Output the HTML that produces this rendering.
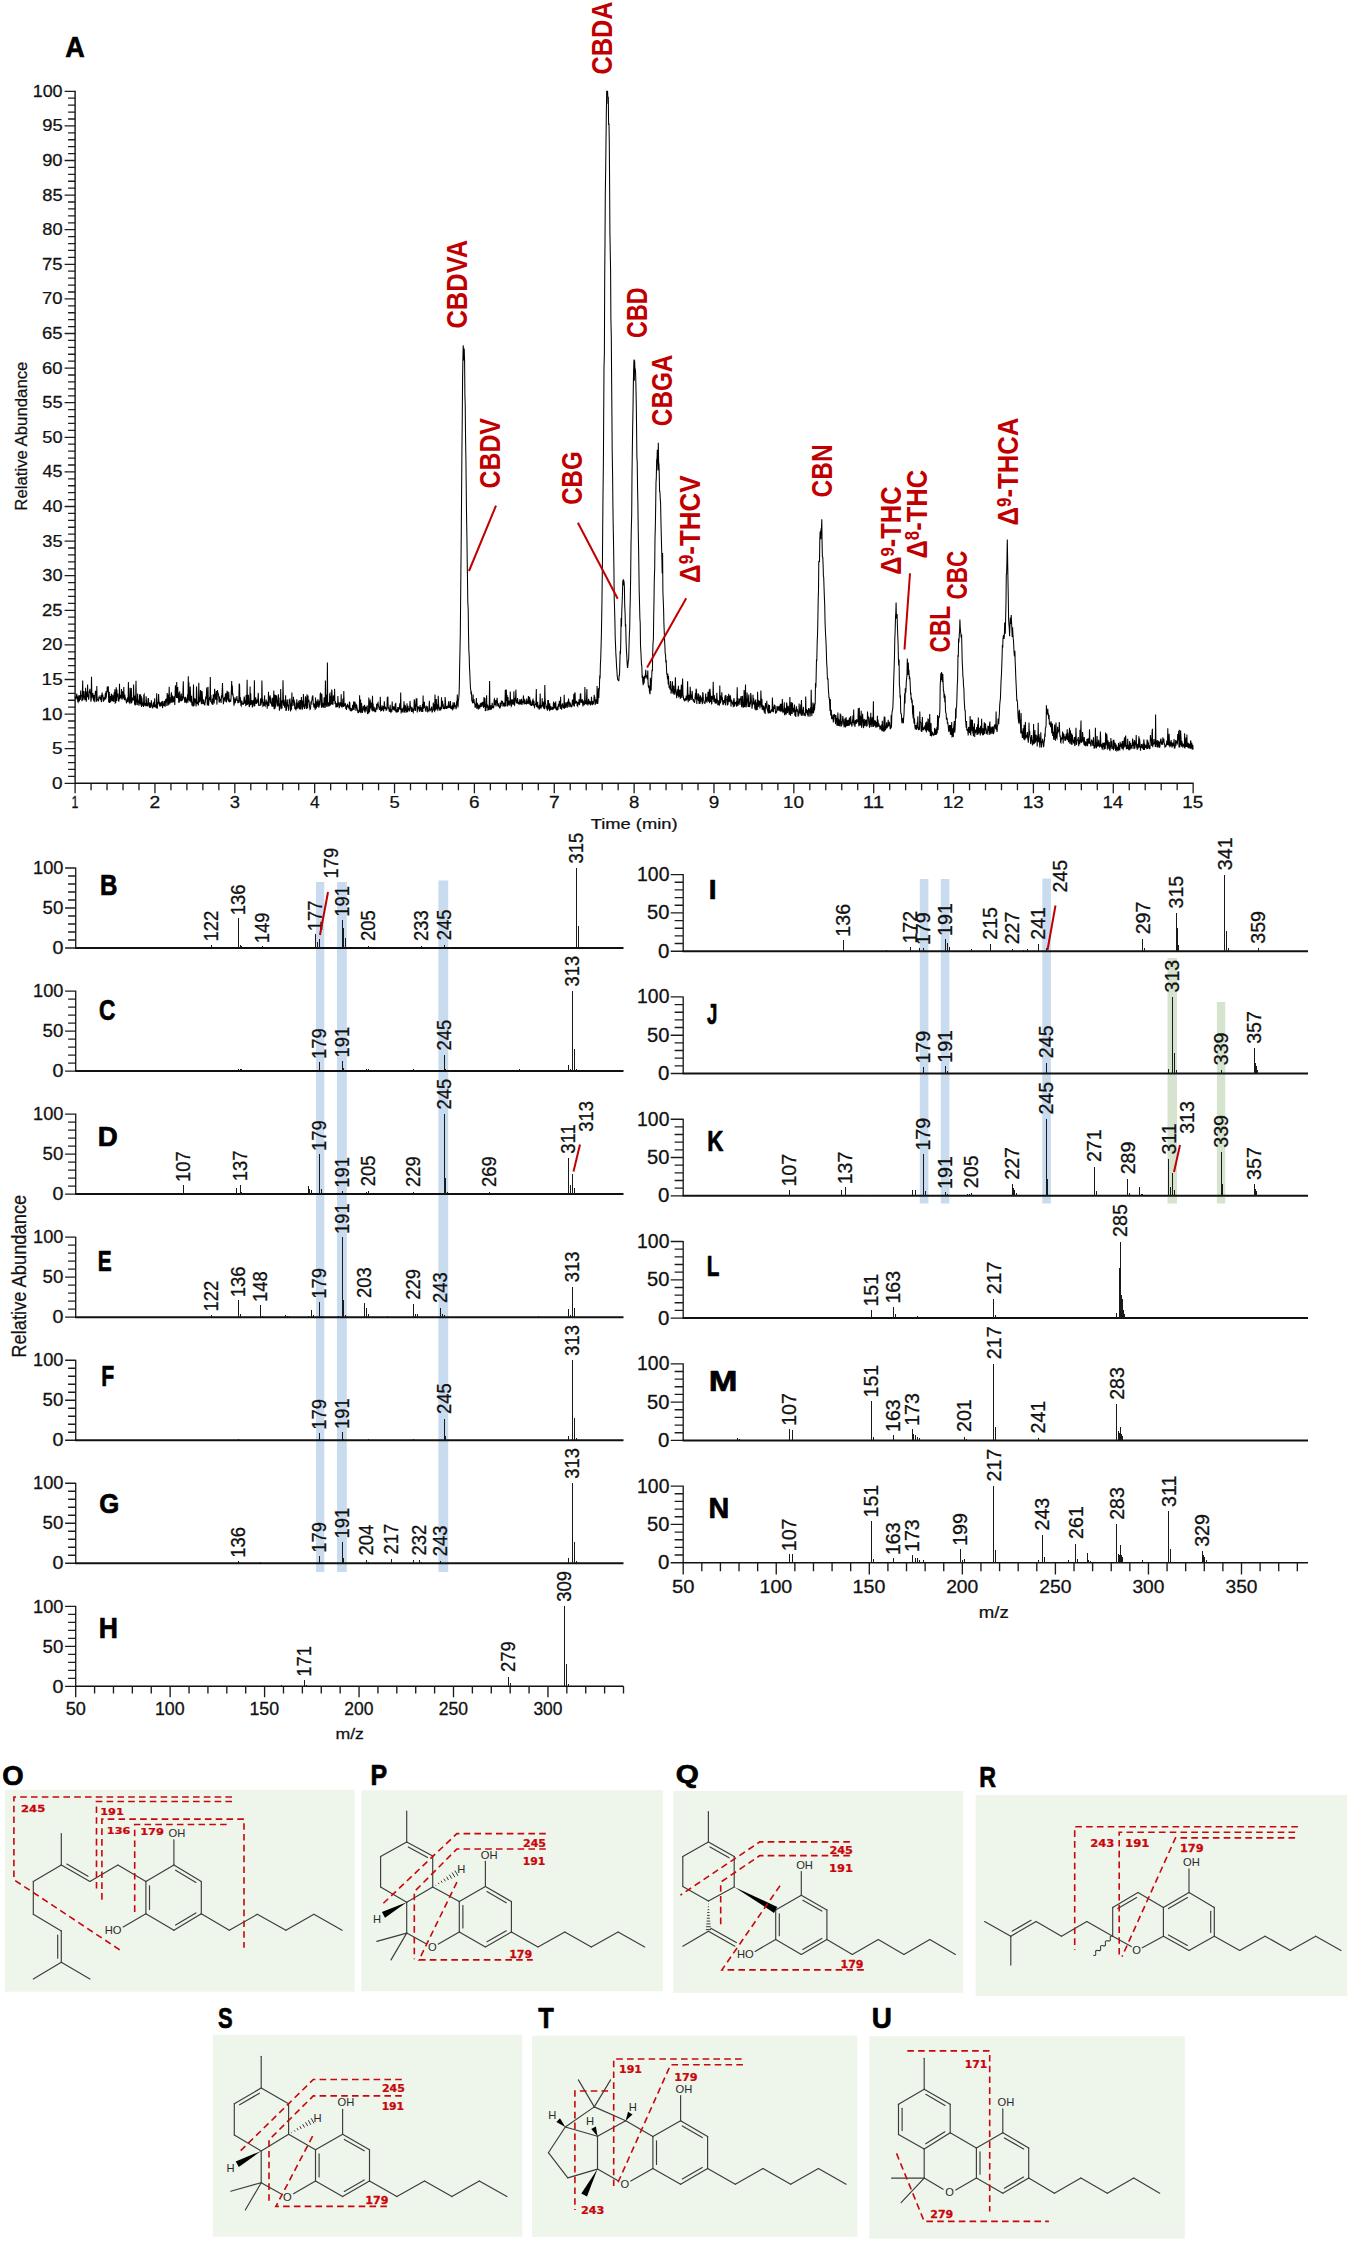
<!DOCTYPE html>
<html lang="en"><head><meta charset="utf-8"><title>Figure</title>
<style>html,body{margin:0;padding:0;background:#fff}body{width:1350px;height:2242px;overflow:hidden}text{white-space:pre}</style></head>
<body>
<svg width="1350" height="2242" viewBox="0 0 1350 2242" style="display:block">
<path d="M75.1 90.8V783.3H1193.6" fill="none" stroke="#111" stroke-width="1.4"/>
<path d="M64.6 783.30H75.1M68.1 776.38H75.1M68.1 769.46H75.1M68.1 762.54H75.1M68.1 755.62H75.1M64.6 748.70H75.1M68.1 741.78H75.1M68.1 734.86H75.1M68.1 727.94H75.1M68.1 721.02H75.1M64.6 714.10H75.1M68.1 707.18H75.1M68.1 700.26H75.1M68.1 693.34H75.1M68.1 686.42H75.1M64.6 679.50H75.1M68.1 672.58H75.1M68.1 665.66H75.1M68.1 658.74H75.1M68.1 651.82H75.1M64.6 644.90H75.1M68.1 637.98H75.1M68.1 631.06H75.1M68.1 624.14H75.1M68.1 617.22H75.1M64.6 610.30H75.1M68.1 603.38H75.1M68.1 596.46H75.1M68.1 589.54H75.1M68.1 582.62H75.1M64.6 575.70H75.1M68.1 568.78H75.1M68.1 561.86H75.1M68.1 554.94H75.1M68.1 548.02H75.1M64.6 541.10H75.1M68.1 534.18H75.1M68.1 527.26H75.1M68.1 520.34H75.1M68.1 513.42H75.1M64.6 506.50H75.1M68.1 499.58H75.1M68.1 492.66H75.1M68.1 485.74H75.1M68.1 478.82H75.1M64.6 471.90H75.1M68.1 464.98H75.1M68.1 458.06H75.1M68.1 451.14H75.1M68.1 444.22H75.1M64.6 437.30H75.1M68.1 430.38H75.1M68.1 423.46H75.1M68.1 416.54H75.1M68.1 409.62H75.1M64.6 402.70H75.1M68.1 395.78H75.1M68.1 388.86H75.1M68.1 381.94H75.1M68.1 375.02H75.1M64.6 368.10H75.1M68.1 361.18H75.1M68.1 354.26H75.1M68.1 347.34H75.1M68.1 340.42H75.1M64.6 333.50H75.1M68.1 326.58H75.1M68.1 319.66H75.1M68.1 312.74H75.1M68.1 305.82H75.1M64.6 298.90H75.1M68.1 291.98H75.1M68.1 285.06H75.1M68.1 278.14H75.1M68.1 271.22H75.1M64.6 264.30H75.1M68.1 257.38H75.1M68.1 250.46H75.1M68.1 243.54H75.1M68.1 236.62H75.1M64.6 229.70H75.1M68.1 222.78H75.1M68.1 215.86H75.1M68.1 208.94H75.1M68.1 202.02H75.1M64.6 195.10H75.1M68.1 188.18H75.1M68.1 181.26H75.1M68.1 174.34H75.1M68.1 167.42H75.1M64.6 160.50H75.1M68.1 153.58H75.1M68.1 146.66H75.1M68.1 139.74H75.1M68.1 132.82H75.1M64.6 125.90H75.1M68.1 118.98H75.1M68.1 112.06H75.1M68.1 105.14H75.1M68.1 98.22H75.1M64.6 91.30H75.1M75.10 783.3v10M91.07 783.3v7M107.04 783.3v7M123.02 783.3v7M138.99 783.3v7M154.96 783.3v10M170.93 783.3v7M186.90 783.3v7M202.88 783.3v7M218.85 783.3v7M234.82 783.3v10M250.79 783.3v7M266.76 783.3v7M282.74 783.3v7M298.71 783.3v7M314.68 783.3v10M330.65 783.3v7M346.62 783.3v7M362.60 783.3v7M378.57 783.3v7M394.54 783.3v10M410.51 783.3v7M426.48 783.3v7M442.46 783.3v7M458.43 783.3v7M474.40 783.3v10M490.37 783.3v7M506.34 783.3v7M522.32 783.3v7M538.29 783.3v7M554.26 783.3v10M570.23 783.3v7M586.20 783.3v7M602.18 783.3v7M618.15 783.3v7M634.12 783.3v10M650.09 783.3v7M666.06 783.3v7M682.04 783.3v7M698.01 783.3v7M713.98 783.3v10M729.95 783.3v7M745.92 783.3v7M761.90 783.3v7M777.87 783.3v7M793.84 783.3v10M809.81 783.3v7M825.78 783.3v7M841.76 783.3v7M857.73 783.3v7M873.70 783.3v10M889.67 783.3v7M905.64 783.3v7M921.62 783.3v7M937.59 783.3v7M953.56 783.3v10M969.53 783.3v7M985.50 783.3v7M1001.48 783.3v7M1017.45 783.3v7M1033.42 783.3v10M1049.39 783.3v7M1065.36 783.3v7M1081.34 783.3v7M1097.31 783.3v7M1113.28 783.3v10M1129.25 783.3v7M1145.22 783.3v7M1161.20 783.3v7M1177.17 783.3v7M1193.14 783.3v10" fill="none" stroke="#1c1c1c" stroke-width="1.3"/>
<text transform="translate(52.07,788.71) scale(1.1412,1)" font-family='"Liberation Sans", sans-serif' font-weight="normal" font-size="16.61" fill="#111"  stroke="#111" stroke-width="0.25" stroke-linejoin="round">0</text>
<text transform="translate(52.06,754.11) scale(1.1310,1)" font-family='"Liberation Sans", sans-serif' font-weight="normal" font-size="16.85" fill="#111"  stroke="#111" stroke-width="0.25" stroke-linejoin="round">5</text>
<text transform="translate(41.61,719.51) scale(1.1379,1)" font-family='"Liberation Sans", sans-serif' font-weight="normal" font-size="16.61" fill="#111"  stroke="#111" stroke-width="0.25" stroke-linejoin="round">10</text>
<text transform="translate(41.60,684.91) scale(1.1246,1)" font-family='"Liberation Sans", sans-serif' font-weight="normal" font-size="16.85" fill="#111"  stroke="#111" stroke-width="0.25" stroke-linejoin="round">15</text>
<text transform="translate(42.10,650.31) scale(1.1100,1)" font-family='"Liberation Sans", sans-serif' font-weight="normal" font-size="16.61" fill="#111"  stroke="#111" stroke-width="0.25" stroke-linejoin="round">20</text>
<text transform="translate(42.10,615.71) scale(1.1128,1)" font-family='"Liberation Sans", sans-serif' font-weight="normal" font-size="16.61" fill="#111"  stroke="#111" stroke-width="0.25" stroke-linejoin="round">25</text>
<text transform="translate(42.34,581.11) scale(1.0966,1)" font-family='"Liberation Sans", sans-serif' font-weight="normal" font-size="16.61" fill="#111"  stroke="#111" stroke-width="0.25" stroke-linejoin="round">30</text>
<text transform="translate(42.34,546.51) scale(1.0993,1)" font-family='"Liberation Sans", sans-serif' font-weight="normal" font-size="16.61" fill="#111"  stroke="#111" stroke-width="0.25" stroke-linejoin="round">35</text>
<text transform="translate(42.62,511.91) scale(1.0810,1)" font-family='"Liberation Sans", sans-serif' font-weight="normal" font-size="16.61" fill="#111"  stroke="#111" stroke-width="0.25" stroke-linejoin="round">40</text>
<text transform="translate(42.62,477.31) scale(1.0682,1)" font-family='"Liberation Sans", sans-serif' font-weight="normal" font-size="16.85" fill="#111"  stroke="#111" stroke-width="0.25" stroke-linejoin="round">45</text>
<text transform="translate(42.29,442.71) scale(1.0993,1)" font-family='"Liberation Sans", sans-serif' font-weight="normal" font-size="16.61" fill="#111"  stroke="#111" stroke-width="0.25" stroke-linejoin="round">50</text>
<text transform="translate(42.29,408.11) scale(1.0864,1)" font-family='"Liberation Sans", sans-serif' font-weight="normal" font-size="16.85" fill="#111"  stroke="#111" stroke-width="0.25" stroke-linejoin="round">55</text>
<text transform="translate(42.10,373.51) scale(1.1100,1)" font-family='"Liberation Sans", sans-serif' font-weight="normal" font-size="16.61" fill="#111"  stroke="#111" stroke-width="0.25" stroke-linejoin="round">60</text>
<text transform="translate(42.10,338.91) scale(1.1128,1)" font-family='"Liberation Sans", sans-serif' font-weight="normal" font-size="16.61" fill="#111"  stroke="#111" stroke-width="0.25" stroke-linejoin="round">65</text>
<text transform="translate(42.10,304.31) scale(1.1100,1)" font-family='"Liberation Sans", sans-serif' font-weight="normal" font-size="16.61" fill="#111"  stroke="#111" stroke-width="0.25" stroke-linejoin="round">70</text>
<text transform="translate(42.10,269.71) scale(1.0970,1)" font-family='"Liberation Sans", sans-serif' font-weight="normal" font-size="16.85" fill="#111"  stroke="#111" stroke-width="0.25" stroke-linejoin="round">75</text>
<text transform="translate(42.25,235.11) scale(1.1020,1)" font-family='"Liberation Sans", sans-serif' font-weight="normal" font-size="16.61" fill="#111"  stroke="#111" stroke-width="0.25" stroke-linejoin="round">80</text>
<text transform="translate(42.25,200.51) scale(1.1046,1)" font-family='"Liberation Sans", sans-serif' font-weight="normal" font-size="16.61" fill="#111"  stroke="#111" stroke-width="0.25" stroke-linejoin="round">85</text>
<text transform="translate(42.15,165.91) scale(1.1073,1)" font-family='"Liberation Sans", sans-serif' font-weight="normal" font-size="16.61" fill="#111"  stroke="#111" stroke-width="0.25" stroke-linejoin="round">90</text>
<text transform="translate(42.15,131.31) scale(1.1100,1)" font-family='"Liberation Sans", sans-serif' font-weight="normal" font-size="16.61" fill="#111"  stroke="#111" stroke-width="0.25" stroke-linejoin="round">95</text>
<text transform="translate(32.68,96.71) scale(1.0784,1)" font-family='"Liberation Sans", sans-serif' font-weight="normal" font-size="16.61" fill="#111"  stroke="#111" stroke-width="0.25" stroke-linejoin="round">100</text>
<text transform="translate(71.50,808.17) scale(0.7696,1)" font-family='"Liberation Sans", sans-serif' font-weight="normal" font-size="16.07" fill="#111"  stroke="#111" stroke-width="0.25" stroke-linejoin="round">1</text>
<text transform="translate(149.62,808.17) scale(1.2139,1)" font-family='"Liberation Sans", sans-serif' font-weight="normal" font-size="15.84" fill="#111"  stroke="#111" stroke-width="0.25" stroke-linejoin="round">2</text>
<text transform="translate(229.75,808.02) scale(1.1794,1)" font-family='"Liberation Sans", sans-serif' font-weight="normal" font-size="15.62" fill="#111"  stroke="#111" stroke-width="0.25" stroke-linejoin="round">3</text>
<text transform="translate(309.92,808.17) scale(1.0780,1)" font-family='"Liberation Sans", sans-serif' font-weight="normal" font-size="16.07" fill="#111"  stroke="#111" stroke-width="0.25" stroke-linejoin="round">4</text>
<text transform="translate(389.43,808.02) scale(1.1628,1)" font-family='"Liberation Sans", sans-serif' font-weight="normal" font-size="15.84" fill="#111"  stroke="#111" stroke-width="0.25" stroke-linejoin="round">5</text>
<text transform="translate(469.08,808.02) scale(1.2113,1)" font-family='"Liberation Sans", sans-serif' font-weight="normal" font-size="15.62" fill="#111"  stroke="#111" stroke-width="0.25" stroke-linejoin="round">6</text>
<text transform="translate(548.92,808.17) scale(1.1965,1)" font-family='"Liberation Sans", sans-serif' font-weight="normal" font-size="16.07" fill="#111"  stroke="#111" stroke-width="0.25" stroke-linejoin="round">7</text>
<text transform="translate(628.95,808.02) scale(1.1920,1)" font-family='"Liberation Sans", sans-serif' font-weight="normal" font-size="15.62" fill="#111"  stroke="#111" stroke-width="0.25" stroke-linejoin="round">8</text>
<text transform="translate(708.71,808.02) scale(1.2113,1)" font-family='"Liberation Sans", sans-serif' font-weight="normal" font-size="15.62" fill="#111"  stroke="#111" stroke-width="0.25" stroke-linejoin="round">9</text>
<text transform="translate(783.06,808.02) scale(1.2035,1)" font-family='"Liberation Sans", sans-serif' font-weight="normal" font-size="15.62" fill="#111"  stroke="#111" stroke-width="0.25" stroke-linejoin="round">10</text>
<text transform="translate(862.79,808.17) scale(1.2749,1)" font-family='"Liberation Sans", sans-serif' font-weight="normal" font-size="16.07" fill="#111"  stroke="#111" stroke-width="0.25" stroke-linejoin="round">11</text>
<text transform="translate(942.76,808.17) scale(1.2016,1)" font-family='"Liberation Sans", sans-serif' font-weight="normal" font-size="15.84" fill="#111"  stroke="#111" stroke-width="0.25" stroke-linejoin="round">12</text>
<text transform="translate(1022.63,808.02) scale(1.2096,1)" font-family='"Liberation Sans", sans-serif' font-weight="normal" font-size="15.62" fill="#111"  stroke="#111" stroke-width="0.25" stroke-linejoin="round">13</text>
<text transform="translate(1102.51,808.17) scale(1.1579,1)" font-family='"Liberation Sans", sans-serif' font-weight="normal" font-size="16.07" fill="#111"  stroke="#111" stroke-width="0.25" stroke-linejoin="round">14</text>
<text transform="translate(1182.35,808.02) scale(1.1895,1)" font-family='"Liberation Sans", sans-serif' font-weight="normal" font-size="15.84" fill="#111"  stroke="#111" stroke-width="0.25" stroke-linejoin="round">15</text>
<text transform="translate(590.71,829.17) scale(1.2264,1)" font-family='"Liberation Sans", sans-serif' font-weight="normal" font-size="14.96" fill="#111"  stroke="#111" stroke-width="0.25" stroke-linejoin="round">Time (min)</text>
<text transform="translate(26.60,510.66) rotate(-90) scale(0.9827,1)" font-family='"Liberation Sans", sans-serif' font-weight="normal" font-size="17.07" fill="#111"  stroke="#111" stroke-width="0.25" stroke-linejoin="round">Relative Abundance</text>
<polyline points="75.1,696.6 75.4,697.9 75.8,698.6 76.1,696.2 76.4,698.7 76.7,693.7 77.1,695.9 77.4,696.6 77.7,701.2 78.1,702.1 78.4,701.0 78.7,695.4 79.0,696.5 79.4,701.4 79.7,695.3 80.0,699.5 80.4,699.4 80.7,690.5 81.0,696.5 81.3,695.6 81.7,695.5 82.0,701.2 82.3,695.3 82.7,680.4 83.0,700.3 83.3,692.5 83.7,691.8 84.0,691.7 84.3,698.6 84.6,697.8 85.0,700.1 85.3,696.6 85.6,687.8 86.0,698.9 86.3,701.6 86.6,696.1 86.9,691.5 87.3,697.3 87.6,684.6 87.9,697.0 88.3,696.2 88.6,699.8 88.9,697.6 89.2,691.6 89.6,691.5 89.9,688.7 90.2,692.3 90.6,693.8 90.9,701.8 91.2,699.4 91.5,676.8 91.9,698.5 92.2,693.2 92.5,696.9 92.9,693.0 93.2,696.4 93.5,700.1 93.8,699.6 94.2,695.1 94.5,698.8 94.8,702.2 95.2,694.2 95.5,690.8 95.8,691.9 96.2,691.7 96.5,701.7 96.8,685.9 97.1,697.9 97.5,700.5 97.8,699.0 98.1,700.0 98.5,701.4 98.8,697.5 99.1,696.7 99.4,698.4 99.8,696.8 100.1,698.3 100.4,699.3 100.8,699.8 101.1,695.1 101.4,702.1 101.7,699.8 102.1,692.6 102.4,696.7 102.7,694.6 103.1,697.8 103.4,701.6 103.7,699.3 104.0,697.2 104.4,699.3 104.7,698.5 105.0,697.0 105.4,693.0 105.7,699.5 106.0,691.2 106.3,697.7 106.7,692.3 107.0,691.1 107.3,686.5 107.7,691.5 108.0,691.6 108.3,686.3 108.7,702.4 109.0,700.9 109.3,691.7 109.6,703.0 110.0,696.6 110.3,696.6 110.6,702.0 111.0,700.7 111.3,693.8 111.6,694.5 111.9,699.6 112.3,700.4 112.6,700.0 112.9,694.9 113.3,701.7 113.6,697.2 113.9,701.8 114.2,692.3 114.6,696.3 114.9,689.2 115.2,703.0 115.6,702.7 115.9,699.7 116.2,687.2 116.5,701.2 116.9,689.5 117.2,696.6 117.5,696.6 117.9,693.5 118.2,700.9 118.5,699.8 118.8,701.6 119.2,697.0 119.5,683.8 119.8,699.1 120.2,695.0 120.5,695.7 120.8,696.7 121.2,698.4 121.5,689.1 121.8,697.2 122.1,699.7 122.5,691.4 122.8,693.3 123.1,696.2 123.5,698.4 123.8,687.0 124.1,697.8 124.4,700.3 124.8,694.6 125.1,699.3 125.4,698.1 125.8,699.6 126.1,698.9 126.4,703.3 126.7,701.5 127.1,701.3 127.4,699.6 127.7,697.2 128.1,702.2 128.4,682.1 128.7,699.3 129.0,696.7 129.4,702.7 129.7,702.2 130.0,687.7 130.4,695.4 130.7,699.7 131.0,703.7 131.3,688.1 131.7,702.8 132.0,701.3 132.3,700.1 132.7,697.6 133.0,699.5 133.3,699.8 133.6,684.6 134.0,699.2 134.3,697.4 134.6,704.7 135.0,695.5 135.3,705.4 135.6,702.8 136.0,680.7 136.3,700.8 136.6,700.4 136.9,704.6 137.3,704.7 137.6,693.4 137.9,702.6 138.3,701.2 138.6,702.2 138.9,705.7 139.2,701.6 139.6,694.4 139.9,704.1 140.2,698.7 140.6,694.2 140.9,705.5 141.2,696.1 141.5,707.0 141.9,697.7 142.2,703.0 142.5,705.6 142.9,702.2 143.2,704.2 143.5,707.0 143.8,695.2 144.2,694.5 144.5,705.7 144.8,703.8 145.2,704.1 145.5,703.2 145.8,706.5 146.1,696.3 146.5,701.9 146.8,705.8 147.1,704.3 147.5,705.3 147.8,703.2 148.1,698.7 148.5,698.6 148.8,706.4 149.1,702.0 149.4,706.0 149.8,707.9 150.1,706.6 150.4,702.7 150.8,707.7 151.1,705.6 151.4,700.4 151.7,705.6 152.1,705.8 152.4,706.5 152.7,708.4 153.1,704.2 153.4,702.9 153.7,702.5 154.0,706.8 154.4,706.8 154.7,698.3 155.0,706.6 155.4,704.5 155.7,707.0 156.0,707.0 156.3,708.0 156.7,693.2 157.0,704.6 157.3,708.6 157.7,702.9 158.0,703.2 158.3,703.0 158.6,693.9 159.0,703.3 159.3,702.9 159.6,705.7 160.0,706.6 160.3,703.0 160.6,703.3 161.0,706.2 161.3,704.8 161.6,702.3 161.9,701.9 162.3,704.8 162.6,708.2 162.9,701.2 163.3,703.8 163.6,705.7 163.9,704.2 164.2,706.1 164.6,700.8 164.9,703.4 165.2,706.8 165.6,699.9 165.9,699.0 166.2,702.3 166.5,698.5 166.9,706.0 167.2,693.1 167.5,699.3 167.9,694.5 168.2,705.5 168.5,703.0 168.8,701.8 169.2,686.7 169.5,700.4 169.8,704.4 170.2,697.2 170.5,698.9 170.8,702.6 171.1,694.9 171.5,692.3 171.8,700.5 172.1,702.9 172.5,695.5 172.8,697.0 173.1,700.3 173.5,702.1 173.8,700.0 174.1,696.3 174.4,698.3 174.8,704.9 175.1,695.0 175.4,685.2 175.8,696.2 176.1,692.9 176.4,698.0 176.7,682.1 177.1,697.9 177.4,688.5 177.7,686.9 178.1,698.4 178.4,692.4 178.7,702.7 179.0,695.7 179.4,702.6 179.7,691.3 180.0,699.5 180.4,698.5 180.7,701.1 181.0,696.3 181.3,693.5 181.7,701.1 182.0,699.1 182.3,696.4 182.7,700.2 183.0,689.3 183.3,681.2 183.6,696.5 184.0,698.3 184.3,697.1 184.6,701.2 185.0,702.9 185.3,701.1 185.6,696.9 186.0,699.6 186.3,701.8 186.6,702.3 186.9,698.5 187.3,700.1 187.6,694.3 187.9,702.7 188.3,676.2 188.6,699.4 188.9,682.2 189.2,700.7 189.6,696.3 189.9,701.5 190.2,686.6 190.6,695.3 190.9,702.6 191.2,700.6 191.5,695.8 191.9,705.4 192.2,703.1 192.5,702.7 192.9,706.5 193.2,698.9 193.5,684.6 193.8,706.2 194.2,705.0 194.5,700.2 194.8,698.8 195.2,699.2 195.5,702.3 195.8,703.3 196.1,706.5 196.5,686.4 196.8,692.2 197.1,704.1 197.5,701.5 197.8,702.6 198.1,703.3 198.4,705.5 198.8,682.8 199.1,702.5 199.4,697.1 199.8,702.4 200.1,699.9 200.4,690.1 200.8,701.0 201.1,690.7 201.4,704.2 201.7,697.4 202.1,691.4 202.4,696.7 202.7,704.1 203.1,702.9 203.4,704.0 203.7,699.4 204.0,702.0 204.4,704.2 204.7,705.5 205.0,703.7 205.4,701.1 205.7,696.6 206.0,698.7 206.3,696.8 206.7,687.6 207.0,698.3 207.3,705.5 207.7,701.6 208.0,686.8 208.3,699.6 208.6,705.7 209.0,700.5 209.3,699.5 209.6,696.8 210.0,700.0 210.3,677.1 210.6,701.8 210.9,695.1 211.3,701.7 211.6,703.4 211.9,701.6 212.3,704.4 212.6,698.6 212.9,705.0 213.3,694.3 213.6,699.6 213.9,695.5 214.2,703.5 214.6,688.8 214.9,691.3 215.2,693.2 215.6,699.8 215.9,694.4 216.2,699.4 216.5,690.9 216.9,704.6 217.2,698.9 217.5,690.1 217.9,694.0 218.2,693.6 218.5,694.2 218.8,698.2 219.2,702.7 219.5,696.4 219.8,701.0 220.2,700.4 220.5,699.7 220.8,699.2 221.1,703.0 221.5,695.2 221.8,698.2 222.1,691.9 222.5,683.0 222.8,694.6 223.1,698.7 223.4,704.1 223.8,699.6 224.1,698.4 224.4,697.9 224.8,699.2 225.1,701.8 225.4,693.7 225.8,698.7 226.1,692.9 226.4,702.5 226.7,697.9 227.1,691.4 227.4,691.7 227.7,698.6 228.1,700.1 228.4,701.3 228.7,691.8 229.0,697.4 229.4,702.4 229.7,699.8 230.0,701.9 230.4,699.5 230.7,701.6 231.0,698.5 231.3,691.4 231.7,680.9 232.0,694.4 232.3,685.6 232.7,695.6 233.0,695.0 233.3,697.0 233.6,699.9 234.0,705.8 234.3,703.5 234.6,700.6 235.0,697.4 235.3,703.1 235.6,699.6 235.9,700.2 236.3,700.2 236.6,699.4 236.9,696.1 237.3,701.0 237.6,700.2 237.9,703.1 238.3,701.3 238.6,702.9 238.9,697.3 239.2,683.5 239.6,685.2 239.9,702.4 240.2,697.1 240.6,699.3 240.9,705.3 241.2,705.8 241.5,702.7 241.9,700.7 242.2,704.7 242.5,703.8 242.9,703.5 243.2,703.8 243.5,704.7 243.8,701.3 244.2,696.5 244.5,698.8 244.8,703.8 245.2,701.1 245.5,700.2 245.8,706.1 246.1,694.9 246.5,703.5 246.8,705.1 247.1,679.8 247.5,704.6 247.8,702.2 248.1,703.8 248.4,694.8 248.8,702.3 249.1,705.9 249.4,707.0 249.8,703.5 250.1,686.5 250.4,705.2 250.7,693.3 251.1,704.8 251.4,702.3 251.7,700.2 252.1,702.2 252.4,707.4 252.7,704.3 253.1,700.2 253.4,704.2 253.7,699.5 254.0,706.6 254.4,680.2 254.7,706.1 255.0,702.7 255.4,702.7 255.7,697.2 256.0,703.8 256.3,702.1 256.7,702.8 257.0,699.9 257.3,700.0 257.7,702.6 258.0,697.4 258.3,692.9 258.6,705.2 259.0,705.0 259.3,705.2 259.6,705.4 260.0,705.2 260.3,702.4 260.6,698.4 260.9,705.4 261.3,700.5 261.6,703.3 261.9,680.6 262.3,701.5 262.6,698.7 262.9,706.4 263.2,706.1 263.6,701.8 263.9,705.8 264.2,703.2 264.6,695.4 264.9,705.8 265.2,706.1 265.6,702.2 265.9,704.2 266.2,699.6 266.5,703.7 266.9,703.4 267.2,708.8 267.5,701.4 267.9,705.9 268.2,702.6 268.5,691.8 268.8,706.2 269.2,701.5 269.5,697.1 269.8,696.9 270.2,695.3 270.5,703.5 270.8,697.8 271.1,701.8 271.5,704.7 271.8,705.6 272.1,706.7 272.5,697.7 272.8,703.6 273.1,706.7 273.4,704.5 273.8,690.5 274.1,708.6 274.4,708.6 274.8,694.5 275.1,708.8 275.4,694.9 275.7,706.6 276.1,702.2 276.4,696.3 276.7,696.0 277.1,700.1 277.4,704.7 277.7,705.9 278.1,705.9 278.4,694.3 278.7,703.2 279.0,697.5 279.4,710.8 279.7,706.6 280.0,703.6 280.4,706.8 280.7,689.0 281.0,709.2 281.3,702.5 281.7,700.2 282.0,708.6 282.3,700.5 282.7,703.3 283.0,680.3 283.3,696.1 283.6,705.8 284.0,699.8 284.3,703.6 284.6,707.6 285.0,702.1 285.3,703.1 285.6,695.3 285.9,710.3 286.3,710.2 286.6,708.7 286.9,702.2 287.3,699.4 287.6,706.4 287.9,704.6 288.2,705.6 288.6,710.7 288.9,708.9 289.2,700.5 289.6,701.0 289.9,698.5 290.2,701.9 290.6,711.4 290.9,704.2 291.2,703.8 291.5,709.8 291.9,692.6 292.2,706.1 292.5,699.9 292.9,701.1 293.2,702.1 293.5,696.8 293.8,705.8 294.2,699.8 294.5,702.8 294.8,709.0 295.2,707.4 295.5,708.9 295.8,709.5 296.1,702.5 296.5,709.2 296.8,699.2 297.1,705.8 297.5,705.8 297.8,708.6 298.1,702.8 298.4,707.7 298.8,701.2 299.1,700.9 299.4,709.2 299.8,702.1 300.1,709.6 300.4,700.0 300.7,709.6 301.1,707.8 301.4,697.1 301.7,703.3 302.1,700.8 302.4,709.8 302.7,700.4 303.0,707.3 303.4,694.0 303.7,704.2 304.0,704.9 304.4,709.0 304.7,707.5 305.0,704.6 305.4,696.5 305.7,697.3 306.0,705.6 306.3,708.3 306.7,708.5 307.0,694.3 307.3,703.4 307.7,708.2 308.0,695.6 308.3,702.2 308.6,701.0 309.0,700.5 309.3,703.4 309.6,706.9 310.0,709.5 310.3,709.1 310.6,708.1 310.9,702.7 311.3,703.4 311.6,701.3 311.9,700.5 312.3,696.6 312.6,696.2 312.9,695.4 313.2,704.4 313.6,704.7 313.9,707.5 314.2,704.1 314.6,704.8 314.9,707.6 315.2,709.9 315.5,697.5 315.9,702.5 316.2,708.4 316.5,706.9 316.9,701.2 317.2,707.0 317.5,703.6 317.9,699.3 318.2,700.5 318.5,705.4 318.8,707.6 319.2,706.1 319.5,700.8 319.8,705.2 320.2,694.2 320.5,692.7 320.8,694.5 321.1,700.6 321.5,707.8 321.8,693.7 322.1,700.1 322.5,706.2 322.8,706.8 323.1,706.0 323.4,703.0 323.8,707.7 324.1,697.3 324.4,704.9 324.8,700.7 325.1,707.9 325.4,680.6 325.7,697.9 326.1,703.6 326.4,706.8 326.7,694.7 327.1,704.6 327.4,662.6 327.7,705.9 328.0,706.7 328.4,703.2 328.7,702.9 329.0,704.4 329.4,706.2 329.7,694.0 330.0,693.5 330.4,705.6 330.7,695.8 331.0,702.6 331.3,703.1 331.7,689.5 332.0,691.5 332.3,704.4 332.7,699.6 333.0,704.9 333.3,695.4 333.6,698.9 334.0,701.0 334.3,699.7 334.6,688.8 335.0,704.1 335.3,701.0 335.6,702.6 335.9,707.5 336.3,703.9 336.6,707.2 336.9,703.1 337.3,706.4 337.6,706.6 337.9,696.0 338.2,705.0 338.6,704.6 338.9,702.3 339.2,708.2 339.6,706.5 339.9,706.2 340.2,702.2 340.5,703.1 340.9,706.1 341.2,694.2 341.5,706.0 341.9,706.8 342.2,702.9 342.5,706.8 342.9,698.4 343.2,703.5 343.5,707.0 343.8,691.0 344.2,706.4 344.5,705.3 344.8,704.0 345.2,704.0 345.5,703.8 345.8,708.9 346.1,705.5 346.5,710.0 346.8,706.8 347.1,706.4 347.5,703.9 347.8,707.2 348.1,705.2 348.4,707.8 348.8,706.3 349.1,709.2 349.4,702.3 349.8,702.7 350.1,710.7 350.4,708.0 350.7,708.4 351.1,711.4 351.4,710.6 351.7,708.4 352.1,710.7 352.4,707.2 352.7,704.8 353.0,709.8 353.4,705.5 353.7,701.4 354.0,710.1 354.4,702.8 354.7,702.6 355.0,701.7 355.4,708.3 355.7,707.4 356.0,710.9 356.3,704.7 356.7,705.4 357.0,707.3 357.3,708.8 357.7,710.9 358.0,713.3 358.3,710.8 358.6,713.0 359.0,709.6 359.3,711.6 359.6,695.3 360.0,711.2 360.3,712.0 360.6,699.6 360.9,713.2 361.3,703.8 361.6,703.6 361.9,709.9 362.3,713.0 362.6,711.5 362.9,709.1 363.2,705.9 363.6,707.5 363.9,708.0 364.2,711.1 364.6,704.8 364.9,712.6 365.2,711.9 365.5,709.2 365.9,706.5 366.2,708.0 366.5,707.8 366.9,711.4 367.2,705.4 367.5,714.1 367.8,711.8 368.2,713.2 368.5,712.7 368.8,697.4 369.2,706.3 369.5,712.5 369.8,709.8 370.2,699.5 370.5,708.5 370.8,702.3 371.1,704.8 371.5,704.1 371.8,710.5 372.1,708.0 372.5,695.7 372.8,711.6 373.1,703.4 373.4,711.0 373.8,709.0 374.1,706.7 374.4,710.4 374.8,709.8 375.1,712.1 375.4,709.4 375.7,712.2 376.1,707.3 376.4,708.4 376.7,703.9 377.1,709.6 377.4,703.9 377.7,703.4 378.0,702.7 378.4,705.4 378.7,706.8 379.0,707.5 379.4,709.9 379.7,708.6 380.0,708.6 380.3,696.8 380.7,711.5 381.0,709.2 381.3,707.4 381.7,710.9 382.0,705.4 382.3,710.2 382.7,707.0 383.0,708.2 383.3,706.0 383.6,711.5 384.0,707.2 384.3,701.4 384.6,704.8 385.0,708.4 385.3,708.2 385.6,707.8 385.9,709.2 386.3,710.8 386.6,708.5 386.9,708.8 387.3,697.3 387.6,706.7 387.9,696.5 388.2,708.8 388.6,707.4 388.9,708.7 389.2,711.1 389.6,711.3 389.9,709.8 390.2,704.8 390.5,711.7 390.9,712.2 391.2,709.2 391.5,710.9 391.9,711.1 392.2,701.6 392.5,709.4 392.8,707.2 393.2,709.6 393.5,706.4 393.8,709.7 394.2,710.0 394.5,706.9 394.8,709.8 395.2,703.9 395.5,711.5 395.8,702.8 396.1,712.4 396.5,710.9 396.8,709.3 397.1,712.5 397.5,711.4 397.8,707.0 398.1,710.5 398.4,711.8 398.8,707.0 399.1,709.5 399.4,707.7 399.8,703.2 400.1,709.8 400.4,708.6 400.7,692.4 401.1,713.5 401.4,709.1 401.7,711.8 402.1,708.2 402.4,711.8 402.7,711.0 403.0,712.6 403.4,706.9 403.7,709.6 404.0,701.3 404.4,712.0 404.7,704.6 405.0,712.9 405.3,705.2 405.7,708.1 406.0,710.8 406.3,709.1 406.7,712.4 407.0,703.2 407.3,712.1 407.7,710.8 408.0,705.8 408.3,710.3 408.6,708.4 409.0,708.5 409.3,710.9 409.6,710.4 410.0,700.9 410.3,705.6 410.6,707.0 410.9,708.8 411.3,711.1 411.6,711.8 411.9,706.8 412.3,710.4 412.6,709.7 412.9,711.4 413.2,712.1 413.6,708.5 413.9,711.1 414.2,699.4 414.6,701.4 414.9,709.6 415.2,704.3 415.5,710.9 415.9,704.2 416.2,698.4 416.5,706.6 416.9,698.2 417.2,712.4 417.5,709.0 417.8,709.6 418.2,706.4 418.5,708.8 418.8,706.8 419.2,708.4 419.5,710.9 419.8,711.7 420.1,705.0 420.5,710.7 420.8,707.1 421.1,707.8 421.5,710.3 421.8,712.0 422.1,708.3 422.5,704.1 422.8,711.9 423.1,695.6 423.4,708.6 423.8,707.7 424.1,703.5 424.4,701.9 424.8,708.0 425.1,706.3 425.4,710.8 425.7,709.1 426.1,711.8 426.4,706.8 426.7,707.4 427.1,707.3 427.4,707.0 427.7,712.5 428.0,709.7 428.4,711.3 428.7,710.0 429.0,707.3 429.4,700.7 429.7,709.6 430.0,710.8 430.3,710.3 430.7,709.3 431.0,709.5 431.3,708.3 431.7,706.5 432.0,711.9 432.3,711.9 432.6,710.5 433.0,710.1 433.3,702.4 433.6,709.4 434.0,703.9 434.3,710.8 434.6,711.2 435.0,694.5 435.3,704.7 435.6,710.5 435.9,708.6 436.3,699.0 436.6,706.6 436.9,709.3 437.3,704.4 437.6,706.2 437.9,711.1 438.2,695.8 438.6,703.6 438.9,707.7 439.2,708.8 439.6,709.2 439.9,710.6 440.2,706.8 440.5,708.8 440.9,709.6 441.2,708.9 441.5,697.3 441.9,708.6 442.2,702.6 442.5,700.7 442.8,706.4 443.2,703.7 443.5,709.0 443.8,707.5 444.2,706.2 444.5,708.8 444.8,708.7 445.1,697.0 445.5,701.7 445.8,706.6 446.1,708.9 446.5,706.1 446.8,708.8 447.1,707.1 447.5,706.4 447.8,706.0 448.1,708.1 448.4,703.6 448.8,701.2 449.1,707.6 449.4,705.9 449.8,707.9 450.1,706.0 450.4,701.1 450.7,708.2 451.1,708.5 451.4,707.3 451.7,707.8 452.1,706.2 452.4,706.7 452.7,710.4 453.0,702.4 453.4,708.0 453.7,707.4 454.0,708.6 454.4,702.3 454.7,703.5 455.0,707.0 455.3,705.7 455.7,706.5 456.0,709.2 456.3,708.1 456.7,701.0 457.0,705.2 457.3,694.6 457.6,703.9 458.0,707.4 458.3,700.8 458.6,699.3 459.0,695.4 459.3,687.2 459.6,667.4 460.0,650.0 460.3,634.0 460.6,604.0 460.9,571.7 461.3,529.0 461.6,491.4 461.9,453.1 462.3,414.0 462.6,378.3 462.9,359.3 463.2,345.4 463.6,352.8 463.9,360.5 464.2,348.6 464.6,360.9 464.9,396.0 465.2,404.3 465.5,432.8 465.9,458.9 466.2,485.4 466.5,512.8 466.9,536.0 467.2,560.1 467.5,579.3 467.8,602.6 468.2,608.8 468.5,632.5 468.8,649.0 469.2,656.2 469.5,667.7 469.8,672.5 470.1,680.3 470.5,688.7 470.8,689.9 471.1,694.5 471.5,691.5 471.8,701.3 472.1,700.1 472.4,702.2 472.8,703.3 473.1,694.5 473.4,702.8 473.8,700.5 474.1,700.1 474.4,703.5 474.8,704.0 475.1,707.2 475.4,707.1 475.7,705.4 476.1,702.5 476.4,698.1 476.7,708.7 477.1,704.6 477.4,702.7 477.7,707.9 478.0,708.3 478.4,709.5 478.7,704.5 479.0,706.8 479.4,705.4 479.7,708.7 480.0,706.7 480.3,703.3 480.7,706.9 481.0,704.3 481.3,702.5 481.7,706.6 482.0,705.3 482.3,703.4 482.6,703.8 483.0,701.9 483.3,706.8 483.6,707.8 484.0,696.9 484.3,706.8 484.6,705.3 484.9,697.9 485.3,711.1 485.6,708.2 485.9,711.0 486.3,702.4 486.6,695.3 486.9,707.7 487.3,705.3 487.6,704.6 487.9,710.6 488.2,708.1 488.6,705.9 488.9,710.0 489.2,708.4 489.6,680.9 489.9,705.2 490.2,709.4 490.5,709.1 490.9,705.2 491.2,709.6 491.5,708.6 491.9,706.9 492.2,702.9 492.5,708.0 492.8,707.2 493.2,705.8 493.5,707.4 493.8,706.8 494.2,699.4 494.5,698.9 494.8,704.6 495.1,704.8 495.5,704.9 495.8,700.0 496.1,706.4 496.5,701.4 496.8,702.4 497.1,697.8 497.4,701.6 497.8,706.2 498.1,703.8 498.4,703.8 498.8,707.0 499.1,706.0 499.4,707.4 499.8,707.9 500.1,702.5 500.4,707.4 500.7,704.1 501.1,706.2 501.4,700.6 501.7,703.1 502.1,702.9 502.4,700.9 502.7,703.8 503.0,706.7 503.4,704.0 503.7,702.6 504.0,704.1 504.4,703.0 504.7,706.6 505.0,703.0 505.3,689.7 505.7,705.9 506.0,705.8 506.3,689.4 506.7,700.9 507.0,694.9 507.3,698.4 507.6,706.4 508.0,697.1 508.3,702.6 508.6,705.1 509.0,700.8 509.3,701.8 509.6,701.3 509.9,705.8 510.3,691.4 510.6,703.3 510.9,699.0 511.3,706.1 511.6,705.5 511.9,700.8 512.3,699.4 512.6,704.3 512.9,699.9 513.2,704.1 513.6,703.8 513.9,691.3 514.2,704.7 514.6,705.2 514.9,701.9 515.2,697.8 515.5,699.6 515.9,689.4 516.2,702.5 516.5,700.4 516.9,703.7 517.2,701.4 517.5,698.0 517.8,700.6 518.2,703.6 518.5,703.9 518.8,703.0 519.2,703.9 519.5,704.0 519.8,699.3 520.1,704.1 520.5,703.2 520.8,699.8 521.1,704.6 521.5,698.9 521.8,703.5 522.1,704.0 522.4,701.9 522.8,702.4 523.1,702.0 523.4,695.4 523.8,701.0 524.1,704.5 524.4,702.6 524.8,700.1 525.1,700.6 525.4,703.9 525.7,702.9 526.1,703.3 526.4,704.5 526.7,698.5 527.1,703.6 527.4,702.5 527.7,701.8 528.0,703.8 528.4,696.0 528.7,701.8 529.0,703.0 529.4,702.3 529.7,696.8 530.0,705.1 530.3,699.9 530.7,705.4 531.0,701.2 531.3,705.9 531.7,704.0 532.0,705.1 532.3,704.7 532.6,700.2 533.0,699.5 533.3,703.9 533.6,705.6 534.0,700.8 534.3,706.8 534.6,707.3 534.9,704.7 535.3,704.8 535.6,704.0 535.9,704.7 536.3,689.1 536.6,707.0 536.9,706.2 537.2,707.0 537.6,701.8 537.9,707.3 538.2,708.1 538.6,706.1 538.9,707.3 539.2,704.8 539.6,709.5 539.9,703.1 540.2,693.5 540.5,707.2 540.9,707.9 541.2,705.0 541.5,707.3 541.9,705.3 542.2,698.3 542.5,706.5 542.8,702.4 543.2,704.7 543.5,708.5 543.8,701.6 544.2,704.3 544.5,709.3 544.8,685.1 545.1,698.5 545.5,703.6 545.8,704.4 546.1,708.4 546.5,707.3 546.8,705.7 547.1,709.2 547.4,710.7 547.8,700.1 548.1,709.1 548.4,700.1 548.8,707.9 549.1,709.5 549.4,710.0 549.7,703.2 550.1,708.3 550.4,710.3 550.7,706.0 551.1,707.3 551.4,709.0 551.7,709.1 552.1,709.0 552.4,707.2 552.7,708.6 553.0,709.8 553.4,703.3 553.7,701.6 554.0,707.6 554.4,707.0 554.7,703.0 555.0,708.6 555.3,705.6 555.7,701.6 556.0,707.4 556.3,710.3 556.7,709.3 557.0,708.4 557.3,706.5 557.6,709.8 558.0,709.5 558.3,704.8 558.6,703.8 559.0,706.6 559.3,701.3 559.6,701.5 559.9,702.0 560.3,708.7 560.6,696.8 560.9,708.8 561.3,706.7 561.6,709.6 561.9,704.6 562.2,706.2 562.6,703.2 562.9,706.3 563.2,708.2 563.6,705.6 563.9,708.5 564.2,694.7 564.6,708.7 564.9,702.6 565.2,707.8 565.5,707.1 565.9,706.7 566.2,702.2 566.5,704.9 566.9,704.6 567.2,708.0 567.5,701.6 567.8,705.6 568.2,706.1 568.5,698.5 568.8,701.1 569.2,704.5 569.5,701.7 569.8,707.3 570.1,705.0 570.5,703.9 570.8,705.6 571.1,706.2 571.5,704.8 571.8,707.1 572.1,704.7 572.4,699.6 572.8,702.2 573.1,703.2 573.4,705.7 573.8,694.1 574.1,703.8 574.4,706.6 574.7,692.9 575.1,692.9 575.4,703.7 575.7,701.6 576.1,702.3 576.4,703.2 576.7,700.7 577.1,705.5 577.4,705.5 577.7,706.1 578.0,702.1 578.4,703.7 578.7,703.9 579.0,699.4 579.4,705.0 579.7,704.0 580.0,701.8 580.3,694.0 580.7,693.8 581.0,700.6 581.3,702.9 581.7,700.8 582.0,700.7 582.3,699.2 582.6,703.4 583.0,706.5 583.3,700.6 583.6,704.5 584.0,703.2 584.3,705.1 584.6,702.4 584.9,687.0 585.3,704.0 585.6,700.4 585.9,703.8 586.3,704.1 586.6,697.5 586.9,688.9 587.2,703.4 587.6,703.7 587.9,705.5 588.2,701.7 588.6,698.8 588.9,701.9 589.2,704.2 589.5,700.9 589.9,702.6 590.2,703.9 590.5,705.5 590.9,701.3 591.2,702.7 591.5,696.7 591.9,704.6 592.2,702.2 592.5,701.0 592.8,704.3 593.2,703.7 593.5,703.5 593.8,701.2 594.2,694.7 594.5,700.8 594.8,696.7 595.1,705.0 595.5,702.7 595.8,699.5 596.1,701.6 596.5,699.4 596.8,704.0 597.1,686.0 597.4,702.0 597.8,703.8 598.1,699.4 598.4,688.3 598.8,698.0 599.1,690.5 599.4,688.2 599.7,676.8 600.1,677.3 600.4,663.9 600.7,659.5 601.1,645.5 601.4,634.2 601.7,618.0 602.0,597.9 602.4,563.8 602.7,530.0 603.0,495.2 603.4,461.7 603.7,416.0 604.0,367.6 604.4,353.1 604.7,277.8 605.0,241.9 605.3,194.4 605.7,168.1 606.0,141.8 606.3,115.5 606.7,91.3 607.0,91.3 607.3,91.3 607.6,91.3 608.0,103.9 608.3,96.7 608.6,125.0 609.0,123.6 609.3,143.0 609.6,182.9 609.9,231.6 610.3,255.0 610.6,270.6 610.9,320.0 611.3,336.2 611.6,377.0 611.9,413.1 612.2,451.8 612.6,475.3 612.9,505.2 613.2,526.2 613.6,546.1 613.9,566.5 614.2,597.8 614.5,606.6 614.9,621.1 615.2,637.6 615.5,644.0 615.9,654.4 616.2,658.8 616.5,665.4 616.9,670.5 617.2,676.0 617.5,678.0 617.8,679.9 618.2,680.0 618.5,680.2 618.8,681.2 619.2,674.8 619.5,675.7 619.8,665.2 620.1,652.3 620.5,652.9 620.8,640.6 621.1,617.9 621.5,626.5 621.8,610.5 622.1,603.8 622.4,595.7 622.8,580.2 623.1,585.4 623.4,580.0 623.8,580.6 624.1,582.3 624.4,586.9 624.7,605.4 625.1,613.0 625.4,626.5 625.7,624.2 626.1,641.6 626.4,650.0 626.7,654.4 627.0,660.5 627.4,667.4 627.7,667.5 628.0,664.2 628.4,660.1 628.7,659.0 629.0,646.9 629.4,633.8 629.7,629.0 630.0,609.7 630.3,598.4 630.7,573.5 631.0,545.2 631.3,528.9 631.7,514.9 632.0,474.8 632.3,452.1 632.6,431.1 633.0,408.7 633.3,387.1 633.6,370.7 634.0,359.5 634.3,380.7 634.6,360.2 634.9,368.8 635.3,369.0 635.6,372.8 635.9,384.5 636.3,405.1 636.6,429.8 636.9,457.8 637.2,462.0 637.6,489.5 637.9,504.3 638.2,528.5 638.6,548.8 638.9,569.1 639.2,591.6 639.5,602.4 639.9,618.8 640.2,622.7 640.5,644.8 640.9,652.2 641.2,658.2 641.5,665.4 641.8,664.8 642.2,678.1 642.5,675.2 642.8,681.4 643.2,685.2 643.5,676.7 643.8,683.7 644.2,682.1 644.5,676.1 644.8,679.0 645.1,675.7 645.5,673.8 645.8,669.8 646.1,677.5 646.5,676.5 646.8,675.4 647.1,677.6 647.4,679.5 647.8,670.4 648.1,683.4 648.4,686.8 648.8,687.5 649.1,685.5 649.4,691.1 649.7,692.6 650.1,694.2 650.4,677.7 650.7,687.3 651.1,690.6 651.4,682.8 651.7,678.4 652.0,669.8 652.4,671.2 652.7,653.7 653.0,643.3 653.4,639.2 653.7,616.2 654.0,601.3 654.3,578.7 654.7,568.6 655.0,538.3 655.3,528.2 655.7,505.2 656.0,482.8 656.3,477.6 656.7,459.0 657.0,460.9 657.3,449.7 657.6,459.8 658.0,470.6 658.3,442.8 658.6,461.9 659.0,464.7 659.3,475.6 659.6,492.1 659.9,491.4 660.3,499.6 660.6,502.9 660.9,518.9 661.3,536.0 661.6,548.1 661.9,559.4 662.2,573.5 662.6,552.9 662.9,591.9 663.2,599.3 663.6,609.3 663.9,623.3 664.2,630.7 664.5,638.6 664.9,646.3 665.2,653.9 665.5,654.5 665.9,662.8 666.2,660.1 666.5,669.3 666.8,674.2 667.2,675.1 667.5,679.1 667.8,673.6 668.2,684.5 668.5,675.9 668.8,684.1 669.2,688.0 669.5,685.5 669.8,688.3 670.1,689.5 670.5,681.1 670.8,685.5 671.1,693.7 671.5,689.7 671.8,689.9 672.1,691.1 672.4,681.3 672.8,693.0 673.1,692.9 673.4,690.3 673.8,685.5 674.1,694.9 674.4,692.2 674.7,692.6 675.1,689.1 675.4,677.3 675.7,688.7 676.1,694.1 676.4,695.3 676.7,698.1 677.0,693.0 677.4,689.3 677.7,690.5 678.0,695.7 678.4,685.8 678.7,697.5 679.0,689.7 679.3,692.5 679.7,696.7 680.0,689.6 680.3,698.3 680.7,698.0 681.0,694.0 681.3,684.8 681.7,691.3 682.0,697.9 682.3,686.3 682.6,678.5 683.0,695.0 683.3,695.8 683.6,699.4 684.0,699.5 684.3,700.4 684.6,699.7 684.9,700.8 685.3,698.0 685.6,699.4 685.9,698.5 686.3,695.5 686.6,700.4 686.9,699.7 687.2,697.0 687.6,681.2 687.9,693.3 688.2,702.2 688.6,694.6 688.9,695.7 689.2,698.9 689.5,700.6 689.9,696.6 690.2,686.8 690.5,693.4 690.9,699.4 691.2,699.4 691.5,695.9 691.8,696.3 692.2,690.9 692.5,698.4 692.8,699.4 693.2,700.6 693.5,700.0 693.8,701.0 694.2,701.3 694.5,703.0 694.8,701.0 695.1,696.8 695.5,693.0 695.8,699.4 696.1,688.7 696.5,691.0 696.8,703.9 697.1,698.5 697.4,698.7 697.8,696.5 698.1,693.2 698.4,700.9 698.8,694.2 699.1,704.0 699.4,696.7 699.7,703.1 700.1,703.1 700.4,695.2 700.7,702.0 701.1,696.8 701.4,700.1 701.7,698.6 702.0,701.2 702.4,704.2 702.7,692.8 703.0,692.9 703.4,699.4 703.7,700.3 704.0,702.4 704.3,703.0 704.7,703.1 705.0,703.8 705.3,700.6 705.7,693.6 706.0,701.7 706.3,698.1 706.6,697.9 707.0,702.6 707.3,696.9 707.6,700.5 708.0,691.8 708.3,692.7 708.6,701.2 709.0,701.2 709.3,689.6 709.6,703.2 709.9,688.7 710.3,693.1 710.6,701.9 710.9,700.6 711.3,695.8 711.6,703.7 711.9,703.4 712.2,695.9 712.6,698.9 712.9,698.4 713.2,681.7 713.6,699.4 713.9,702.0 714.2,695.1 714.5,697.5 714.9,702.1 715.2,703.4 715.5,698.5 715.9,701.9 716.2,703.1 716.5,702.7 716.8,692.8 717.2,701.1 717.5,699.5 717.8,704.5 718.2,704.4 718.5,705.1 718.8,700.3 719.1,702.9 719.5,705.6 719.8,685.4 720.1,700.5 720.5,703.4 720.8,695.4 721.1,698.9 721.5,699.4 721.8,692.3 722.1,701.8 722.4,697.2 722.8,704.0 723.1,704.5 723.4,704.4 723.8,700.0 724.1,701.2 724.4,703.2 724.7,699.6 725.1,695.5 725.4,705.4 725.7,694.9 726.1,696.7 726.4,700.2 726.7,699.3 727.0,702.9 727.4,705.4 727.7,696.0 728.0,704.6 728.4,699.5 728.7,693.9 729.0,696.4 729.3,701.3 729.7,701.5 730.0,696.6 730.3,695.4 730.7,699.1 731.0,706.6 731.3,701.3 731.6,699.9 732.0,702.6 732.3,702.5 732.6,704.4 733.0,702.0 733.3,707.2 733.6,700.6 734.0,698.2 734.3,700.7 734.6,706.4 734.9,704.8 735.3,702.2 735.6,703.8 735.9,702.2 736.3,701.8 736.6,706.6 736.9,701.4 737.2,687.2 737.6,704.9 737.9,705.9 738.2,702.1 738.6,702.9 738.9,698.4 739.2,700.6 739.5,698.7 739.9,705.0 740.2,698.7 740.5,700.0 740.9,696.9 741.2,696.1 741.5,706.2 741.8,706.6 742.2,702.8 742.5,695.9 742.8,702.0 743.2,707.5 743.5,704.2 743.8,707.6 744.1,689.9 744.5,700.8 744.8,707.0 745.1,701.6 745.5,684.4 745.8,701.3 746.1,707.4 746.5,704.8 746.8,700.1 747.1,692.6 747.4,699.7 747.8,700.9 748.1,707.0 748.4,700.2 748.8,694.6 749.1,706.5 749.4,706.6 749.7,706.7 750.1,702.1 750.4,704.5 750.7,693.0 751.1,696.1 751.4,701.0 751.7,702.7 752.0,708.6 752.4,705.4 752.7,704.5 753.0,694.7 753.4,704.5 753.7,698.3 754.0,702.9 754.3,701.6 754.7,706.7 755.0,709.4 755.3,701.3 755.7,699.6 756.0,710.5 756.3,707.6 756.6,706.2 757.0,702.4 757.3,710.0 757.6,691.8 758.0,707.1 758.3,704.2 758.6,706.6 758.9,700.2 759.3,703.1 759.6,701.1 759.9,708.4 760.3,705.3 760.6,703.8 760.9,690.4 761.3,702.8 761.6,707.3 761.9,698.7 762.2,709.7 762.6,705.5 762.9,705.9 763.2,709.3 763.6,708.7 763.9,705.5 764.2,712.5 764.5,707.4 764.9,713.2 765.2,713.4 765.5,703.0 765.9,708.5 766.2,704.5 766.5,706.7 766.8,700.8 767.2,709.1 767.5,710.3 767.8,709.6 768.2,713.5 768.5,704.6 768.8,713.5 769.1,706.5 769.5,705.0 769.8,712.4 770.1,712.2 770.5,712.7 770.8,711.8 771.1,710.0 771.4,711.2 771.8,709.2 772.1,711.8 772.4,697.4 772.8,708.6 773.1,711.1 773.4,712.3 773.8,706.5 774.1,708.7 774.4,704.6 774.7,709.0 775.1,705.3 775.4,711.2 775.7,713.6 776.1,711.2 776.4,712.3 776.7,712.2 777.0,705.9 777.4,707.1 777.7,708.8 778.0,711.0 778.4,706.6 778.7,710.0 779.0,708.5 779.3,705.7 779.7,710.6 780.0,711.0 780.3,703.7 780.7,711.0 781.0,709.9 781.3,703.7 781.6,710.6 782.0,711.5 782.3,699.1 782.6,706.9 783.0,713.1 783.3,709.8 783.6,711.9 783.9,710.9 784.3,702.2 784.6,714.6 784.9,714.6 785.3,707.8 785.6,712.5 785.9,713.1 786.3,714.6 786.6,702.6 786.9,703.8 787.2,711.5 787.6,713.0 787.9,707.8 788.2,705.9 788.6,709.5 788.9,711.4 789.2,714.6 789.5,710.4 789.9,697.0 790.2,714.2 790.5,715.6 790.9,712.0 791.2,702.1 791.5,705.4 791.8,713.4 792.2,713.5 792.5,702.8 792.8,711.0 793.2,707.7 793.5,712.4 793.8,708.2 794.1,711.6 794.5,704.5 794.8,714.9 795.1,715.9 795.5,709.8 795.8,717.1 796.1,710.0 796.4,706.2 796.8,710.1 797.1,711.7 797.4,709.3 797.8,711.8 798.1,716.6 798.4,712.9 798.8,715.5 799.1,703.6 799.4,708.7 799.7,713.2 800.1,711.1 800.4,713.7 800.7,704.4 801.1,715.4 801.4,699.9 801.7,706.5 802.0,715.9 802.4,714.2 802.7,711.5 803.0,710.2 803.4,706.8 803.7,714.3 804.0,715.6 804.3,712.8 804.7,715.6 805.0,714.3 805.3,716.2 805.7,696.4 806.0,709.3 806.3,713.0 806.6,709.1 807.0,712.8 807.3,715.0 807.6,710.1 808.0,716.5 808.3,715.3 808.6,708.0 808.9,712.1 809.3,708.5 809.6,711.3 809.9,716.6 810.3,714.3 810.6,707.2 810.9,713.1 811.2,689.7 811.6,712.3 811.9,716.1 812.2,707.4 812.6,713.3 812.9,702.6 813.2,711.7 813.6,712.4 813.9,710.7 814.2,703.6 814.5,710.1 814.9,704.1 815.2,703.8 815.5,682.9 815.9,687.5 816.2,674.0 816.5,659.5 816.8,661.0 817.2,641.7 817.5,635.5 817.8,623.4 818.2,599.6 818.5,590.7 818.8,561.6 819.1,561.1 819.5,561.3 819.8,540.1 820.1,532.1 820.5,531.5 820.8,539.3 821.1,528.3 821.4,530.5 821.8,519.2 822.1,543.2 822.4,556.9 822.8,557.3 823.1,564.6 823.4,576.2 823.7,577.0 824.1,589.3 824.4,598.3 824.7,604.3 825.1,623.6 825.4,631.3 825.7,636.5 826.1,644.2 826.4,653.9 826.7,663.6 827.0,667.3 827.4,678.7 827.7,679.3 828.0,679.1 828.4,689.8 828.7,693.2 829.0,698.5 829.3,697.6 829.7,704.4 830.0,711.1 830.3,699.1 830.7,715.4 831.0,710.1 831.3,710.3 831.6,719.1 832.0,717.9 832.3,718.3 832.6,717.3 833.0,714.5 833.3,722.5 833.6,720.0 833.9,715.1 834.3,714.8 834.6,714.7 834.9,716.4 835.3,721.6 835.6,724.1 835.9,715.1 836.2,721.8 836.6,717.7 836.9,724.6 837.2,725.9 837.6,720.0 837.9,712.6 838.2,723.8 838.6,725.8 838.9,719.9 839.2,720.5 839.5,724.2 839.9,726.4 840.2,713.6 840.5,724.0 840.9,714.4 841.2,726.6 841.5,721.4 841.8,725.3 842.2,723.7 842.5,720.5 842.8,716.1 843.2,719.2 843.5,721.6 843.8,725.2 844.1,726.5 844.5,725.7 844.8,718.5 845.1,726.0 845.5,727.4 845.8,718.9 846.1,717.3 846.4,726.3 846.8,719.7 847.1,724.9 847.4,726.0 847.8,720.2 848.1,725.8 848.4,719.7 848.7,723.0 849.1,726.0 849.4,717.6 849.7,724.9 850.1,723.7 850.4,719.7 850.7,716.1 851.1,724.2 851.4,722.4 851.7,725.3 852.0,726.5 852.4,720.8 852.7,719.5 853.0,715.4 853.4,723.0 853.7,709.6 854.0,725.2 854.3,724.6 854.7,721.2 855.0,726.9 855.3,720.1 855.7,722.8 856.0,722.0 856.3,719.3 856.6,723.7 857.0,720.4 857.3,719.6 857.6,722.2 858.0,719.1 858.3,708.2 858.6,723.2 858.9,726.2 859.3,707.8 859.6,725.4 859.9,715.7 860.3,720.7 860.6,725.4 860.9,718.7 861.2,710.8 861.6,727.8 861.9,721.2 862.2,722.2 862.6,713.7 862.9,719.0 863.2,726.3 863.6,728.1 863.9,720.7 864.2,718.9 864.5,724.5 864.9,723.7 865.2,726.3 865.5,719.7 865.9,722.9 866.2,719.6 866.5,724.4 866.8,726.0 867.2,725.5 867.5,711.5 867.8,716.6 868.2,718.0 868.5,716.5 868.8,724.3 869.1,723.7 869.5,727.7 869.8,720.4 870.1,717.2 870.5,725.3 870.8,712.8 871.1,727.1 871.4,724.6 871.8,723.5 872.1,718.1 872.4,717.2 872.8,727.0 873.1,719.6 873.4,701.3 873.7,726.6 874.1,720.6 874.4,725.5 874.7,720.3 875.1,725.9 875.4,720.4 875.7,727.6 876.0,724.1 876.4,721.9 876.7,725.0 877.0,727.4 877.4,715.8 877.7,726.8 878.0,719.6 878.4,726.5 878.7,723.4 879.0,724.2 879.3,727.0 879.7,725.6 880.0,729.7 880.3,726.8 880.7,726.4 881.0,725.8 881.3,728.8 881.6,728.6 882.0,731.1 882.3,720.8 882.6,728.7 883.0,729.7 883.3,731.6 883.6,728.7 883.9,721.8 884.3,716.4 884.6,731.6 884.9,717.0 885.3,728.9 885.6,730.1 885.9,726.9 886.2,727.4 886.6,722.2 886.9,727.6 887.2,727.7 887.6,726.7 887.9,724.2 888.2,719.7 888.5,726.4 888.9,723.8 889.2,721.8 889.5,723.4 889.9,726.0 890.2,729.1 890.5,728.0 890.9,728.0 891.2,714.9 891.5,727.6 891.8,715.0 892.2,711.0 892.5,710.5 892.8,708.2 893.2,699.0 893.5,687.5 893.8,676.8 894.1,669.3 894.5,655.4 894.8,638.6 895.1,632.8 895.5,617.3 895.8,612.9 896.1,602.6 896.4,618.0 896.8,618.4 897.1,613.9 897.4,625.7 897.8,636.3 898.1,644.1 898.4,658.4 898.7,665.6 899.1,659.6 899.4,686.0 899.7,686.8 900.1,697.9 900.4,695.2 900.7,712.0 901.0,713.9 901.4,714.0 901.7,720.8 902.0,723.3 902.4,720.6 902.7,718.0 903.0,718.9 903.4,723.3 903.7,717.1 904.0,715.2 904.3,705.0 904.7,693.2 905.0,703.5 905.3,688.2 905.7,693.0 906.0,689.2 906.3,681.9 906.6,678.8 907.0,674.8 907.3,658.4 907.6,671.3 908.0,675.1 908.3,662.4 908.6,671.3 908.9,669.8 909.3,677.8 909.6,677.2 909.9,678.4 910.3,686.3 910.6,694.7 910.9,692.6 911.2,700.0 911.6,699.2 911.9,703.2 912.2,699.7 912.6,713.1 912.9,715.2 913.2,718.4 913.5,705.3 913.9,722.4 914.2,723.7 914.5,718.3 914.9,726.7 915.2,728.4 915.5,728.0 915.9,725.0 916.2,730.0 916.5,726.2 916.8,729.2 917.2,722.4 917.5,727.9 917.8,716.2 918.2,727.9 918.5,730.3 918.8,727.4 919.1,728.6 919.5,729.8 919.8,711.6 920.1,721.1 920.5,722.5 920.8,722.6 921.1,731.3 921.4,730.3 921.8,732.0 922.1,722.4 922.4,717.1 922.8,730.1 923.1,729.0 923.4,730.3 923.7,727.4 924.1,728.4 924.4,727.7 924.7,726.8 925.1,728.6 925.4,730.3 925.7,722.4 926.0,727.6 926.4,732.4 926.7,721.5 927.0,730.2 927.4,725.3 927.7,730.4 928.0,719.2 928.3,719.4 928.7,730.3 929.0,731.2 929.3,731.8 929.7,714.0 930.0,728.1 930.3,736.0 930.7,734.2 931.0,723.1 931.3,730.5 931.6,736.5 932.0,731.5 932.3,734.3 932.6,733.4 933.0,735.1 933.3,733.5 933.6,735.6 933.9,734.1 934.3,735.2 934.6,727.9 934.9,733.8 935.3,731.6 935.6,735.0 935.9,728.9 936.2,731.9 936.6,734.6 936.9,726.9 937.2,733.3 937.6,715.0 937.9,730.1 938.2,728.8 938.5,719.9 938.9,716.0 939.2,717.6 939.5,715.4 939.9,709.2 940.2,685.5 940.5,680.6 940.8,673.2 941.2,680.0 941.5,672.3 941.8,673.0 942.2,681.5 942.5,681.7 942.8,674.0 943.2,685.6 943.5,691.8 943.8,691.1 944.1,698.1 944.5,693.8 944.8,702.2 945.1,695.4 945.5,710.3 945.8,712.8 946.1,713.2 946.4,719.2 946.8,719.1 947.1,717.8 947.4,723.7 947.8,722.3 948.1,725.3 948.4,727.6 948.7,731.7 949.1,730.7 949.4,725.1 949.7,726.1 950.1,728.4 950.4,734.6 950.7,725.0 951.0,734.8 951.4,732.2 951.7,722.0 952.0,737.4 952.4,732.4 952.7,728.4 953.0,733.6 953.3,736.9 953.7,727.1 954.0,724.4 954.3,721.0 954.7,732.7 955.0,730.2 955.3,724.3 955.7,708.3 956.0,718.4 956.3,706.9 956.6,707.5 957.0,695.2 957.3,684.2 957.6,680.9 958.0,655.0 958.3,657.1 958.6,638.6 958.9,642.6 959.3,634.1 959.6,631.5 959.9,619.5 960.3,628.4 960.6,631.8 960.9,634.2 961.2,637.8 961.6,634.5 961.9,647.6 962.2,661.6 962.6,668.1 962.9,676.8 963.2,678.1 963.5,685.7 963.9,688.9 964.2,699.7 964.5,704.9 964.9,710.8 965.2,710.1 965.5,721.0 965.8,722.2 966.2,727.8 966.5,720.9 966.8,730.6 967.2,729.8 967.5,728.9 967.8,731.1 968.2,735.5 968.5,727.9 968.8,727.0 969.1,730.5 969.5,732.8 969.8,731.6 970.1,716.0 970.5,734.2 970.8,734.6 971.1,726.9 971.4,719.5 971.8,724.7 972.1,731.3 972.4,719.7 972.8,733.4 973.1,728.3 973.4,736.2 973.7,726.7 974.1,728.5 974.4,723.2 974.7,737.0 975.1,729.4 975.4,731.5 975.7,732.1 976.0,730.1 976.4,732.4 976.7,727.0 977.0,735.0 977.4,728.7 977.7,724.2 978.0,734.5 978.3,717.5 978.7,731.2 979.0,733.5 979.3,728.3 979.7,728.2 980.0,729.2 980.3,735.6 980.6,726.4 981.0,726.2 981.3,733.6 981.6,718.8 982.0,731.1 982.3,728.9 982.6,735.1 983.0,728.2 983.3,734.3 983.6,735.0 983.9,729.9 984.3,722.2 984.6,732.8 984.9,733.8 985.3,723.5 985.6,724.7 985.9,730.2 986.2,728.5 986.6,733.5 986.9,734.0 987.2,734.2 987.6,731.3 987.9,725.8 988.2,731.1 988.5,729.8 988.9,726.1 989.2,735.1 989.5,725.0 989.9,721.6 990.2,733.2 990.5,730.6 990.8,734.1 991.2,726.7 991.5,729.5 991.8,730.5 992.2,733.6 992.5,727.4 992.8,727.0 993.1,726.2 993.5,734.1 993.8,730.9 994.1,731.3 994.5,725.1 994.8,725.4 995.1,727.5 995.5,724.3 995.8,729.1 996.1,711.5 996.4,730.1 996.8,729.1 997.1,732.0 997.4,725.9 997.8,725.1 998.1,718.4 998.4,720.7 998.7,724.3 999.1,717.1 999.4,713.3 999.7,705.1 1000.1,701.0 1000.4,698.6 1000.7,691.3 1001.0,681.6 1001.4,675.5 1001.7,667.7 1002.0,659.4 1002.4,645.1 1002.7,647.7 1003.0,638.7 1003.3,636.1 1003.7,634.9 1004.0,638.9 1004.3,637.0 1004.7,622.5 1005.0,629.0 1005.3,633.8 1005.6,620.0 1006.0,602.0 1006.3,573.8 1006.6,574.5 1007.0,557.2 1007.3,539.5 1007.6,557.6 1008.0,581.5 1008.3,597.9 1008.6,619.3 1008.9,624.0 1009.3,628.6 1009.6,636.2 1009.9,627.4 1010.3,617.8 1010.6,619.8 1010.9,624.0 1011.2,615.0 1011.6,622.9 1011.9,630.0 1012.2,637.1 1012.6,627.3 1012.9,633.9 1013.2,638.4 1013.5,640.8 1013.9,649.3 1014.2,654.3 1014.5,656.3 1014.9,650.7 1015.2,662.3 1015.5,668.9 1015.8,677.4 1016.2,685.7 1016.5,692.6 1016.8,700.4 1017.2,700.3 1017.5,703.2 1017.8,710.4 1018.1,717.2 1018.5,720.8 1018.8,723.4 1019.1,711.3 1019.5,710.8 1019.8,719.2 1020.1,723.0 1020.5,725.5 1020.8,733.5 1021.1,713.1 1021.4,731.6 1021.8,731.6 1022.1,734.7 1022.4,738.0 1022.8,732.7 1023.1,728.2 1023.4,732.3 1023.7,739.4 1024.1,724.8 1024.4,729.0 1024.7,740.2 1025.1,737.6 1025.4,722.0 1025.7,737.8 1026.0,737.9 1026.4,736.2 1026.7,734.9 1027.0,737.4 1027.4,732.1 1027.7,738.4 1028.0,739.7 1028.3,742.6 1028.7,736.5 1029.0,722.5 1029.3,735.2 1029.7,730.9 1030.0,736.8 1030.3,737.1 1030.6,744.1 1031.0,741.0 1031.3,740.2 1031.6,735.0 1032.0,740.2 1032.3,744.3 1032.6,744.7 1033.0,741.0 1033.3,739.5 1033.6,724.0 1033.9,744.2 1034.3,742.8 1034.6,742.7 1034.9,729.9 1035.3,742.1 1035.6,741.7 1035.9,738.5 1036.2,734.9 1036.6,741.0 1036.9,738.2 1037.2,746.6 1037.6,735.5 1037.9,737.8 1038.2,722.8 1038.5,742.2 1038.9,734.0 1039.2,737.1 1039.5,742.5 1039.9,747.6 1040.2,737.4 1040.5,742.6 1040.8,732.2 1041.2,742.5 1041.5,747.4 1041.8,742.3 1042.2,742.2 1042.5,740.2 1042.8,738.9 1043.1,742.4 1043.5,747.2 1043.8,746.2 1044.1,741.6 1044.5,740.8 1044.8,733.6 1045.1,736.9 1045.4,727.9 1045.8,727.7 1046.1,725.3 1046.4,705.2 1046.8,714.3 1047.1,713.2 1047.4,713.5 1047.8,708.7 1048.1,715.6 1048.4,713.5 1048.7,719.1 1049.1,715.1 1049.4,724.7 1049.7,722.6 1050.1,724.3 1050.4,725.2 1050.7,727.3 1051.0,721.4 1051.4,724.2 1051.7,733.2 1052.0,730.0 1052.4,723.5 1052.7,735.4 1053.0,735.3 1053.3,731.8 1053.7,739.6 1054.0,736.2 1054.3,728.8 1054.7,724.6 1055.0,740.0 1055.3,729.8 1055.6,740.8 1056.0,722.5 1056.3,734.0 1056.6,737.4 1057.0,738.2 1057.3,733.7 1057.6,726.8 1057.9,733.4 1058.3,729.8 1058.6,730.8 1058.9,731.7 1059.3,722.0 1059.6,730.4 1059.9,736.7 1060.3,735.4 1060.6,742.1 1060.9,742.6 1061.2,739.1 1061.6,737.6 1061.9,739.3 1062.2,737.6 1062.6,731.5 1062.9,736.5 1063.2,743.4 1063.5,733.9 1063.9,734.2 1064.2,738.2 1064.5,737.3 1064.9,740.8 1065.2,736.2 1065.5,740.8 1065.8,739.3 1066.2,733.7 1066.5,738.5 1066.8,738.8 1067.2,729.2 1067.5,740.2 1067.8,732.7 1068.1,737.9 1068.5,741.5 1068.8,741.2 1069.1,736.4 1069.5,727.8 1069.8,742.9 1070.1,743.7 1070.4,730.4 1070.8,734.8 1071.1,738.6 1071.4,744.6 1071.8,733.5 1072.1,744.7 1072.4,735.1 1072.8,741.1 1073.1,739.8 1073.4,741.8 1073.7,743.4 1074.1,741.9 1074.4,737.1 1074.7,746.0 1075.1,745.0 1075.4,736.5 1075.7,739.0 1076.0,727.8 1076.4,744.8 1076.7,744.1 1077.0,741.0 1077.4,740.2 1077.7,739.5 1078.0,739.7 1078.3,737.0 1078.7,746.2 1079.0,739.9 1079.3,743.2 1079.7,743.6 1080.0,729.8 1080.3,742.6 1080.6,734.3 1081.0,720.4 1081.3,742.8 1081.6,741.4 1082.0,741.8 1082.3,740.8 1082.6,732.1 1082.9,736.2 1083.3,740.8 1083.6,741.2 1083.9,744.7 1084.3,737.1 1084.6,745.7 1084.9,744.5 1085.3,741.2 1085.6,744.4 1085.9,746.3 1086.2,742.3 1086.6,745.4 1086.9,738.9 1087.2,741.0 1087.6,746.2 1087.9,740.2 1088.2,738.2 1088.5,741.1 1088.9,743.0 1089.2,743.9 1089.5,729.2 1089.9,741.5 1090.2,742.1 1090.5,743.6 1090.8,746.4 1091.2,744.5 1091.5,739.6 1091.8,741.1 1092.2,741.1 1092.5,742.1 1092.8,745.9 1093.1,742.5 1093.5,737.2 1093.8,743.0 1094.1,748.7 1094.5,745.9 1094.8,748.3 1095.1,744.6 1095.4,727.7 1095.8,745.0 1096.1,746.5 1096.4,748.3 1096.8,744.6 1097.1,736.0 1097.4,746.7 1097.7,741.5 1098.1,742.7 1098.4,746.1 1098.7,739.9 1099.1,745.6 1099.4,746.8 1099.7,746.6 1100.1,742.9 1100.4,731.5 1100.7,738.9 1101.0,746.9 1101.4,744.1 1101.7,747.4 1102.0,747.7 1102.4,749.6 1102.7,742.8 1103.0,746.8 1103.3,745.5 1103.7,742.9 1104.0,749.1 1104.3,748.7 1104.7,742.6 1105.0,748.5 1105.3,748.4 1105.6,732.6 1106.0,745.4 1106.3,737.7 1106.6,733.9 1107.0,736.4 1107.3,749.6 1107.6,744.3 1107.9,740.3 1108.3,743.6 1108.6,747.0 1108.9,749.0 1109.3,742.0 1109.6,749.9 1109.9,750.3 1110.2,748.8 1110.6,745.7 1110.9,738.0 1111.2,747.0 1111.6,741.0 1111.9,749.1 1112.2,747.7 1112.6,747.5 1112.9,748.5 1113.2,739.7 1113.5,750.3 1113.9,739.7 1114.2,744.8 1114.5,742.6 1114.9,748.8 1115.2,742.7 1115.5,750.8 1115.8,746.6 1116.2,744.6 1116.5,748.6 1116.8,750.2 1117.2,749.0 1117.5,747.4 1117.8,747.8 1118.1,751.1 1118.5,742.9 1118.8,750.0 1119.1,744.8 1119.5,748.6 1119.8,750.5 1120.1,741.8 1120.4,746.9 1120.8,744.2 1121.1,744.0 1121.4,744.6 1121.8,748.6 1122.1,743.9 1122.4,741.1 1122.7,748.3 1123.1,749.3 1123.4,748.1 1123.7,740.4 1124.1,746.3 1124.4,737.4 1124.7,747.4 1125.1,745.7 1125.4,737.1 1125.7,735.5 1126.0,742.2 1126.4,749.3 1126.7,745.7 1127.0,746.0 1127.4,749.1 1127.7,738.8 1128.0,743.9 1128.3,748.6 1128.7,749.3 1129.0,744.7 1129.3,750.2 1129.7,741.0 1130.0,747.4 1130.3,749.5 1130.6,743.1 1131.0,748.5 1131.3,746.2 1131.6,745.0 1132.0,748.8 1132.3,743.9 1132.6,738.5 1132.9,740.3 1133.3,746.0 1133.6,741.8 1133.9,749.1 1134.3,746.4 1134.6,740.0 1134.9,748.4 1135.2,744.9 1135.6,741.7 1135.9,745.2 1136.2,734.9 1136.6,747.1 1136.9,747.6 1137.2,749.7 1137.6,744.7 1137.9,745.1 1138.2,748.4 1138.5,744.0 1138.9,736.2 1139.2,747.5 1139.5,738.5 1139.9,742.1 1140.2,746.3 1140.5,750.6 1140.8,746.1 1141.2,748.2 1141.5,744.1 1141.8,747.4 1142.2,746.3 1142.5,747.9 1142.8,747.4 1143.1,743.6 1143.5,749.9 1143.8,739.4 1144.1,742.4 1144.5,749.9 1144.8,743.8 1145.1,746.6 1145.4,747.2 1145.8,745.9 1146.1,745.6 1146.4,747.7 1146.8,746.7 1147.1,739.6 1147.4,748.9 1147.7,740.3 1148.1,747.3 1148.4,742.3 1148.7,748.4 1149.1,747.2 1149.4,745.4 1149.7,749.2 1150.0,748.1 1150.4,735.1 1150.7,740.1 1151.0,739.5 1151.4,741.0 1151.7,746.0 1152.0,733.4 1152.4,728.8 1152.7,747.2 1153.0,743.8 1153.3,744.2 1153.7,743.9 1154.0,739.0 1154.3,743.4 1154.7,742.9 1155.0,743.3 1155.3,747.0 1155.6,714.4 1156.0,747.1 1156.3,744.4 1156.6,743.9 1157.0,741.4 1157.3,740.1 1157.6,747.6 1157.9,742.1 1158.3,746.0 1158.6,740.8 1158.9,747.5 1159.3,741.7 1159.6,747.8 1159.9,746.5 1160.2,743.1 1160.6,739.9 1160.9,738.5 1161.2,741.0 1161.6,744.8 1161.9,741.5 1162.2,743.0 1162.5,744.6 1162.9,737.4 1163.2,742.2 1163.5,742.3 1163.9,738.8 1164.2,744.6 1164.5,743.2 1164.9,746.4 1165.2,745.7 1165.5,746.7 1165.8,746.3 1166.2,746.0 1166.5,743.5 1166.8,740.6 1167.2,745.0 1167.5,742.7 1167.8,728.3 1168.1,745.3 1168.5,744.2 1168.8,744.6 1169.1,733.7 1169.5,742.4 1169.8,747.2 1170.1,741.9 1170.4,746.1 1170.8,743.7 1171.1,740.0 1171.4,742.7 1171.8,746.5 1172.1,747.5 1172.4,745.6 1172.7,742.5 1173.1,745.7 1173.4,745.7 1173.7,743.5 1174.1,739.1 1174.4,748.6 1174.7,746.9 1175.0,747.4 1175.4,745.4 1175.7,740.1 1176.0,741.6 1176.4,743.3 1176.7,740.9 1177.0,744.4 1177.4,743.6 1177.7,733.9 1178.0,740.5 1178.3,737.5 1178.7,731.0 1179.0,747.5 1179.3,729.8 1179.7,747.6 1180.0,737.6 1180.3,744.9 1180.6,730.4 1181.0,737.2 1181.3,746.8 1181.6,741.3 1182.0,741.6 1182.3,746.4 1182.6,743.4 1182.9,746.4 1183.3,745.5 1183.6,744.8 1183.9,744.3 1184.3,747.7 1184.6,733.2 1184.9,748.4 1185.2,743.9 1185.6,746.8 1185.9,737.5 1186.2,746.4 1186.6,746.4 1186.9,734.5 1187.2,746.7 1187.5,745.2 1187.9,747.6 1188.2,742.9 1188.5,744.3 1188.9,748.4 1189.2,744.1 1189.5,747.1 1189.9,743.6 1190.2,748.8 1190.5,741.4 1190.8,740.5 1191.2,748.4 1191.5,745.9 1191.8,742.9 1192.2,749.6 1192.5,745.5 1192.8,744.7 1193.1,749.5" fill="none" stroke="#000" stroke-width="1.05" stroke-linejoin="miter"/>
<text transform="translate(612.00,74.51) rotate(-90) scale(0.8413,1)" font-family='"Liberation Sans", sans-serif' font-weight="bold" font-size="30.11" fill="#c00000">CBDA</text>
<text transform="translate(467.10,328.52) rotate(-90) scale(0.8461,1)" font-family='"Liberation Sans", sans-serif' font-weight="bold" font-size="30.11" fill="#c00000">CBDVA</text>
<text transform="translate(646.70,337.93) rotate(-90) scale(0.7742,1)" font-family='"Liberation Sans", sans-serif' font-weight="bold" font-size="30.11" fill="#c00000">CBD</text>
<text transform="translate(499.60,488.39) rotate(-90) scale(0.8325,1)" font-family='"Liberation Sans", sans-serif' font-weight="bold" font-size="29.82" fill="#c00000">CBDV</text>
<text transform="translate(582.40,504.76) rotate(-90) scale(0.7898,1)" font-family='"Liberation Sans", sans-serif' font-weight="bold" font-size="30.40" fill="#c00000">CBG</text>
<text transform="translate(671.80,426.17) rotate(-90) scale(0.8002,1)" font-family='"Liberation Sans", sans-serif' font-weight="bold" font-size="30.40" fill="#c00000">CBGA</text>
<text transform="translate(700.00,582.94) rotate(-90) scale(0.8709,1)" font-family='"Liberation Sans", sans-serif' font-weight="bold" font-size="29.82" fill="#c00000">Δ<tspan dy="-7.45" font-size="19.68">9</tspan><tspan dy="7.45">-THCV</tspan></text>
<text transform="translate(831.90,497.48) rotate(-90) scale(0.8103,1)" font-family='"Liberation Sans", sans-serif' font-weight="bold" font-size="30.25" fill="#c00000">CBN</text>
<text transform="translate(900.90,574.82) rotate(-90) scale(0.8795,1)" font-family='"Liberation Sans", sans-serif' font-weight="bold" font-size="28.95" fill="#c00000">Δ<tspan dy="-7.24" font-size="19.10">9</tspan><tspan dy="7.24">-THC</tspan></text>
<text transform="translate(926.60,558.62) rotate(-90) scale(0.8747,1)" font-family='"Liberation Sans", sans-serif' font-weight="bold" font-size="29.24" fill="#c00000">Δ<tspan dy="-7.31" font-size="19.30">8</tspan><tspan dy="7.31">-THC</tspan></text>
<text transform="translate(950.10,652.51) rotate(-90) scale(0.7712,1)" font-family='"Liberation Sans", sans-serif' font-weight="bold" font-size="29.53" fill="#c00000">CBL</text>
<text transform="translate(967.20,599.60) rotate(-90) scale(0.7481,1)" font-family='"Liberation Sans", sans-serif' font-weight="bold" font-size="30.11" fill="#c00000">CBC</text>
<text transform="translate(1018.10,525.53) rotate(-90) scale(0.8585,1)" font-family='"Liberation Sans", sans-serif' font-weight="bold" font-size="29.96" fill="#c00000">Δ<tspan dy="-7.49" font-size="19.78">9</tspan><tspan dy="7.49">-THCA</tspan></text>
<line x1="496" y1="505.6" x2="469" y2="571" stroke="#c00000" stroke-width="2"/>
<line x1="577.9" y1="522.7" x2="617.7" y2="598.8" stroke="#c00000" stroke-width="2"/>
<line x1="686.2" y1="598.3" x2="647.1" y2="667.5" stroke="#c00000" stroke-width="2"/>
<line x1="910" y1="573.2" x2="904.5" y2="649.5" stroke="#c00000" stroke-width="2"/>
<rect x="316.0" y="882" width="8.3" height="690" fill="#c9dbee"/>
<rect x="337.0" y="882" width="9.8" height="690" fill="#c9dbee"/>
<rect x="438.4" y="880.5" width="9.8" height="691.5" fill="#c9dbee"/>
<rect x="919.8" y="879" width="8.6" height="324.5" fill="#c9dbee"/>
<rect x="940.8" y="879" width="8.6" height="324.5" fill="#c9dbee"/>
<rect x="1042.3" y="878.5" width="8.6" height="325.0" fill="#c9dbee"/>
<rect x="1167.5" y="958" width="9.5" height="245.5" fill="#d5e3cf"/>
<rect x="1216.9" y="1002" width="8.4" height="201.5" fill="#d5e3cf"/>
<path d="M75.7 867.5V948.0M65.1 948.00H75.7M68.1 940.00H75.7M68.1 932.00H75.7M68.1 924.00H75.7M68.1 916.00H75.7M65.1 908.00H75.7M68.1 900.00H75.7M68.1 892.00H75.7M68.1 884.00H75.7M68.1 876.00H75.7M65.1 868.00H75.7" fill="none" stroke="#1c1c1c" stroke-width="1.35"/>
<line x1="75.10000000000001" y1="948.0" x2="623.5" y2="948.0" stroke="#111" stroke-width="2.0"/>
<text transform="translate(52.46,954.21) scale(1.0394,1)" font-family='"Liberation Sans", sans-serif' font-weight="normal" font-size="18.94" fill="#111"  stroke="#111" stroke-width="0.3" stroke-linejoin="round">0</text>
<text transform="translate(42.60,914.21) scale(0.9869,1)" font-family='"Liberation Sans", sans-serif' font-weight="normal" font-size="18.94" fill="#111"  stroke="#111" stroke-width="0.3" stroke-linejoin="round">50</text>
<text transform="translate(33.09,874.21) scale(0.9575,1)" font-family='"Liberation Sans", sans-serif' font-weight="normal" font-size="18.94" fill="#111"  stroke="#111" stroke-width="0.3" stroke-linejoin="round">100</text>
<path d="M160.5 948.0v-0.8M211.5 948.0v-3.2M238.5 948.0v-29.6M240.5 948.0v-3.2M241.5 948.0v-1.6M262.5 948.0v-1.6M289.5 948.0v-1.2M315.5 948.0v-13.6M317.5 948.0v-6.4M319.5 948.0v-8.8M342.5 948.0v-28.0M343.5 948.0v-20.0M345.5 948.0v-9.6M368.5 948.0v-2.4M421.5 948.0v-2.4M444.5 948.0v-3.2M576.5 948.0v-80.0M578.5 948.0v-22.4" fill="none" stroke="#1a1a1a" stroke-width="1" shape-rendering="crispEdges"/>
<text transform="translate(218.21,941.61) rotate(-90) scale(0.93,1)" font-family='"Liberation Sans", sans-serif' font-size="19.83" fill="#111" stroke="#111" stroke-width="0.3">122</text>
<text transform="translate(244.65,915.21) rotate(-90) scale(0.93,1)" font-family='"Liberation Sans", sans-serif' font-size="19.83" fill="#111" stroke="#111" stroke-width="0.3">136</text>
<text transform="translate(269.21,943.21) rotate(-90) scale(0.93,1)" font-family='"Liberation Sans", sans-serif' font-size="19.83" fill="#111" stroke="#111" stroke-width="0.3">149</text>
<text transform="translate(322.10,931.21) rotate(-90) scale(0.93,1)" font-family='"Liberation Sans", sans-serif' font-size="19.83" fill="#111" stroke="#111" stroke-width="0.3">177</text>
<text transform="translate(337.70,878.51) rotate(-90) scale(0.93,1)" font-family='"Liberation Sans", sans-serif' font-size="19.83" fill="#111" stroke="#111" stroke-width="0.3">179</text>
<text transform="translate(348.55,916.81) rotate(-90) scale(0.93,1)" font-family='"Liberation Sans", sans-serif' font-size="19.83" fill="#111" stroke="#111" stroke-width="0.3">191</text>
<text transform="translate(375.00,940.95) rotate(-90) scale(0.93,1)" font-family='"Liberation Sans", sans-serif' font-size="19.83" fill="#111" stroke="#111" stroke-width="0.3">205</text>
<text transform="translate(427.89,940.95) rotate(-90) scale(0.93,1)" font-family='"Liberation Sans", sans-serif' font-size="19.83" fill="#111" stroke="#111" stroke-width="0.3">233</text>
<text transform="translate(450.56,940.15) rotate(-90) scale(0.93,1)" font-family='"Liberation Sans", sans-serif' font-size="19.83" fill="#111" stroke="#111" stroke-width="0.3">245</text>
<text transform="translate(582.78,863.54) rotate(-90) scale(0.93,1)" font-family='"Liberation Sans", sans-serif' font-size="19.83" fill="#111" stroke="#111" stroke-width="0.3">315</text>
<text transform="translate(100.12,895.15) scale(0.8367,1)" font-family='"Liberation Sans", sans-serif' font-weight="bold" font-size="28.80" fill="#000"  stroke="#000" stroke-width="0.7" stroke-linejoin="round">B</text>
<path d="M75.7 990.55V1071.05M65.1 1071.05H75.7M68.1 1063.05H75.7M68.1 1055.05H75.7M68.1 1047.05H75.7M68.1 1039.05H75.7M65.1 1031.05H75.7M68.1 1023.05H75.7M68.1 1015.05H75.7M68.1 1007.05H75.7M68.1 999.05H75.7M65.1 991.05H75.7" fill="none" stroke="#1c1c1c" stroke-width="1.35"/>
<line x1="75.10000000000001" y1="1071.05" x2="623.5" y2="1071.05" stroke="#111" stroke-width="2.0"/>
<text transform="translate(52.46,1077.26) scale(1.0394,1)" font-family='"Liberation Sans", sans-serif' font-weight="normal" font-size="18.94" fill="#111"  stroke="#111" stroke-width="0.3" stroke-linejoin="round">0</text>
<text transform="translate(42.60,1037.26) scale(0.9869,1)" font-family='"Liberation Sans", sans-serif' font-weight="normal" font-size="18.94" fill="#111"  stroke="#111" stroke-width="0.3" stroke-linejoin="round">50</text>
<text transform="translate(33.09,997.26) scale(0.9575,1)" font-family='"Liberation Sans", sans-serif' font-weight="normal" font-size="18.94" fill="#111"  stroke="#111" stroke-width="0.3" stroke-linejoin="round">100</text>
<path d="M238.5 1071.05v-1.6M240.5 1071.05v-2.4M241.5 1071.05v-1.6M262.5 1071.05v-0.8M315.5 1071.05v-0.8M319.5 1071.05v-8.8M342.5 1071.05v-10.4M343.5 1071.05v-3.2M366.5 1071.05v-1.6M368.5 1071.05v-2.4M413.5 1071.05v-1.6M415.5 1071.05v-0.8M444.5 1071.05v-16.0M445.5 1071.05v-2.4M519.5 1071.05v-1.6M521.5 1071.05v-0.8M568.5 1071.05v-6.4M570.5 1071.05v-2.4M572.5 1071.05v-80.0M574.5 1071.05v-21.6M576.5 1071.05v-2.4" fill="none" stroke="#1a1a1a" stroke-width="1" shape-rendering="crispEdges"/>
<text transform="translate(325.88,1059.06) rotate(-90) scale(0.93,1)" font-family='"Liberation Sans", sans-serif' font-size="19.83" fill="#111" stroke="#111" stroke-width="0.3">179</text>
<text transform="translate(348.55,1057.46) rotate(-90) scale(0.93,1)" font-family='"Liberation Sans", sans-serif' font-size="19.83" fill="#111" stroke="#111" stroke-width="0.3">191</text>
<text transform="translate(450.56,1050.40) rotate(-90) scale(0.93,1)" font-family='"Liberation Sans", sans-serif' font-size="19.83" fill="#111" stroke="#111" stroke-width="0.3">245</text>
<text transform="translate(579.01,986.59) rotate(-90) scale(0.93,1)" font-family='"Liberation Sans", sans-serif' font-size="19.83" fill="#111" stroke="#111" stroke-width="0.3">313</text>
<text transform="translate(99.04,1019.56) scale(0.7928,1)" font-family='"Liberation Sans", sans-serif' font-weight="bold" font-size="28.69" fill="#000"  stroke="#000" stroke-width="0.7" stroke-linejoin="round">C</text>
<path d="M75.7 1113.6V1194.1M65.1 1194.10H75.7M68.1 1186.10H75.7M68.1 1178.10H75.7M68.1 1170.10H75.7M68.1 1162.10H75.7M65.1 1154.10H75.7M68.1 1146.10H75.7M68.1 1138.10H75.7M68.1 1130.10H75.7M68.1 1122.10H75.7M65.1 1114.10H75.7" fill="none" stroke="#1c1c1c" stroke-width="1.35"/>
<line x1="75.10000000000001" y1="1194.1" x2="623.5" y2="1194.1" stroke="#111" stroke-width="2.0"/>
<text transform="translate(52.46,1200.31) scale(1.0394,1)" font-family='"Liberation Sans", sans-serif' font-weight="normal" font-size="18.94" fill="#111"  stroke="#111" stroke-width="0.3" stroke-linejoin="round">0</text>
<text transform="translate(42.60,1160.31) scale(0.9869,1)" font-family='"Liberation Sans", sans-serif' font-weight="normal" font-size="18.94" fill="#111"  stroke="#111" stroke-width="0.3" stroke-linejoin="round">50</text>
<text transform="translate(33.09,1120.31) scale(0.9575,1)" font-family='"Liberation Sans", sans-serif' font-weight="normal" font-size="18.94" fill="#111"  stroke="#111" stroke-width="0.3" stroke-linejoin="round">100</text>
<path d="M130.5 1194.1v-0.8M134.5 1194.1v-0.8M183.5 1194.1v-8.8M185.5 1194.1v-1.6M236.5 1194.1v-6.4M240.5 1194.1v-9.6M241.5 1194.1v-2.4M262.5 1194.1v-0.8M308.5 1194.1v-8.0M309.5 1194.1v-4.8M311.5 1194.1v-4.0M319.5 1194.1v-40.0M321.5 1194.1v-4.8M342.5 1194.1v-3.2M360.5 1194.1v-1.6M364.5 1194.1v-1.6M366.5 1194.1v-2.4M368.5 1194.1v-3.2M413.5 1194.1v-2.4M415.5 1194.1v-0.8M444.5 1194.1v-80.0M445.5 1194.1v-16.0M447.5 1194.1v-2.4M489.5 1194.1v-2.4M491.5 1194.1v-1.6M493.5 1194.1v-0.8M568.5 1194.1v-36.0M570.5 1194.1v-9.6M572.5 1194.1v-20.0M574.5 1194.1v-6.4" fill="none" stroke="#1a1a1a" stroke-width="1" shape-rendering="crispEdges"/>
<text transform="translate(189.87,1182.11) rotate(-90) scale(0.93,1)" font-family='"Liberation Sans", sans-serif' font-size="19.83" fill="#111" stroke="#111" stroke-width="0.3">107</text>
<text transform="translate(246.54,1181.31) rotate(-90) scale(0.93,1)" font-family='"Liberation Sans", sans-serif' font-size="19.83" fill="#111" stroke="#111" stroke-width="0.3">137</text>
<text transform="translate(325.88,1150.91) rotate(-90) scale(0.93,1)" font-family='"Liberation Sans", sans-serif' font-size="19.83" fill="#111" stroke="#111" stroke-width="0.3">179</text>
<text transform="translate(348.55,1187.71) rotate(-90) scale(0.93,1)" font-family='"Liberation Sans", sans-serif' font-size="19.83" fill="#111" stroke="#111" stroke-width="0.3">191</text>
<text transform="translate(375.00,1186.25) rotate(-90) scale(0.93,1)" font-family='"Liberation Sans", sans-serif' font-size="19.83" fill="#111" stroke="#111" stroke-width="0.3">205</text>
<text transform="translate(420.33,1187.05) rotate(-90) scale(0.93,1)" font-family='"Liberation Sans", sans-serif' font-size="19.83" fill="#111" stroke="#111" stroke-width="0.3">229</text>
<text transform="translate(450.56,1109.45) rotate(-90) scale(0.93,1)" font-family='"Liberation Sans", sans-serif' font-size="19.83" fill="#111" stroke="#111" stroke-width="0.3">245</text>
<text transform="translate(495.89,1187.05) rotate(-90) scale(0.93,1)" font-family='"Liberation Sans", sans-serif' font-size="19.83" fill="#111" stroke="#111" stroke-width="0.3">269</text>
<text transform="translate(575.23,1153.64) rotate(-90) scale(0.93,1)" font-family='"Liberation Sans", sans-serif' font-size="19.83" fill="#111" stroke="#111" stroke-width="0.3">311</text>
<text transform="translate(593.10,1131.74) rotate(-90) scale(0.93,1)" font-family='"Liberation Sans", sans-serif' font-size="19.83" fill="#111" stroke="#111" stroke-width="0.3">313</text>
<text transform="translate(97.78,1146.35) scale(0.9736,1)" font-family='"Liberation Sans", sans-serif' font-weight="bold" font-size="28.51" fill="#000"  stroke="#000" stroke-width="0.7" stroke-linejoin="round">D</text>
<path d="M75.7 1236.65V1317.15M65.1 1317.15H75.7M68.1 1309.15H75.7M68.1 1301.15H75.7M68.1 1293.15H75.7M68.1 1285.15H75.7M65.1 1277.15H75.7M68.1 1269.15H75.7M68.1 1261.15H75.7M68.1 1253.15H75.7M68.1 1245.15H75.7M65.1 1237.15H75.7" fill="none" stroke="#1c1c1c" stroke-width="1.35"/>
<line x1="75.10000000000001" y1="1317.15" x2="623.5" y2="1317.15" stroke="#111" stroke-width="2.0"/>
<text transform="translate(52.46,1323.36) scale(1.0394,1)" font-family='"Liberation Sans", sans-serif' font-weight="normal" font-size="18.94" fill="#111"  stroke="#111" stroke-width="0.3" stroke-linejoin="round">0</text>
<text transform="translate(42.60,1283.36) scale(0.9869,1)" font-family='"Liberation Sans", sans-serif' font-weight="normal" font-size="18.94" fill="#111"  stroke="#111" stroke-width="0.3" stroke-linejoin="round">50</text>
<text transform="translate(33.09,1243.36) scale(0.9575,1)" font-family='"Liberation Sans", sans-serif' font-weight="normal" font-size="18.94" fill="#111"  stroke="#111" stroke-width="0.3" stroke-linejoin="round">100</text>
<path d="M211.5 1317.15v-2.4M238.5 1317.15v-16.8M240.5 1317.15v-3.2M260.5 1317.15v-12.0M262.5 1317.15v-1.6M285.5 1317.15v-2.4M287.5 1317.15v-1.6M289.5 1317.15v-0.8M308.5 1317.15v-1.6M311.5 1317.15v-7.2M313.5 1317.15v-2.4M319.5 1317.15v-15.2M321.5 1317.15v-1.6M338.5 1317.15v-1.6M342.5 1317.15v-80.0M343.5 1317.15v-17.6M345.5 1317.15v-2.4M364.5 1317.15v-14.4M366.5 1317.15v-9.6M368.5 1317.15v-3.2M387.5 1317.15v-1.6M413.5 1317.15v-12.8M415.5 1317.15v-3.2M417.5 1317.15v-3.2M440.5 1317.15v-9.6M442.5 1317.15v-3.2M444.5 1317.15v-2.4M538.5 1317.15v-1.6M568.5 1317.15v-8.0M570.5 1317.15v-2.4M572.5 1317.15v-30.4M574.5 1317.15v-8.8" fill="none" stroke="#1a1a1a" stroke-width="1" shape-rendering="crispEdges"/>
<text transform="translate(218.21,1311.56) rotate(-90) scale(0.93,1)" font-family='"Liberation Sans", sans-serif' font-size="19.83" fill="#111" stroke="#111" stroke-width="0.3">122</text>
<text transform="translate(244.65,1297.16) rotate(-90) scale(0.93,1)" font-family='"Liberation Sans", sans-serif' font-size="19.83" fill="#111" stroke="#111" stroke-width="0.3">136</text>
<text transform="translate(267.32,1301.96) rotate(-90) scale(0.93,1)" font-family='"Liberation Sans", sans-serif' font-size="19.83" fill="#111" stroke="#111" stroke-width="0.3">148</text>
<text transform="translate(325.88,1298.76) rotate(-90) scale(0.93,1)" font-family='"Liberation Sans", sans-serif' font-size="19.83" fill="#111" stroke="#111" stroke-width="0.3">179</text>
<text transform="translate(348.55,1233.96) rotate(-90) scale(0.93,1)" font-family='"Liberation Sans", sans-serif' font-size="19.83" fill="#111" stroke="#111" stroke-width="0.3">191</text>
<text transform="translate(371.22,1298.10) rotate(-90) scale(0.93,1)" font-family='"Liberation Sans", sans-serif' font-size="19.83" fill="#111" stroke="#111" stroke-width="0.3">203</text>
<text transform="translate(420.33,1299.70) rotate(-90) scale(0.93,1)" font-family='"Liberation Sans", sans-serif' font-size="19.83" fill="#111" stroke="#111" stroke-width="0.3">229</text>
<text transform="translate(446.78,1302.90) rotate(-90) scale(0.93,1)" font-family='"Liberation Sans", sans-serif' font-size="19.83" fill="#111" stroke="#111" stroke-width="0.3">243</text>
<text transform="translate(579.01,1282.29) rotate(-90) scale(0.93,1)" font-family='"Liberation Sans", sans-serif' font-size="19.83" fill="#111" stroke="#111" stroke-width="0.3">313</text>
<text transform="translate(97.64,1270.85) scale(0.7254,1)" font-family='"Liberation Sans", sans-serif' font-weight="bold" font-size="28.80" fill="#000"  stroke="#000" stroke-width="0.7" stroke-linejoin="round">E</text>
<path d="M75.7 1359.7V1440.2M65.1 1440.20H75.7M68.1 1432.20H75.7M68.1 1424.20H75.7M68.1 1416.20H75.7M68.1 1408.20H75.7M65.1 1400.20H75.7M68.1 1392.20H75.7M68.1 1384.20H75.7M68.1 1376.20H75.7M68.1 1368.20H75.7M65.1 1360.20H75.7" fill="none" stroke="#1c1c1c" stroke-width="1.35"/>
<line x1="75.10000000000001" y1="1440.2" x2="623.5" y2="1440.2" stroke="#111" stroke-width="2.0"/>
<text transform="translate(52.46,1446.41) scale(1.0394,1)" font-family='"Liberation Sans", sans-serif' font-weight="normal" font-size="18.94" fill="#111"  stroke="#111" stroke-width="0.3" stroke-linejoin="round">0</text>
<text transform="translate(42.60,1406.41) scale(0.9869,1)" font-family='"Liberation Sans", sans-serif' font-weight="normal" font-size="18.94" fill="#111"  stroke="#111" stroke-width="0.3" stroke-linejoin="round">50</text>
<text transform="translate(33.09,1366.41) scale(0.9575,1)" font-family='"Liberation Sans", sans-serif' font-weight="normal" font-size="18.94" fill="#111"  stroke="#111" stroke-width="0.3" stroke-linejoin="round">100</text>
<path d="M238.5 1440.2v-1.6M319.5 1440.2v-7.2M342.5 1440.2v-8.0M343.5 1440.2v-1.6M368.5 1440.2v-1.6M413.5 1440.2v-1.6M444.5 1440.2v-21.6M445.5 1440.2v-4.0M568.5 1440.2v-4.0M572.5 1440.2v-80.0M574.5 1440.2v-22.4M576.5 1440.2v-2.4" fill="none" stroke="#1a1a1a" stroke-width="1" shape-rendering="crispEdges"/>
<text transform="translate(325.88,1429.81) rotate(-90) scale(0.93,1)" font-family='"Liberation Sans", sans-serif' font-size="19.83" fill="#111" stroke="#111" stroke-width="0.3">179</text>
<text transform="translate(348.55,1429.01) rotate(-90) scale(0.93,1)" font-family='"Liberation Sans", sans-serif' font-size="19.83" fill="#111" stroke="#111" stroke-width="0.3">191</text>
<text transform="translate(450.56,1413.95) rotate(-90) scale(0.93,1)" font-family='"Liberation Sans", sans-serif' font-size="19.83" fill="#111" stroke="#111" stroke-width="0.3">245</text>
<text transform="translate(579.01,1355.74) rotate(-90) scale(0.93,1)" font-family='"Liberation Sans", sans-serif' font-size="19.83" fill="#111" stroke="#111" stroke-width="0.3">313</text>
<text transform="translate(101.21,1386.25) scale(0.7427,1)" font-family='"Liberation Sans", sans-serif' font-weight="bold" font-size="28.65" fill="#000"  stroke="#000" stroke-width="0.7" stroke-linejoin="round">F</text>
<path d="M75.7 1482.75V1563.25M65.1 1563.25H75.7M68.1 1555.25H75.7M68.1 1547.25H75.7M68.1 1539.25H75.7M68.1 1531.25H75.7M65.1 1523.25H75.7M68.1 1515.25H75.7M68.1 1507.25H75.7M68.1 1499.25H75.7M68.1 1491.25H75.7M65.1 1483.25H75.7" fill="none" stroke="#1c1c1c" stroke-width="1.35"/>
<line x1="75.10000000000001" y1="1563.25" x2="623.5" y2="1563.25" stroke="#111" stroke-width="2.0"/>
<text transform="translate(52.46,1569.46) scale(1.0394,1)" font-family='"Liberation Sans", sans-serif' font-weight="normal" font-size="18.94" fill="#111"  stroke="#111" stroke-width="0.3" stroke-linejoin="round">0</text>
<text transform="translate(42.60,1529.46) scale(0.9869,1)" font-family='"Liberation Sans", sans-serif' font-weight="normal" font-size="18.94" fill="#111"  stroke="#111" stroke-width="0.3" stroke-linejoin="round">50</text>
<text transform="translate(33.09,1489.46) scale(0.9575,1)" font-family='"Liberation Sans", sans-serif' font-weight="normal" font-size="18.94" fill="#111"  stroke="#111" stroke-width="0.3" stroke-linejoin="round">100</text>
<path d="M238.5 1563.25v-2.4M260.5 1563.25v-0.8M319.5 1563.25v-7.2M321.5 1563.25v-0.8M342.5 1563.25v-21.6M343.5 1563.25v-4.8M366.5 1563.25v-3.2M368.5 1563.25v-1.6M391.5 1563.25v-4.0M413.5 1563.25v-3.2M419.5 1563.25v-3.2M421.5 1563.25v-1.6M440.5 1563.25v-2.4M568.5 1563.25v-5.6M572.5 1563.25v-80.0M574.5 1563.25v-20.8M576.5 1563.25v-2.4" fill="none" stroke="#1a1a1a" stroke-width="1" shape-rendering="crispEdges"/>
<text transform="translate(244.65,1557.66) rotate(-90) scale(0.93,1)" font-family='"Liberation Sans", sans-serif' font-size="19.83" fill="#111" stroke="#111" stroke-width="0.3">136</text>
<text transform="translate(325.88,1552.86) rotate(-90) scale(0.93,1)" font-family='"Liberation Sans", sans-serif' font-size="19.83" fill="#111" stroke="#111" stroke-width="0.3">179</text>
<text transform="translate(348.55,1538.46) rotate(-90) scale(0.93,1)" font-family='"Liberation Sans", sans-serif' font-size="19.83" fill="#111" stroke="#111" stroke-width="0.3">191</text>
<text transform="translate(373.11,1555.40) rotate(-90) scale(0.93,1)" font-family='"Liberation Sans", sans-serif' font-size="19.83" fill="#111" stroke="#111" stroke-width="0.3">204</text>
<text transform="translate(397.66,1554.60) rotate(-90) scale(0.93,1)" font-family='"Liberation Sans", sans-serif' font-size="19.83" fill="#111" stroke="#111" stroke-width="0.3">217</text>
<text transform="translate(426.00,1555.40) rotate(-90) scale(0.93,1)" font-family='"Liberation Sans", sans-serif' font-size="19.83" fill="#111" stroke="#111" stroke-width="0.3">232</text>
<text transform="translate(446.78,1556.20) rotate(-90) scale(0.93,1)" font-family='"Liberation Sans", sans-serif' font-size="19.83" fill="#111" stroke="#111" stroke-width="0.3">243</text>
<text transform="translate(579.01,1478.79) rotate(-90) scale(0.93,1)" font-family='"Liberation Sans", sans-serif' font-size="19.83" fill="#111" stroke="#111" stroke-width="0.3">313</text>
<text transform="translate(99.32,1513.07) scale(0.9165,1)" font-family='"Liberation Sans", sans-serif' font-weight="bold" font-size="28.13" fill="#000"  stroke="#000" stroke-width="0.7" stroke-linejoin="round">G</text>
<path d="M75.7 1605.8V1686.3M65.1 1686.30H75.7M68.1 1678.30H75.7M68.1 1670.30H75.7M68.1 1662.30H75.7M68.1 1654.30H75.7M65.1 1646.30H75.7M68.1 1638.30H75.7M68.1 1630.30H75.7M68.1 1622.30H75.7M68.1 1614.30H75.7M65.1 1606.30H75.7" fill="none" stroke="#1c1c1c" stroke-width="1.35"/>
<line x1="75.10000000000001" y1="1686.3" x2="623.5" y2="1686.3" stroke="#111" stroke-width="1.5"/>
<text transform="translate(52.46,1692.51) scale(1.0394,1)" font-family='"Liberation Sans", sans-serif' font-weight="normal" font-size="18.94" fill="#111"  stroke="#111" stroke-width="0.3" stroke-linejoin="round">0</text>
<text transform="translate(42.60,1652.51) scale(0.9869,1)" font-family='"Liberation Sans", sans-serif' font-weight="normal" font-size="18.94" fill="#111"  stroke="#111" stroke-width="0.3" stroke-linejoin="round">50</text>
<text transform="translate(33.09,1612.51) scale(0.9575,1)" font-family='"Liberation Sans", sans-serif' font-weight="normal" font-size="18.94" fill="#111"  stroke="#111" stroke-width="0.3" stroke-linejoin="round">100</text>
<path d="M240.5 1686.3v-0.8M251.5 1686.3v-0.8M281.5 1686.3v-1.6M304.5 1686.3v-6.4M306.5 1686.3v-1.6M326.5 1686.3v-0.8M379.5 1686.3v-0.8M457.5 1686.3v-0.8M481.5 1686.3v-0.8M485.5 1686.3v-0.8M508.5 1686.3v-9.6M510.5 1686.3v-3.2M534.5 1686.3v-0.8M536.5 1686.3v-0.8M564.5 1686.3v-80.0M566.5 1686.3v-22.4M568.5 1686.3v-2.4M597.5 1686.3v-0.8" fill="none" stroke="#1a1a1a" stroke-width="1" shape-rendering="crispEdges"/>
<text transform="translate(310.77,1676.71) rotate(-90) scale(0.93,1)" font-family='"Liberation Sans", sans-serif' font-size="19.83" fill="#111" stroke="#111" stroke-width="0.3">171</text>
<text transform="translate(514.78,1672.05) rotate(-90) scale(0.93,1)" font-family='"Liberation Sans", sans-serif' font-size="19.83" fill="#111" stroke="#111" stroke-width="0.3">279</text>
<text transform="translate(571.45,1601.84) rotate(-90) scale(0.93,1)" font-family='"Liberation Sans", sans-serif' font-size="19.83" fill="#111" stroke="#111" stroke-width="0.3">309</text>
<path d="M75.70 1686.3v11M94.59 1686.3v7.2M113.48 1686.3v7.2M132.37 1686.3v7.2M151.26 1686.3v7.2M170.15 1686.3v11M189.04 1686.3v7.2M207.93 1686.3v7.2M226.82 1686.3v7.2M245.71 1686.3v7.2M264.60 1686.3v11M283.49 1686.3v7.2M302.38 1686.3v7.2M321.27 1686.3v7.2M340.16 1686.3v7.2M359.05 1686.3v11M377.94 1686.3v7.2M396.83 1686.3v7.2M415.72 1686.3v7.2M434.61 1686.3v7.2M453.50 1686.3v11M472.39 1686.3v7.2M491.28 1686.3v7.2M510.17 1686.3v7.2M529.06 1686.3v7.2M547.95 1686.3v11M566.84 1686.3v7.2M585.73 1686.3v7.2M604.62 1686.3v7.2M623.51 1686.3v7.2" fill="none" stroke="#1c1c1c" stroke-width="1.35"/>
<text transform="translate(65.63,1715.06) scale(0.9782,1)" font-family='"Liberation Sans", sans-serif' font-weight="normal" font-size="18.52" fill="#111"  stroke="#111" stroke-width="0.3" stroke-linejoin="round">50</text>
<text transform="translate(154.96,1715.06) scale(0.9621,1)" font-family='"Liberation Sans", sans-serif' font-weight="normal" font-size="18.52" fill="#111"  stroke="#111" stroke-width="0.3" stroke-linejoin="round">100</text>
<text transform="translate(249.41,1715.06) scale(0.9621,1)" font-family='"Liberation Sans", sans-serif' font-weight="normal" font-size="18.52" fill="#111"  stroke="#111" stroke-width="0.3" stroke-linejoin="round">150</text>
<text transform="translate(344.32,1715.06) scale(0.9468,1)" font-family='"Liberation Sans", sans-serif' font-weight="normal" font-size="18.52" fill="#111"  stroke="#111" stroke-width="0.3" stroke-linejoin="round">200</text>
<text transform="translate(438.77,1715.06) scale(0.9468,1)" font-family='"Liberation Sans", sans-serif' font-weight="normal" font-size="18.52" fill="#111"  stroke="#111" stroke-width="0.3" stroke-linejoin="round">250</text>
<text transform="translate(533.45,1715.06) scale(0.9394,1)" font-family='"Liberation Sans", sans-serif' font-weight="normal" font-size="18.52" fill="#111"  stroke="#111" stroke-width="0.3" stroke-linejoin="round">300</text>
<text transform="translate(98.66,1637.75) scale(0.9220,1)" font-family='"Liberation Sans", sans-serif' font-weight="bold" font-size="28.80" fill="#000"  stroke="#000" stroke-width="0.7" stroke-linejoin="round">H</text>
<path d="M683.2 874.1V951.2M670.7 951.20H683.2M674.6 943.54H683.2M674.6 935.88H683.2M674.6 928.22H683.2M674.6 920.56H683.2M670.7 912.90H683.2M674.6 905.24H683.2M674.6 897.58H683.2M674.6 889.92H683.2M674.6 882.26H683.2M670.7 874.60H683.2" fill="none" stroke="#1c1c1c" stroke-width="1.35"/>
<line x1="682.6" y1="951.2" x2="1308" y2="951.2" stroke="#111" stroke-width="2.0"/>
<text transform="translate(658.03,957.65) scale(1.0446,1)" font-family='"Liberation Sans", sans-serif' font-weight="normal" font-size="19.65" fill="#111"  stroke="#111" stroke-width="0.3" stroke-linejoin="round">0</text>
<text transform="translate(647.04,919.35) scale(1.0254,1)" font-family='"Liberation Sans", sans-serif' font-weight="normal" font-size="19.65" fill="#111"  stroke="#111" stroke-width="0.3" stroke-linejoin="round">50</text>
<text transform="translate(637.10,881.05) scale(0.9853,1)" font-family='"Liberation Sans", sans-serif' font-weight="normal" font-size="19.65" fill="#111"  stroke="#111" stroke-width="0.3" stroke-linejoin="round">100</text>
<path d="M843.5 951.2v-11.5M886.5 951.2v-1.5M910.5 951.2v-4.6M919.5 951.2v-3.1M923.5 951.2v-3.1M945.5 951.2v-12.3M947.5 951.2v-8.4M949.5 951.2v-4.6M971.5 951.2v-2.3M990.5 951.2v-6.9M1012.5 951.2v-2.3M1023.5 951.2v-1.5M1027.5 951.2v-2.3M1038.5 951.2v-6.9M1046.5 951.2v-3.1M1142.5 951.2v-12.3M1144.5 951.2v-3.1M1176.5 951.2v-38.3M1177.5 951.2v-23.0M1177.5 951.2v-9.2M1178.5 951.2v-6.1M1224.5 951.2v-76.6M1226.5 951.2v-20.7M1228.5 951.2v-3.1M1258.5 951.2v-3.1" fill="none" stroke="#1a1a1a" stroke-width="1" shape-rendering="crispEdges"/>
<text transform="translate(850.05,936.65) rotate(-90) scale(0.95,1)" font-family='"Liberation Sans", sans-serif' font-size="20.67" fill="#111" stroke="#111" stroke-width="0.3">136</text>
<text transform="translate(917.04,943.54) rotate(-90) scale(0.95,1)" font-family='"Liberation Sans", sans-serif' font-size="20.67" fill="#111" stroke="#111" stroke-width="0.3">172</text>
<text transform="translate(930.07,945.08) rotate(-90) scale(0.95,1)" font-family='"Liberation Sans", sans-serif' font-size="20.67" fill="#111" stroke="#111" stroke-width="0.3">179</text>
<text transform="translate(952.40,935.88) rotate(-90) scale(0.95,1)" font-family='"Liberation Sans", sans-serif' font-size="20.67" fill="#111" stroke="#111" stroke-width="0.3">191</text>
<text transform="translate(997.07,939.70) rotate(-90) scale(0.95,1)" font-family='"Liberation Sans", sans-serif' font-size="20.67" fill="#111" stroke="#111" stroke-width="0.3">215</text>
<text transform="translate(1019.40,944.29) rotate(-90) scale(0.95,1)" font-family='"Liberation Sans", sans-serif' font-size="20.67" fill="#111" stroke="#111" stroke-width="0.3">227</text>
<text transform="translate(1045.45,939.70) rotate(-90) scale(0.95,1)" font-family='"Liberation Sans", sans-serif' font-size="20.67" fill="#111" stroke="#111" stroke-width="0.3">241</text>
<text transform="translate(1066.90,892.59) rotate(-90) scale(0.95,1)" font-family='"Liberation Sans", sans-serif' font-size="20.67" fill="#111" stroke="#111" stroke-width="0.3">245</text>
<text transform="translate(1149.67,934.33) rotate(-90) scale(0.95,1)" font-family='"Liberation Sans", sans-serif' font-size="20.67" fill="#111" stroke="#111" stroke-width="0.3">297</text>
<text transform="translate(1183.17,908.49) rotate(-90) scale(0.95,1)" font-family='"Liberation Sans", sans-serif' font-size="20.67" fill="#111" stroke="#111" stroke-width="0.3">315</text>
<text transform="translate(1231.55,870.19) rotate(-90) scale(0.95,1)" font-family='"Liberation Sans", sans-serif' font-size="20.67" fill="#111" stroke="#111" stroke-width="0.3">341</text>
<text transform="translate(1265.05,943.72) rotate(-90) scale(0.95,1)" font-family='"Liberation Sans", sans-serif' font-size="20.67" fill="#111" stroke="#111" stroke-width="0.3">359</text>
<text transform="translate(708.86,899.05) scale(0.9846,1)" font-family='"Liberation Sans", sans-serif' font-weight="bold" font-size="28.51" fill="#000"  stroke="#000" stroke-width="0.7" stroke-linejoin="round">I</text>
<path d="M683.2 996.4V1073.5M670.7 1073.50H683.2M674.6 1065.84H683.2M674.6 1058.18H683.2M674.6 1050.52H683.2M674.6 1042.86H683.2M670.7 1035.20H683.2M674.6 1027.54H683.2M674.6 1019.88H683.2M674.6 1012.22H683.2M674.6 1004.56H683.2M670.7 996.90H683.2" fill="none" stroke="#1c1c1c" stroke-width="1.35"/>
<line x1="682.6" y1="1073.5" x2="1308" y2="1073.5" stroke="#111" stroke-width="2.0"/>
<text transform="translate(658.03,1079.95) scale(1.0446,1)" font-family='"Liberation Sans", sans-serif' font-weight="normal" font-size="19.65" fill="#111"  stroke="#111" stroke-width="0.3" stroke-linejoin="round">0</text>
<text transform="translate(647.04,1041.65) scale(1.0254,1)" font-family='"Liberation Sans", sans-serif' font-weight="normal" font-size="19.65" fill="#111"  stroke="#111" stroke-width="0.3" stroke-linejoin="round">50</text>
<text transform="translate(637.10,1003.35) scale(0.9853,1)" font-family='"Liberation Sans", sans-serif' font-weight="normal" font-size="19.65" fill="#111"  stroke="#111" stroke-width="0.3" stroke-linejoin="round">100</text>
<path d="M923.5 1073.5v-6.9M945.5 1073.5v-7.7M947.5 1073.5v-2.3M969.5 1073.5v-0.8M1016.5 1073.5v-0.8M1046.5 1073.5v-10.7M1168.5 1073.5v-4.6M1172.5 1073.5v-76.6M1174.5 1073.5v-20.7M1176.5 1073.5v-3.1M1221.5 1073.5v-3.8M1254.5 1073.5v-25.3M1255.5 1073.5v-10.7M1256.5 1073.5v-7.7M1257.5 1073.5v-3.8" fill="none" stroke="#1a1a1a" stroke-width="1" shape-rendering="crispEdges"/>
<text transform="translate(930.07,1063.55) rotate(-90) scale(0.95,1)" font-family='"Liberation Sans", sans-serif' font-size="20.67" fill="#111" stroke="#111" stroke-width="0.3">179</text>
<text transform="translate(952.40,1062.78) rotate(-90) scale(0.95,1)" font-family='"Liberation Sans", sans-serif' font-size="20.67" fill="#111" stroke="#111" stroke-width="0.3">191</text>
<text transform="translate(1052.90,1058.17) rotate(-90) scale(0.95,1)" font-family='"Liberation Sans", sans-serif' font-size="20.67" fill="#111" stroke="#111" stroke-width="0.3">245</text>
<text transform="translate(1179.44,992.49) rotate(-90) scale(0.95,1)" font-family='"Liberation Sans", sans-serif' font-size="20.67" fill="#111" stroke="#111" stroke-width="0.3">313</text>
<text transform="translate(1227.83,1065.26) rotate(-90) scale(0.95,1)" font-family='"Liberation Sans", sans-serif' font-size="20.67" fill="#111" stroke="#111" stroke-width="0.3">339</text>
<text transform="translate(1261.33,1043.81) rotate(-90) scale(0.95,1)" font-family='"Liberation Sans", sans-serif' font-size="20.67" fill="#111" stroke="#111" stroke-width="0.3">357</text>
<text transform="translate(707.07,1024.16) scale(0.6495,1)" font-family='"Liberation Sans", sans-serif' font-weight="bold" font-size="28.67" fill="#000"  stroke="#000" stroke-width="0.7" stroke-linejoin="round">J</text>
<path d="M683.2 1118.7V1195.8M670.7 1195.80H683.2M674.6 1188.14H683.2M674.6 1180.48H683.2M674.6 1172.82H683.2M674.6 1165.16H683.2M670.7 1157.50H683.2M674.6 1149.84H683.2M674.6 1142.18H683.2M674.6 1134.52H683.2M674.6 1126.86H683.2M670.7 1119.20H683.2" fill="none" stroke="#1c1c1c" stroke-width="1.35"/>
<line x1="682.6" y1="1195.8" x2="1308" y2="1195.8" stroke="#111" stroke-width="2.0"/>
<text transform="translate(658.03,1202.25) scale(1.0446,1)" font-family='"Liberation Sans", sans-serif' font-weight="normal" font-size="19.65" fill="#111"  stroke="#111" stroke-width="0.3" stroke-linejoin="round">0</text>
<text transform="translate(647.04,1163.95) scale(1.0254,1)" font-family='"Liberation Sans", sans-serif' font-weight="normal" font-size="19.65" fill="#111"  stroke="#111" stroke-width="0.3" stroke-linejoin="round">50</text>
<text transform="translate(637.10,1125.65) scale(0.9853,1)" font-family='"Liberation Sans", sans-serif' font-weight="normal" font-size="19.65" fill="#111"  stroke="#111" stroke-width="0.3" stroke-linejoin="round">100</text>
<path d="M692.5 1195.8v-0.8M789.5 1195.8v-6.1M841.5 1195.8v-5.4M845.5 1195.8v-8.4M867.5 1195.8v-0.8M912.5 1195.8v-6.1M915.5 1195.8v-5.4M923.5 1195.8v-42.1M925.5 1195.8v-4.6M945.5 1195.8v-3.8M947.5 1195.8v-1.5M967.5 1195.8v-1.5M969.5 1195.8v-2.3M971.5 1195.8v-3.1M1012.5 1195.8v-11.5M1013.5 1195.8v-7.7M1014.5 1195.8v-6.1M1016.5 1195.8v-3.1M1046.5 1195.8v-76.6M1047.5 1195.8v-16.9M1094.5 1195.8v-29.1M1096.5 1195.8v-4.6M1127.5 1195.8v-16.9M1129.5 1195.8v-3.1M1139.5 1195.8v-9.2M1141.5 1195.8v-2.3M1142.5 1195.8v-1.5M1168.5 1195.8v-36.8M1170.5 1195.8v-9.2M1172.5 1195.8v-23.0M1174.5 1195.8v-6.1M1221.5 1195.8v-43.7M1222.5 1195.8v-11.5M1254.5 1195.8v-11.5M1255.5 1195.8v-6.9M1256.5 1195.8v-4.6" fill="none" stroke="#1a1a1a" stroke-width="1" shape-rendering="crispEdges"/>
<text transform="translate(796.08,1186.61) rotate(-90) scale(0.95,1)" font-family='"Liberation Sans", sans-serif' font-size="20.67" fill="#111" stroke="#111" stroke-width="0.3">107</text>
<text transform="translate(851.91,1184.31) rotate(-90) scale(0.95,1)" font-family='"Liberation Sans", sans-serif' font-size="20.67" fill="#111" stroke="#111" stroke-width="0.3">137</text>
<text transform="translate(930.07,1150.61) rotate(-90) scale(0.95,1)" font-family='"Liberation Sans", sans-serif' font-size="20.67" fill="#111" stroke="#111" stroke-width="0.3">179</text>
<text transform="translate(952.40,1188.91) rotate(-90) scale(0.95,1)" font-family='"Liberation Sans", sans-serif' font-size="20.67" fill="#111" stroke="#111" stroke-width="0.3">191</text>
<text transform="translate(978.45,1188.13) rotate(-90) scale(0.95,1)" font-family='"Liberation Sans", sans-serif' font-size="20.67" fill="#111" stroke="#111" stroke-width="0.3">205</text>
<text transform="translate(1019.40,1179.70) rotate(-90) scale(0.95,1)" font-family='"Liberation Sans", sans-serif' font-size="20.67" fill="#111" stroke="#111" stroke-width="0.3">227</text>
<text transform="translate(1052.90,1114.59) rotate(-90) scale(0.95,1)" font-family='"Liberation Sans", sans-serif' font-size="20.67" fill="#111" stroke="#111" stroke-width="0.3">245</text>
<text transform="translate(1101.28,1162.08) rotate(-90) scale(0.95,1)" font-family='"Liberation Sans", sans-serif' font-size="20.67" fill="#111" stroke="#111" stroke-width="0.3">271</text>
<text transform="translate(1134.78,1174.34) rotate(-90) scale(0.95,1)" font-family='"Liberation Sans", sans-serif' font-size="20.67" fill="#111" stroke="#111" stroke-width="0.3">289</text>
<text transform="translate(1175.72,1154.62) rotate(-90) scale(0.95,1)" font-family='"Liberation Sans", sans-serif' font-size="20.67" fill="#111" stroke="#111" stroke-width="0.3">311</text>
<text transform="translate(1194.40,1133.79) rotate(-90) scale(0.95,1)" font-family='"Liberation Sans", sans-serif' font-size="20.67" fill="#111" stroke="#111" stroke-width="0.3">313</text>
<text transform="translate(1227.83,1147.72) rotate(-90) scale(0.95,1)" font-family='"Liberation Sans", sans-serif' font-size="20.67" fill="#111" stroke="#111" stroke-width="0.3">339</text>
<text transform="translate(1261.33,1179.90) rotate(-90) scale(0.95,1)" font-family='"Liberation Sans", sans-serif' font-size="20.67" fill="#111" stroke="#111" stroke-width="0.3">357</text>
<text transform="translate(707.33,1150.75) scale(0.7845,1)" font-family='"Liberation Sans", sans-serif' font-weight="bold" font-size="28.65" fill="#000"  stroke="#000" stroke-width="0.7" stroke-linejoin="round">K</text>
<path d="M683.2 1241.0V1318.1M670.7 1318.10H683.2M674.6 1310.44H683.2M674.6 1302.78H683.2M674.6 1295.12H683.2M674.6 1287.46H683.2M670.7 1279.80H683.2M674.6 1272.14H683.2M674.6 1264.48H683.2M674.6 1256.82H683.2M674.6 1249.16H683.2M670.7 1241.50H683.2" fill="none" stroke="#1c1c1c" stroke-width="1.35"/>
<line x1="682.6" y1="1318.1" x2="1308" y2="1318.1" stroke="#111" stroke-width="2.0"/>
<text transform="translate(658.03,1324.55) scale(1.0446,1)" font-family='"Liberation Sans", sans-serif' font-weight="normal" font-size="19.65" fill="#111"  stroke="#111" stroke-width="0.3" stroke-linejoin="round">0</text>
<text transform="translate(647.04,1286.25) scale(1.0254,1)" font-family='"Liberation Sans", sans-serif' font-weight="normal" font-size="19.65" fill="#111"  stroke="#111" stroke-width="0.3" stroke-linejoin="round">50</text>
<text transform="translate(637.10,1247.95) scale(0.9853,1)" font-family='"Liberation Sans", sans-serif' font-weight="normal" font-size="19.65" fill="#111"  stroke="#111" stroke-width="0.3" stroke-linejoin="round">100</text>
<path d="M792.5 1318.1v-0.8M871.5 1318.1v-8.4M893.5 1318.1v-11.5M895.5 1318.1v-3.8M915.5 1318.1v-1.5M917.5 1318.1v-2.3M964.5 1318.1v-0.8M993.5 1318.1v-19.1M995.5 1318.1v-3.1M1068.5 1318.1v-1.5M1116.5 1318.1v-5.4M1119.5 1318.1v-49.8M1120.5 1318.1v-76.6M1121.5 1318.1v-23.0M1122.5 1318.1v-19.1M1123.5 1318.1v-7.7M1124.5 1318.1v-3.8" fill="none" stroke="#1a1a1a" stroke-width="1" shape-rendering="crispEdges"/>
<text transform="translate(877.96,1306.61) rotate(-90) scale(0.95,1)" font-family='"Liberation Sans", sans-serif' font-size="20.67" fill="#111" stroke="#111" stroke-width="0.3">151</text>
<text transform="translate(900.29,1303.55) rotate(-90) scale(0.95,1)" font-family='"Liberation Sans", sans-serif' font-size="20.67" fill="#111" stroke="#111" stroke-width="0.3">163</text>
<text transform="translate(1000.79,1294.34) rotate(-90) scale(0.95,1)" font-family='"Liberation Sans", sans-serif' font-size="20.67" fill="#111" stroke="#111" stroke-width="0.3">217</text>
<text transform="translate(1127.34,1236.89) rotate(-90) scale(0.95,1)" font-family='"Liberation Sans", sans-serif' font-size="20.67" fill="#111" stroke="#111" stroke-width="0.3">285</text>
<text transform="translate(706.75,1275.75) scale(0.7218,1)" font-family='"Liberation Sans", sans-serif' font-weight="bold" font-size="28.65" fill="#000"  stroke="#000" stroke-width="0.7" stroke-linejoin="round">L</text>
<path d="M683.2 1363.3000000000002V1440.4M670.7 1440.40H683.2M674.6 1432.74H683.2M674.6 1425.08H683.2M674.6 1417.42H683.2M674.6 1409.76H683.2M670.7 1402.10H683.2M674.6 1394.44H683.2M674.6 1386.78H683.2M674.6 1379.12H683.2M674.6 1371.46H683.2M670.7 1363.80H683.2" fill="none" stroke="#1c1c1c" stroke-width="1.35"/>
<line x1="682.6" y1="1440.4" x2="1308" y2="1440.4" stroke="#111" stroke-width="2.0"/>
<text transform="translate(658.03,1446.85) scale(1.0446,1)" font-family='"Liberation Sans", sans-serif' font-weight="normal" font-size="19.65" fill="#111"  stroke="#111" stroke-width="0.3" stroke-linejoin="round">0</text>
<text transform="translate(647.04,1408.55) scale(1.0254,1)" font-family='"Liberation Sans", sans-serif' font-weight="normal" font-size="19.65" fill="#111"  stroke="#111" stroke-width="0.3" stroke-linejoin="round">50</text>
<text transform="translate(637.10,1370.25) scale(0.9853,1)" font-family='"Liberation Sans", sans-serif' font-weight="normal" font-size="19.65" fill="#111"  stroke="#111" stroke-width="0.3" stroke-linejoin="round">100</text>
<path d="M737.5 1440.4v-2.3M739.5 1440.4v-1.5M740.5 1440.4v-0.8M789.5 1440.4v-11.5M792.5 1440.4v-10.0M833.5 1440.4v-0.8M871.5 1440.4v-39.8M873.5 1440.4v-3.8M893.5 1440.4v-5.4M912.5 1440.4v-11.5M913.5 1440.4v-6.1M915.5 1440.4v-5.4M917.5 1440.4v-3.8M919.5 1440.4v-2.3M964.5 1440.4v-3.8M966.5 1440.4v-1.5M993.5 1440.4v-76.6M995.5 1440.4v-13.8M1038.5 1440.4v-2.3M1116.5 1440.4v-36.0M1118.5 1440.4v-9.2M1119.5 1440.4v-7.7M1120.5 1440.4v-13.8M1121.5 1440.4v-6.1M1122.5 1440.4v-4.6M1161.5 1440.4v-0.8" fill="none" stroke="#1a1a1a" stroke-width="1" shape-rendering="crispEdges"/>
<text transform="translate(796.08,1425.85) rotate(-90) scale(0.95,1)" font-family='"Liberation Sans", sans-serif' font-size="20.67" fill="#111" stroke="#111" stroke-width="0.3">107</text>
<text transform="translate(877.96,1397.51) rotate(-90) scale(0.95,1)" font-family='"Liberation Sans", sans-serif' font-size="20.67" fill="#111" stroke="#111" stroke-width="0.3">151</text>
<text transform="translate(900.29,1431.98) rotate(-90) scale(0.95,1)" font-family='"Liberation Sans", sans-serif' font-size="20.67" fill="#111" stroke="#111" stroke-width="0.3">163</text>
<text transform="translate(918.90,1425.85) rotate(-90) scale(0.95,1)" font-family='"Liberation Sans", sans-serif' font-size="20.67" fill="#111" stroke="#111" stroke-width="0.3">173</text>
<text transform="translate(971.01,1431.96) rotate(-90) scale(0.95,1)" font-family='"Liberation Sans", sans-serif' font-size="20.67" fill="#111" stroke="#111" stroke-width="0.3">201</text>
<text transform="translate(1000.79,1359.19) rotate(-90) scale(0.95,1)" font-family='"Liberation Sans", sans-serif' font-size="20.67" fill="#111" stroke="#111" stroke-width="0.3">217</text>
<text transform="translate(1045.45,1433.49) rotate(-90) scale(0.95,1)" font-family='"Liberation Sans", sans-serif' font-size="20.67" fill="#111" stroke="#111" stroke-width="0.3">241</text>
<text transform="translate(1123.61,1399.79) rotate(-90) scale(0.95,1)" font-family='"Liberation Sans", sans-serif' font-size="20.67" fill="#111" stroke="#111" stroke-width="0.3">283</text>
<text transform="translate(708.73,1390.55) scale(1.2015,1)" font-family='"Liberation Sans", sans-serif' font-weight="bold" font-size="28.65" fill="#000"  stroke="#000" stroke-width="0.7" stroke-linejoin="round">M</text>
<path d="M683.2 1485.6000000000001V1562.7M670.7 1562.70H683.2M674.6 1555.04H683.2M674.6 1547.38H683.2M674.6 1539.72H683.2M674.6 1532.06H683.2M670.7 1524.40H683.2M674.6 1516.74H683.2M674.6 1509.08H683.2M674.6 1501.42H683.2M674.6 1493.76H683.2M670.7 1486.10H683.2" fill="none" stroke="#1c1c1c" stroke-width="1.35"/>
<line x1="682.6" y1="1562.7" x2="1308" y2="1562.7" stroke="#111" stroke-width="1.5"/>
<text transform="translate(658.03,1569.15) scale(1.0446,1)" font-family='"Liberation Sans", sans-serif' font-weight="normal" font-size="19.65" fill="#111"  stroke="#111" stroke-width="0.3" stroke-linejoin="round">0</text>
<text transform="translate(647.04,1530.85) scale(1.0254,1)" font-family='"Liberation Sans", sans-serif' font-weight="normal" font-size="19.65" fill="#111"  stroke="#111" stroke-width="0.3" stroke-linejoin="round">50</text>
<text transform="translate(637.10,1492.55) scale(0.9853,1)" font-family='"Liberation Sans", sans-serif' font-weight="normal" font-size="19.65" fill="#111"  stroke="#111" stroke-width="0.3" stroke-linejoin="round">100</text>
<path d="M789.5 1562.7v-8.4M792.5 1562.7v-8.4M871.5 1562.7v-42.1M873.5 1562.7v-3.8M893.5 1562.7v-4.6M912.5 1562.7v-7.7M915.5 1562.7v-4.6M917.5 1562.7v-4.6M919.5 1562.7v-3.1M923.5 1562.7v-2.3M960.5 1562.7v-13.8M962.5 1562.7v-3.1M964.5 1562.7v-3.8M993.5 1562.7v-76.6M995.5 1562.7v-13.0M1038.5 1562.7v-2.3M1042.5 1562.7v-27.6M1044.5 1562.7v-6.1M1068.5 1562.7v-2.3M1075.5 1562.7v-19.1M1077.5 1562.7v-3.8M1087.5 1562.7v-10.0M1088.5 1562.7v-2.3M1090.5 1562.7v-1.5M1116.5 1562.7v-38.3M1118.5 1562.7v-9.2M1119.5 1562.7v-7.7M1120.5 1562.7v-17.6M1121.5 1562.7v-7.7M1122.5 1562.7v-6.1M1142.5 1562.7v-2.3M1168.5 1562.7v-51.3M1170.5 1562.7v-13.8M1202.5 1562.7v-11.5M1203.5 1562.7v-7.7M1204.5 1562.7v-6.1M1206.5 1562.7v-2.3" fill="none" stroke="#1a1a1a" stroke-width="1" shape-rendering="crispEdges"/>
<text transform="translate(796.08,1551.21) rotate(-90) scale(0.95,1)" font-family='"Liberation Sans", sans-serif' font-size="20.67" fill="#111" stroke="#111" stroke-width="0.3">107</text>
<text transform="translate(877.96,1517.51) rotate(-90) scale(0.95,1)" font-family='"Liberation Sans", sans-serif' font-size="20.67" fill="#111" stroke="#111" stroke-width="0.3">151</text>
<text transform="translate(900.29,1555.04) rotate(-90) scale(0.95,1)" font-family='"Liberation Sans", sans-serif' font-size="20.67" fill="#111" stroke="#111" stroke-width="0.3">163</text>
<text transform="translate(918.90,1551.98) rotate(-90) scale(0.95,1)" font-family='"Liberation Sans", sans-serif' font-size="20.67" fill="#111" stroke="#111" stroke-width="0.3">173</text>
<text transform="translate(967.29,1545.85) rotate(-90) scale(0.95,1)" font-family='"Liberation Sans", sans-serif' font-size="20.67" fill="#111" stroke="#111" stroke-width="0.3">199</text>
<text transform="translate(1000.79,1481.49) rotate(-90) scale(0.95,1)" font-family='"Liberation Sans", sans-serif' font-size="20.67" fill="#111" stroke="#111" stroke-width="0.3">217</text>
<text transform="translate(1049.17,1530.51) rotate(-90) scale(0.95,1)" font-family='"Liberation Sans", sans-serif' font-size="20.67" fill="#111" stroke="#111" stroke-width="0.3">243</text>
<text transform="translate(1082.67,1538.94) rotate(-90) scale(0.95,1)" font-family='"Liberation Sans", sans-serif' font-size="20.67" fill="#111" stroke="#111" stroke-width="0.3">261</text>
<text transform="translate(1123.61,1519.79) rotate(-90) scale(0.95,1)" font-family='"Liberation Sans", sans-serif' font-size="20.67" fill="#111" stroke="#111" stroke-width="0.3">283</text>
<text transform="translate(1175.72,1506.96) rotate(-90) scale(0.95,1)" font-family='"Liberation Sans", sans-serif' font-size="20.67" fill="#111" stroke="#111" stroke-width="0.3">311</text>
<text transform="translate(1209.22,1546.80) rotate(-90) scale(0.95,1)" font-family='"Liberation Sans", sans-serif' font-size="20.67" fill="#111" stroke="#111" stroke-width="0.3">329</text>
<path d="M683.20 1562.7v11.8M701.81 1562.7v8.5M720.42 1562.7v8.5M739.03 1562.7v8.5M757.64 1562.7v8.5M776.25 1562.7v11.8M794.86 1562.7v8.5M813.47 1562.7v8.5M832.08 1562.7v8.5M850.69 1562.7v8.5M869.30 1562.7v11.8M887.91 1562.7v8.5M906.52 1562.7v8.5M925.13 1562.7v8.5M943.74 1562.7v8.5M962.35 1562.7v11.8M980.96 1562.7v8.5M999.57 1562.7v8.5M1018.18 1562.7v8.5M1036.79 1562.7v8.5M1055.40 1562.7v11.8M1074.01 1562.7v8.5M1092.62 1562.7v8.5M1111.23 1562.7v8.5M1129.84 1562.7v8.5M1148.45 1562.7v11.8M1167.06 1562.7v8.5M1185.67 1562.7v8.5M1204.28 1562.7v8.5M1222.89 1562.7v8.5M1241.50 1562.7v11.8M1260.11 1562.7v8.5M1278.72 1562.7v8.5M1297.33 1562.7v8.5" fill="none" stroke="#1c1c1c" stroke-width="1.35"/>
<text transform="translate(671.99,1593.46) scale(1.0480,1)" font-family='"Liberation Sans", sans-serif' font-weight="normal" font-size="19.22" fill="#111"  stroke="#111" stroke-width="0.3" stroke-linejoin="round">50</text>
<text transform="translate(759.53,1593.46) scale(1.0204,1)" font-family='"Liberation Sans", sans-serif' font-weight="normal" font-size="19.22" fill="#111"  stroke="#111" stroke-width="0.3" stroke-linejoin="round">100</text>
<text transform="translate(852.58,1593.46) scale(1.0204,1)" font-family='"Liberation Sans", sans-serif' font-weight="normal" font-size="19.22" fill="#111"  stroke="#111" stroke-width="0.3" stroke-linejoin="round">150</text>
<text transform="translate(946.13,1593.46) scale(1.0042,1)" font-family='"Liberation Sans", sans-serif' font-weight="normal" font-size="19.22" fill="#111"  stroke="#111" stroke-width="0.3" stroke-linejoin="round">200</text>
<text transform="translate(1039.18,1593.46) scale(1.0042,1)" font-family='"Liberation Sans", sans-serif' font-weight="normal" font-size="19.22" fill="#111"  stroke="#111" stroke-width="0.3" stroke-linejoin="round">250</text>
<text transform="translate(1132.48,1593.46) scale(0.9963,1)" font-family='"Liberation Sans", sans-serif' font-weight="normal" font-size="19.22" fill="#111"  stroke="#111" stroke-width="0.3" stroke-linejoin="round">300</text>
<text transform="translate(1225.53,1593.46) scale(0.9963,1)" font-family='"Liberation Sans", sans-serif' font-weight="normal" font-size="19.22" fill="#111"  stroke="#111" stroke-width="0.3" stroke-linejoin="round">350</text>
<text transform="translate(708.41,1517.65) scale(1.0039,1)" font-family='"Liberation Sans", sans-serif' font-weight="bold" font-size="28.65" fill="#000"  stroke="#000" stroke-width="0.7" stroke-linejoin="round">N</text>
<line x1="328" y1="892" x2="320" y2="935" stroke="#c00000" stroke-width="2"/>
<line x1="580" y1="1144.5" x2="573.5" y2="1171.5" stroke="#c00000" stroke-width="2"/>
<line x1="1055.5" y1="905.5" x2="1047.5" y2="950" stroke="#c00000" stroke-width="2"/>
<line x1="1180" y1="1145" x2="1174" y2="1172" stroke="#c00000" stroke-width="2"/>
<text transform="translate(335.43,1738.52) scale(1.1578,1)" font-family='"Liberation Sans", sans-serif' font-weight="normal" font-size="15.31" fill="#111"  stroke="#111" stroke-width="0.25" stroke-linejoin="round">m/z</text>
<text transform="translate(978.87,1618.42) scale(1.1630,1)" font-family='"Liberation Sans", sans-serif' font-weight="normal" font-size="15.99" fill="#111"  stroke="#111" stroke-width="0.25" stroke-linejoin="round">m/z</text>
<text transform="translate(26.38,1357.69) rotate(-90) scale(0.9318,1)" font-family='"Liberation Sans", sans-serif' font-weight="normal" font-size="19.66" fill="#111"  stroke="#111" stroke-width="0.25" stroke-linejoin="round">Relative Abundance</text>
<rect x="4.8" y="1789.8" width="349.9" height="201.9" fill="#eef5ea"/>
<line x1="173.9" y1="1865.0" x2="201.3" y2="1881.5" stroke="#3c3c3c" stroke-width="1.15" stroke-linecap="round"/>
<line x1="201.3" y1="1881.5" x2="201.3" y2="1913.8" stroke="#3c3c3c" stroke-width="1.15" stroke-linecap="round"/>
<line x1="201.3" y1="1913.8" x2="173.9" y2="1930.3" stroke="#3c3c3c" stroke-width="1.15" stroke-linecap="round"/>
<line x1="173.9" y1="1930.3" x2="145.9" y2="1913.8" stroke="#3c3c3c" stroke-width="1.15" stroke-linecap="round"/>
<line x1="145.9" y1="1913.8" x2="145.9" y2="1881.5" stroke="#3c3c3c" stroke-width="1.15" stroke-linecap="round"/>
<line x1="145.9" y1="1881.5" x2="173.9" y2="1865.0" stroke="#3c3c3c" stroke-width="1.15" stroke-linecap="round"/>
<line x1="175.6" y1="1870.2" x2="195.9" y2="1882.5" stroke="#3c3c3c" stroke-width="1.15" stroke-linecap="round"/>
<line x1="195.9" y1="1912.9" x2="175.6" y2="1925.1" stroke="#3c3c3c" stroke-width="1.15" stroke-linecap="round"/>
<line x1="149.5" y1="1909.6" x2="149.5" y2="1885.7" stroke="#3c3c3c" stroke-width="1.15" stroke-linecap="round"/>
<line x1="173.9" y1="1865.0" x2="173.9" y2="1839.7" stroke="#3c3c3c" stroke-width="1.15" stroke-linecap="round"/>
<text transform="translate(168.60,1837.01) scale(1.0291,1)" font-family='"Liberation Sans", sans-serif' font-weight="normal" font-size="10.88" fill="#2a2a2a" >OH</text>
<line x1="145.9" y1="1913.8" x2="123.2" y2="1926.9" stroke="#3c3c3c" stroke-width="1.15" stroke-linecap="round"/>
<text transform="translate(104.74,1933.54) scale(1.0291,1)" font-family='"Liberation Sans", sans-serif' font-weight="normal" font-size="10.88" fill="#2a2a2a" >HO</text>
<line x1="201.3" y1="1913.8" x2="229.3" y2="1930.3" stroke="#3c3c3c" stroke-width="1.15" stroke-linecap="round"/>
<line x1="229.3" y1="1930.3" x2="257.3" y2="1914.3" stroke="#3c3c3c" stroke-width="1.15" stroke-linecap="round"/>
<line x1="257.3" y1="1914.3" x2="285.9" y2="1930.3" stroke="#3c3c3c" stroke-width="1.15" stroke-linecap="round"/>
<line x1="285.9" y1="1930.3" x2="313.9" y2="1914.3" stroke="#3c3c3c" stroke-width="1.15" stroke-linecap="round"/>
<line x1="313.9" y1="1914.3" x2="342.1" y2="1930.3" stroke="#3c3c3c" stroke-width="1.15" stroke-linecap="round"/>
<line x1="145.9" y1="1881.5" x2="117.9" y2="1865.0" stroke="#3c3c3c" stroke-width="1.15" stroke-linecap="round"/>
<line x1="117.9" y1="1865.0" x2="89.9" y2="1881.5" stroke="#3c3c3c" stroke-width="1.15" stroke-linecap="round"/>
<line x1="89.9" y1="1881.5" x2="61.3" y2="1865.0" stroke="#3c3c3c" stroke-width="1.15" stroke-linecap="round"/>
<line x1="61.3" y1="1865.0" x2="33.3" y2="1881.5" stroke="#3c3c3c" stroke-width="1.15" stroke-linecap="round"/>
<line x1="33.3" y1="1881.5" x2="33.3" y2="1914.3" stroke="#3c3c3c" stroke-width="1.15" stroke-linecap="round"/>
<line x1="33.3" y1="1914.3" x2="61.3" y2="1930.9" stroke="#3c3c3c" stroke-width="1.15" stroke-linecap="round"/>
<line x1="61.3" y1="1930.9" x2="61.3" y2="1962.3" stroke="#3c3c3c" stroke-width="1.15" stroke-linecap="round"/>
<line x1="61.3" y1="1962.3" x2="33.3" y2="1978.9" stroke="#3c3c3c" stroke-width="1.15" stroke-linecap="round"/>
<line x1="61.3" y1="1962.3" x2="89.9" y2="1978.9" stroke="#3c3c3c" stroke-width="1.15" stroke-linecap="round"/>
<line x1="61.3" y1="1865.0" x2="61.3" y2="1833.5" stroke="#3c3c3c" stroke-width="1.15" stroke-linecap="round"/>
<line x1="66.8" y1="1864.0" x2="88.0" y2="1876.3" stroke="#3c3c3c" stroke-width="1.15" stroke-linecap="round"/>
<line x1="57.7" y1="1935.0" x2="57.7" y2="1958.2" stroke="#3c3c3c" stroke-width="1.15" stroke-linecap="round"/>
<path d="M232.0 1797.0L13.9 1797.0L13.9 1879.7L121.3 1950.9" stroke="#c9060c" stroke-width="1.6" stroke-dasharray="6.6 4.2" fill="none"/>
<path d="M232.0 1801.5L96.5 1801.5L96.5 1891.7" stroke="#c9060c" stroke-width="1.6" stroke-dasharray="6.6 4.2" fill="none"/>
<path d="M101.9 1899.7L101.9 1819.1L244.0 1819.1L244.0 1947.7" stroke="#c9060c" stroke-width="1.6" stroke-dasharray="6.6 4.2" fill="none"/>
<path d="M226.7 1824.5L134.7 1824.5L134.7 1912.5" stroke="#c9060c" stroke-width="1.6" stroke-dasharray="6.6 4.2" fill="none"/>
<text transform="translate(21.07,1812.21) scale(1.3658,1)" font-family='"DejaVu Sans", sans-serif' font-weight="bold" font-size="8.47" fill="#c9060c"  stroke="#c9060c" stroke-width="0.25" stroke-linejoin="round">245</text>
<text transform="translate(100.18,1814.60) scale(1.2311,1)" font-family='"DejaVu Sans", sans-serif' font-weight="bold" font-size="9.21" fill="#c9060c"  stroke="#c9060c" stroke-width="0.25" stroke-linejoin="round">191</text>
<text transform="translate(106.86,1833.53) scale(1.1802,1)" font-family='"DejaVu Sans", sans-serif' font-weight="bold" font-size="9.53" fill="#c9060c"  stroke="#c9060c" stroke-width="0.25" stroke-linejoin="round">136</text>
<text transform="translate(140.17,1835.40) scale(1.1971,1)" font-family='"DejaVu Sans", sans-serif' font-weight="bold" font-size="9.56" fill="#c9060c"  stroke="#c9060c" stroke-width="0.25" stroke-linejoin="round">179</text>
<rect x="361.4" y="1790.2" width="301.7" height="201.0" fill="#eef5ea"/>
<line x1="485.4" y1="1886.5" x2="511.4" y2="1901.6" stroke="#3c3c3c" stroke-width="1.15" stroke-linecap="round"/>
<line x1="511.4" y1="1901.6" x2="511.4" y2="1932.0" stroke="#3c3c3c" stroke-width="1.15" stroke-linecap="round"/>
<line x1="511.4" y1="1932.0" x2="485.4" y2="1946.9" stroke="#3c3c3c" stroke-width="1.15" stroke-linecap="round"/>
<line x1="485.4" y1="1946.9" x2="459.3" y2="1932.0" stroke="#3c3c3c" stroke-width="1.15" stroke-linecap="round"/>
<line x1="459.3" y1="1932.0" x2="459.3" y2="1901.6" stroke="#3c3c3c" stroke-width="1.15" stroke-linecap="round"/>
<line x1="459.3" y1="1901.6" x2="485.4" y2="1886.5" stroke="#3c3c3c" stroke-width="1.15" stroke-linecap="round"/>
<line x1="486.9" y1="1891.5" x2="506.2" y2="1902.8" stroke="#3c3c3c" stroke-width="1.15" stroke-linecap="round"/>
<line x1="506.3" y1="1930.8" x2="487.0" y2="1941.8" stroke="#3c3c3c" stroke-width="1.15" stroke-linecap="round"/>
<line x1="462.9" y1="1928.0" x2="462.9" y2="1905.6" stroke="#3c3c3c" stroke-width="1.15" stroke-linecap="round"/>
<line x1="485.4" y1="1886.5" x2="485.4" y2="1861.3" stroke="#3c3c3c" stroke-width="1.15" stroke-linecap="round"/>
<text transform="translate(480.72,1858.67) scale(1.0291,1)" font-family='"Liberation Sans", sans-serif' font-weight="normal" font-size="10.88" fill="#2a2a2a" >OH</text>
<line x1="511.4" y1="1932.0" x2="538.0" y2="1946.9" stroke="#3c3c3c" stroke-width="1.15" stroke-linecap="round"/>
<line x1="538.0" y1="1946.9" x2="564.8" y2="1932.0" stroke="#3c3c3c" stroke-width="1.15" stroke-linecap="round"/>
<line x1="564.8" y1="1932.0" x2="591.3" y2="1946.9" stroke="#3c3c3c" stroke-width="1.15" stroke-linecap="round"/>
<line x1="591.3" y1="1946.9" x2="618.1" y2="1932.0" stroke="#3c3c3c" stroke-width="1.15" stroke-linecap="round"/>
<line x1="618.1" y1="1932.0" x2="644.7" y2="1946.9" stroke="#3c3c3c" stroke-width="1.15" stroke-linecap="round"/>
<line x1="459.3" y1="1901.6" x2="432.7" y2="1886.9" stroke="#3c3c3c" stroke-width="1.15" stroke-linecap="round"/>
<line x1="432.7" y1="1886.9" x2="406.7" y2="1902.3" stroke="#3c3c3c" stroke-width="1.15" stroke-linecap="round"/>
<line x1="406.7" y1="1902.3" x2="406.7" y2="1933.1" stroke="#3c3c3c" stroke-width="1.15" stroke-linecap="round"/>
<line x1="406.7" y1="1933.1" x2="426.1" y2="1943.8" stroke="#3c3c3c" stroke-width="1.15" stroke-linecap="round"/>
<text transform="translate(427.92,1951.11) scale(1.0291,1)" font-family='"Liberation Sans", sans-serif' font-weight="normal" font-size="10.88" fill="#2a2a2a" >O</text>
<line x1="438.4" y1="1944.1" x2="459.3" y2="1932.0" stroke="#3c3c3c" stroke-width="1.15" stroke-linecap="round"/>
<line x1="406.7" y1="1933.1" x2="376.8" y2="1941.4" stroke="#3c3c3c" stroke-width="1.15" stroke-linecap="round"/>
<line x1="406.7" y1="1933.1" x2="391.0" y2="1959.9" stroke="#3c3c3c" stroke-width="1.15" stroke-linecap="round"/>
<line x1="432.7" y1="1886.9" x2="432.7" y2="1856.1" stroke="#3c3c3c" stroke-width="1.15" stroke-linecap="round"/>
<line x1="432.7" y1="1856.1" x2="406.7" y2="1841.9" stroke="#3c3c3c" stroke-width="1.15" stroke-linecap="round"/>
<line x1="406.7" y1="1841.9" x2="380.6" y2="1856.6" stroke="#3c3c3c" stroke-width="1.15" stroke-linecap="round"/>
<line x1="380.6" y1="1856.6" x2="380.6" y2="1886.9" stroke="#3c3c3c" stroke-width="1.15" stroke-linecap="round"/>
<line x1="380.6" y1="1886.9" x2="406.7" y2="1902.3" stroke="#3c3c3c" stroke-width="1.15" stroke-linecap="round"/>
<line x1="406.7" y1="1841.9" x2="406.7" y2="1811.1" stroke="#3c3c3c" stroke-width="1.15" stroke-linecap="round"/>
<line x1="408.3" y1="1846.9" x2="427.6" y2="1857.4" stroke="#3c3c3c" stroke-width="1.15" stroke-linecap="round"/>
<path d="M435.9 1885.5L435.5 1884.9M439.1 1884.1L438.3 1882.8M442.2 1882.7L441.1 1880.8M445.4 1881.3L443.8 1878.8M448.5 1880.0L446.6 1876.7M451.7 1878.6L449.4 1874.7M454.8 1877.2L452.2 1872.6M458.0 1875.8L454.9 1870.6" stroke="#222" stroke-width="0.9" fill="none"/>
<text transform="translate(457.15,1873.47) scale(1.0000,1)" font-family='"Liberation Sans", sans-serif' font-weight="normal" font-size="11.20" fill="#2a2a2a" >H</text>
<polygon points="406.7,1902.3 381.9,1912.1 385.0,1917.7" fill="#000"/>
<text transform="translate(373.00,1922.78) scale(1.0000,1)" font-family='"Liberation Sans", sans-serif' font-weight="normal" font-size="11.20" fill="#2a2a2a" >H</text>
<path d="M545.8 1833.6L456.9 1833.6L380.6 1905.9" stroke="#c9060c" stroke-width="1.6" stroke-dasharray="6.6 4.2" fill="none"/>
<path d="M545.8 1849.0L456.9 1849.0L414.3 1891.7L414.3 1959.2" stroke="#c9060c" stroke-width="1.6" stroke-dasharray="6.6 4.2" fill="none"/>
<path d="M456.9 1882.2L419.0 1959.9L532.8 1959.9" stroke="#c9060c" stroke-width="1.6" stroke-dasharray="6.6 4.2" fill="none"/>
<text transform="translate(523.02,1846.82) scale(1.0674,1)" font-family='"DejaVu Sans", sans-serif' font-weight="bold" font-size="10.31" fill="#c9060c"  stroke="#c9060c" stroke-width="0.25" stroke-linejoin="round">245</text>
<text transform="translate(522.68,1864.84) scale(1.0773,1)" font-family='"DejaVu Sans", sans-serif' font-weight="bold" font-size="10.03" fill="#c9060c"  stroke="#c9060c" stroke-width="0.25" stroke-linejoin="round">191</text>
<text transform="translate(509.14,1957.75) scale(1.0344,1)" font-family='"DejaVu Sans", sans-serif' font-weight="bold" font-size="10.66" fill="#c9060c"  stroke="#c9060c" stroke-width="0.25" stroke-linejoin="round">179</text>
<rect x="673.3" y="1790.9" width="289.9" height="201.9" fill="#eef5ea"/>
<line x1="801.3" y1="1895.2" x2="826.9" y2="1909.9" stroke="#3c3c3c" stroke-width="1.15" stroke-linecap="round"/>
<line x1="826.9" y1="1909.9" x2="826.9" y2="1939.5" stroke="#3c3c3c" stroke-width="1.15" stroke-linecap="round"/>
<line x1="826.9" y1="1939.5" x2="801.3" y2="1954.5" stroke="#3c3c3c" stroke-width="1.15" stroke-linecap="round"/>
<line x1="801.3" y1="1954.5" x2="775.7" y2="1939.5" stroke="#3c3c3c" stroke-width="1.15" stroke-linecap="round"/>
<line x1="775.7" y1="1939.5" x2="775.7" y2="1909.9" stroke="#3c3c3c" stroke-width="1.15" stroke-linecap="round"/>
<line x1="775.7" y1="1909.9" x2="801.3" y2="1895.2" stroke="#3c3c3c" stroke-width="1.15" stroke-linecap="round"/>
<line x1="802.8" y1="1900.3" x2="821.8" y2="1911.1" stroke="#3c3c3c" stroke-width="1.15" stroke-linecap="round"/>
<line x1="821.8" y1="1938.4" x2="802.8" y2="1949.4" stroke="#3c3c3c" stroke-width="1.15" stroke-linecap="round"/>
<line x1="779.3" y1="1935.7" x2="779.3" y2="1913.8" stroke="#3c3c3c" stroke-width="1.15" stroke-linecap="round"/>
<line x1="801.3" y1="1895.2" x2="801.3" y2="1871.5" stroke="#3c3c3c" stroke-width="1.15" stroke-linecap="round"/>
<text transform="translate(796.17,1868.86) scale(1.0291,1)" font-family='"Liberation Sans", sans-serif' font-weight="normal" font-size="10.88" fill="#2a2a2a" >OH</text>
<line x1="775.7" y1="1939.5" x2="755.1" y2="1951.4" stroke="#3c3c3c" stroke-width="1.15" stroke-linecap="round"/>
<text transform="translate(737.00,1958.22) scale(1.0291,1)" font-family='"Liberation Sans", sans-serif' font-weight="normal" font-size="10.88" fill="#2a2a2a" >HO</text>
<line x1="826.9" y1="1939.5" x2="852.3" y2="1954.5" stroke="#3c3c3c" stroke-width="1.15" stroke-linecap="round"/>
<line x1="852.3" y1="1954.5" x2="878.3" y2="1939.5" stroke="#3c3c3c" stroke-width="1.15" stroke-linecap="round"/>
<line x1="878.3" y1="1939.5" x2="903.9" y2="1954.5" stroke="#3c3c3c" stroke-width="1.15" stroke-linecap="round"/>
<line x1="903.9" y1="1954.5" x2="929.8" y2="1939.5" stroke="#3c3c3c" stroke-width="1.15" stroke-linecap="round"/>
<line x1="929.8" y1="1939.5" x2="955.4" y2="1954.5" stroke="#3c3c3c" stroke-width="1.15" stroke-linecap="round"/>
<line x1="734.2" y1="1886.9" x2="734.2" y2="1856.6" stroke="#3c3c3c" stroke-width="1.15" stroke-linecap="round"/>
<line x1="734.2" y1="1856.6" x2="708.4" y2="1841.9" stroke="#3c3c3c" stroke-width="1.15" stroke-linecap="round"/>
<line x1="708.4" y1="1841.9" x2="682.8" y2="1856.6" stroke="#3c3c3c" stroke-width="1.15" stroke-linecap="round"/>
<line x1="682.8" y1="1856.6" x2="682.8" y2="1886.5" stroke="#3c3c3c" stroke-width="1.15" stroke-linecap="round"/>
<line x1="682.8" y1="1886.5" x2="708.4" y2="1901.1" stroke="#3c3c3c" stroke-width="1.15" stroke-linecap="round"/>
<line x1="708.4" y1="1901.1" x2="734.2" y2="1886.9" stroke="#3c3c3c" stroke-width="1.15" stroke-linecap="round"/>
<line x1="708.4" y1="1841.9" x2="708.4" y2="1811.5" stroke="#3c3c3c" stroke-width="1.15" stroke-linecap="round"/>
<line x1="710.0" y1="1846.9" x2="729.1" y2="1857.8" stroke="#3c3c3c" stroke-width="1.15" stroke-linecap="round"/>
<polygon points="734.2,1886.9 774.0,1912.9 777.3,1906.9" fill="#000"/>
<path d="M708.1 1904.0L708.6 1904.0M707.9 1906.8L708.9 1906.8M707.6 1909.7L709.2 1909.7M707.3 1912.5L709.4 1912.5M707.1 1915.4L709.7 1915.4M706.8 1918.2L709.9 1918.2M706.6 1921.1L710.2 1921.1M706.3 1923.9L710.5 1923.9M706.0 1926.7L710.7 1926.7M705.8 1929.6L711.0 1929.6" stroke="#222" stroke-width="0.9" fill="none"/>
<line x1="708.4" y1="1931.3" x2="682.8" y2="1946.2" stroke="#3c3c3c" stroke-width="1.15" stroke-linecap="round"/>
<line x1="708.4" y1="1931.3" x2="734.9" y2="1946.2" stroke="#3c3c3c" stroke-width="1.15" stroke-linecap="round"/>
<line x1="710.8" y1="1928.2" x2="736.3" y2="1942.6" stroke="#3c3c3c" stroke-width="1.15" stroke-linecap="round"/>
<path d="M849.9 1841.9L759.8 1841.9L680.4 1895.2" stroke="#c9060c" stroke-width="1.6" stroke-dasharray="6.6 4.2" fill="none"/>
<path d="M849.9 1855.6L759.8 1855.6L720.7 1882.2L720.7 1924.9" stroke="#c9060c" stroke-width="1.6" stroke-dasharray="6.6 4.2" fill="none"/>
<path d="M780.0 1885.7L721.9 1969.9L866.5 1969.9" stroke="#c9060c" stroke-width="1.6" stroke-dasharray="6.6 4.2" fill="none"/>
<text transform="translate(829.44,1854.17) scale(1.0590,1)" font-family='"DejaVu Sans", sans-serif' font-weight="bold" font-size="10.62" fill="#c9060c"  stroke="#c9060c" stroke-width="0.25" stroke-linejoin="round">245</text>
<text transform="translate(829.05,1871.72) scale(1.1760,1)" font-family='"DejaVu Sans", sans-serif' font-weight="bold" font-size="9.72" fill="#c9060c"  stroke="#c9060c" stroke-width="0.25" stroke-linejoin="round">191</text>
<text transform="translate(840.48,1968.43) scale(1.0992,1)" font-family='"DejaVu Sans", sans-serif' font-weight="bold" font-size="10.03" fill="#c9060c"  stroke="#c9060c" stroke-width="0.25" stroke-linejoin="round">179</text>
<rect x="975.6" y="1794.9" width="371.6" height="201.2" fill="#eef5ea"/>
<line x1="1189.0" y1="1892.5" x2="1214.3" y2="1907.4" stroke="#3c3c3c" stroke-width="1.15" stroke-linecap="round"/>
<line x1="1214.3" y1="1907.4" x2="1214.3" y2="1936.2" stroke="#3c3c3c" stroke-width="1.15" stroke-linecap="round"/>
<line x1="1214.3" y1="1936.2" x2="1189.0" y2="1950.5" stroke="#3c3c3c" stroke-width="1.15" stroke-linecap="round"/>
<line x1="1189.0" y1="1950.5" x2="1163.4" y2="1936.2" stroke="#3c3c3c" stroke-width="1.15" stroke-linecap="round"/>
<line x1="1163.4" y1="1936.2" x2="1163.4" y2="1907.4" stroke="#3c3c3c" stroke-width="1.15" stroke-linecap="round"/>
<line x1="1163.4" y1="1907.4" x2="1189.0" y2="1892.5" stroke="#3c3c3c" stroke-width="1.15" stroke-linecap="round"/>
<line x1="1168.5" y1="1908.6" x2="1187.5" y2="1897.6" stroke="#3c3c3c" stroke-width="1.15" stroke-linecap="round"/>
<line x1="1210.7" y1="1911.2" x2="1210.7" y2="1932.4" stroke="#3c3c3c" stroke-width="1.15" stroke-linecap="round"/>
<line x1="1187.4" y1="1945.5" x2="1168.5" y2="1934.9" stroke="#3c3c3c" stroke-width="1.15" stroke-linecap="round"/>
<line x1="1189.0" y1="1892.5" x2="1189.0" y2="1868.9" stroke="#3c3c3c" stroke-width="1.15" stroke-linecap="round"/>
<text transform="translate(1183.04,1866.15) scale(1.0291,1)" font-family='"Liberation Sans", sans-serif' font-weight="normal" font-size="10.88" fill="#2a2a2a" >OH</text>
<line x1="1214.3" y1="1936.2" x2="1239.7" y2="1950.5" stroke="#3c3c3c" stroke-width="1.15" stroke-linecap="round"/>
<line x1="1239.7" y1="1950.5" x2="1265.0" y2="1936.2" stroke="#3c3c3c" stroke-width="1.15" stroke-linecap="round"/>
<line x1="1265.0" y1="1936.2" x2="1290.3" y2="1950.5" stroke="#3c3c3c" stroke-width="1.15" stroke-linecap="round"/>
<line x1="1290.3" y1="1950.5" x2="1315.7" y2="1936.2" stroke="#3c3c3c" stroke-width="1.15" stroke-linecap="round"/>
<line x1="1315.7" y1="1936.2" x2="1341.0" y2="1950.5" stroke="#3c3c3c" stroke-width="1.15" stroke-linecap="round"/>
<line x1="1163.4" y1="1907.4" x2="1138.0" y2="1892.5" stroke="#3c3c3c" stroke-width="1.15" stroke-linecap="round"/>
<line x1="1138.0" y1="1892.5" x2="1112.7" y2="1907.4" stroke="#3c3c3c" stroke-width="1.15" stroke-linecap="round"/>
<line x1="1112.7" y1="1907.4" x2="1112.7" y2="1936.2" stroke="#3c3c3c" stroke-width="1.15" stroke-linecap="round"/>
<line x1="1112.7" y1="1936.2" x2="1131.3" y2="1946.6" stroke="#3c3c3c" stroke-width="1.15" stroke-linecap="round"/>
<text transform="translate(1132.28,1953.69) scale(1.0291,1)" font-family='"Liberation Sans", sans-serif' font-weight="normal" font-size="10.88" fill="#2a2a2a" >O</text>
<line x1="1142.3" y1="1947.7" x2="1163.4" y2="1936.2" stroke="#3c3c3c" stroke-width="1.15" stroke-linecap="round"/>
<line x1="1136.6" y1="1897.6" x2="1117.8" y2="1908.6" stroke="#3c3c3c" stroke-width="1.15" stroke-linecap="round"/>
<path d="M1112.7 1936.2Q1109.6 1935.4 1110.3 1938.5Q1111.0 1941.7 1107.9 1940.9Q1104.7 1940.2 1105.4 1943.3Q1106.1 1946.5 1103.0 1945.7Q1099.9 1945.0 1100.6 1948.1Q1101.3 1951.2 1098.1 1950.5Q1095.0 1949.8 1095.7 1952.9Q1096.4 1956.0 1093.3 1955.3" stroke="#3c3c3c" stroke-width="1.1" fill="none"/>
<line x1="1112.7" y1="1936.2" x2="1086.8" y2="1921.5" stroke="#3c3c3c" stroke-width="1.15" stroke-linecap="round"/>
<line x1="1086.8" y1="1921.5" x2="1061.5" y2="1936.2" stroke="#3c3c3c" stroke-width="1.15" stroke-linecap="round"/>
<line x1="1061.5" y1="1936.2" x2="1036.1" y2="1921.5" stroke="#3c3c3c" stroke-width="1.15" stroke-linecap="round"/>
<line x1="1036.1" y1="1921.5" x2="1010.8" y2="1936.2" stroke="#3c3c3c" stroke-width="1.15" stroke-linecap="round"/>
<line x1="1010.8" y1="1936.2" x2="984.6" y2="1921.5" stroke="#3c3c3c" stroke-width="1.15" stroke-linecap="round"/>
<line x1="1010.8" y1="1936.2" x2="1010.8" y2="1965.1" stroke="#3c3c3c" stroke-width="1.15" stroke-linecap="round"/>
<line x1="1031.1" y1="1920.3" x2="1012.3" y2="1931.1" stroke="#3c3c3c" stroke-width="1.15" stroke-linecap="round"/>
<path d="M1297.9 1826.7L1074.7 1826.7L1074.7 1949.7" stroke="#c9060c" stroke-width="1.6" stroke-dasharray="6.6 4.2" fill="none"/>
<path d="M1295.1 1832.3L1119.2 1832.3L1119.2 1955.3" stroke="#c9060c" stroke-width="1.6" stroke-dasharray="6.6 4.2" fill="none"/>
<path d="M1295.1 1837.9L1175.5 1837.9L1122.0 1956.7" stroke="#c9060c" stroke-width="1.6" stroke-dasharray="6.6 4.2" fill="none"/>
<text transform="translate(1090.24,1846.64) scale(1.0666,1)" font-family='"DejaVu Sans", sans-serif' font-weight="bold" font-size="10.82" fill="#c9060c"  stroke="#c9060c" stroke-width="0.25" stroke-linejoin="round">243</text>
<text transform="translate(1125.04,1847.22) scale(1.1992,1)" font-family='"DejaVu Sans", sans-serif' font-weight="bold" font-size="9.74" fill="#c9060c"  stroke="#c9060c" stroke-width="0.25" stroke-linejoin="round">191</text>
<text transform="translate(1179.96,1852.27) scale(1.0457,1)" font-family='"DejaVu Sans", sans-serif' font-weight="bold" font-size="10.85" fill="#c9060c"  stroke="#c9060c" stroke-width="0.25" stroke-linejoin="round">179</text>
<rect x="212.8" y="2034.8" width="309.5" height="201.8" fill="#eef5ea"/>
<line x1="342.6" y1="2134.3" x2="369.5" y2="2149.7" stroke="#3c3c3c" stroke-width="1.15" stroke-linecap="round"/>
<line x1="369.5" y1="2149.7" x2="369.5" y2="2181.0" stroke="#3c3c3c" stroke-width="1.15" stroke-linecap="round"/>
<line x1="369.5" y1="2181.0" x2="342.6" y2="2196.6" stroke="#3c3c3c" stroke-width="1.15" stroke-linecap="round"/>
<line x1="342.6" y1="2196.6" x2="315.5" y2="2181.0" stroke="#3c3c3c" stroke-width="1.15" stroke-linecap="round"/>
<line x1="315.5" y1="2181.0" x2="315.5" y2="2149.7" stroke="#3c3c3c" stroke-width="1.15" stroke-linecap="round"/>
<line x1="315.5" y1="2149.7" x2="342.6" y2="2134.3" stroke="#3c3c3c" stroke-width="1.15" stroke-linecap="round"/>
<line x1="344.3" y1="2139.4" x2="364.2" y2="2150.8" stroke="#3c3c3c" stroke-width="1.15" stroke-linecap="round"/>
<line x1="364.2" y1="2179.9" x2="344.3" y2="2191.5" stroke="#3c3c3c" stroke-width="1.15" stroke-linecap="round"/>
<line x1="319.1" y1="2176.9" x2="319.1" y2="2153.7" stroke="#3c3c3c" stroke-width="1.15" stroke-linecap="round"/>
<line x1="342.6" y1="2134.3" x2="342.6" y2="2109.3" stroke="#3c3c3c" stroke-width="1.15" stroke-linecap="round"/>
<text transform="translate(337.60,2106.47) scale(1.0291,1)" font-family='"Liberation Sans", sans-serif' font-weight="normal" font-size="10.88" fill="#2a2a2a" >OH</text>
<line x1="369.5" y1="2181.0" x2="396.9" y2="2196.6" stroke="#3c3c3c" stroke-width="1.15" stroke-linecap="round"/>
<line x1="396.9" y1="2196.6" x2="424.5" y2="2181.0" stroke="#3c3c3c" stroke-width="1.15" stroke-linecap="round"/>
<line x1="424.5" y1="2181.0" x2="451.9" y2="2196.6" stroke="#3c3c3c" stroke-width="1.15" stroke-linecap="round"/>
<line x1="451.9" y1="2196.6" x2="479.3" y2="2181.0" stroke="#3c3c3c" stroke-width="1.15" stroke-linecap="round"/>
<line x1="479.3" y1="2181.0" x2="506.9" y2="2196.6" stroke="#3c3c3c" stroke-width="1.15" stroke-linecap="round"/>
<line x1="315.5" y1="2149.7" x2="288.6" y2="2134.3" stroke="#3c3c3c" stroke-width="1.15" stroke-linecap="round"/>
<line x1="288.6" y1="2134.3" x2="261.2" y2="2150.9" stroke="#3c3c3c" stroke-width="1.15" stroke-linecap="round"/>
<line x1="261.2" y1="2150.9" x2="261.2" y2="2182.7" stroke="#3c3c3c" stroke-width="1.15" stroke-linecap="round"/>
<line x1="261.2" y1="2182.7" x2="281.3" y2="2193.9" stroke="#3c3c3c" stroke-width="1.15" stroke-linecap="round"/>
<text transform="translate(283.02,2201.32) scale(1.0291,1)" font-family='"Liberation Sans", sans-serif' font-weight="normal" font-size="10.88" fill="#2a2a2a" >O</text>
<line x1="293.5" y1="2193.7" x2="315.5" y2="2181.0" stroke="#3c3c3c" stroke-width="1.15" stroke-linecap="round"/>
<line x1="261.2" y1="2182.7" x2="230.7" y2="2191.2" stroke="#3c3c3c" stroke-width="1.15" stroke-linecap="round"/>
<line x1="261.2" y1="2182.7" x2="245.3" y2="2210.0" stroke="#3c3c3c" stroke-width="1.15" stroke-linecap="round"/>
<line x1="288.6" y1="2134.3" x2="288.6" y2="2103.7" stroke="#3c3c3c" stroke-width="1.15" stroke-linecap="round"/>
<line x1="288.6" y1="2103.7" x2="261.2" y2="2088.1" stroke="#3c3c3c" stroke-width="1.15" stroke-linecap="round"/>
<line x1="261.2" y1="2088.1" x2="234.3" y2="2103.7" stroke="#3c3c3c" stroke-width="1.15" stroke-linecap="round"/>
<line x1="234.3" y1="2103.7" x2="234.3" y2="2135.0" stroke="#3c3c3c" stroke-width="1.15" stroke-linecap="round"/>
<line x1="234.3" y1="2135.0" x2="261.2" y2="2150.9" stroke="#3c3c3c" stroke-width="1.15" stroke-linecap="round"/>
<line x1="261.2" y1="2088.1" x2="261.2" y2="2056.3" stroke="#3c3c3c" stroke-width="1.15" stroke-linecap="round"/>
<line x1="259.5" y1="2093.2" x2="239.6" y2="2104.8" stroke="#3c3c3c" stroke-width="1.15" stroke-linecap="round"/>
<path d="M291.8 2132.9L291.4 2132.3M295.0 2131.6L294.2 2130.3M298.1 2130.2L297.0 2128.2M301.3 2128.9L299.8 2126.2M304.5 2127.5L302.7 2124.2M307.7 2126.1L305.5 2122.2M310.8 2124.8L308.3 2120.2M314.0 2123.4L311.1 2118.2" stroke="#222" stroke-width="0.9" fill="none"/>
<text transform="translate(313.40,2121.74) scale(1.0000,1)" font-family='"Liberation Sans", sans-serif' font-weight="normal" font-size="11.20" fill="#2a2a2a" >H</text>
<polygon points="261.2,2150.9 235.7,2161.5 238.8,2167.1" fill="#000"/>
<text transform="translate(226.38,2172.34) scale(1.0000,1)" font-family='"Liberation Sans", sans-serif' font-weight="normal" font-size="11.20" fill="#2a2a2a" >H</text>
<path d="M401.8 2079.5L313.3 2079.5L238.0 2153.3" stroke="#c9060c" stroke-width="1.6" stroke-dasharray="6.6 4.2" fill="none"/>
<path d="M401.8 2095.9L313.3 2095.9L269.0 2139.9L269.0 2202.2" stroke="#c9060c" stroke-width="1.6" stroke-dasharray="6.6 4.2" fill="none"/>
<path d="M312.6 2136.2L275.9 2206.4L389.6 2206.4" stroke="#c9060c" stroke-width="1.6" stroke-dasharray="6.6 4.2" fill="none"/>
<text transform="translate(381.96,2092.43) scale(1.0312,1)" font-family='"DejaVu Sans", sans-serif' font-weight="bold" font-size="10.64" fill="#c9060c"  stroke="#c9060c" stroke-width="0.25" stroke-linejoin="round">245</text>
<text transform="translate(381.63,2110.28) scale(1.0730,1)" font-family='"DejaVu Sans", sans-serif' font-weight="bold" font-size="10.03" fill="#c9060c"  stroke="#c9060c" stroke-width="0.25" stroke-linejoin="round">191</text>
<text transform="translate(365.21,2203.90) scale(1.0738,1)" font-family='"DejaVu Sans", sans-serif' font-weight="bold" font-size="10.35" fill="#c9060c"  stroke="#c9060c" stroke-width="0.25" stroke-linejoin="round">179</text>
<rect x="532.1" y="2035.6" width="325.3" height="201.4" fill="#eef5ea"/>
<line x1="680.6" y1="2120.7" x2="707.6" y2="2136.6" stroke="#3c3c3c" stroke-width="1.15" stroke-linecap="round"/>
<line x1="707.6" y1="2136.6" x2="707.6" y2="2168.6" stroke="#3c3c3c" stroke-width="1.15" stroke-linecap="round"/>
<line x1="707.6" y1="2168.6" x2="680.6" y2="2184.2" stroke="#3c3c3c" stroke-width="1.15" stroke-linecap="round"/>
<line x1="680.6" y1="2184.2" x2="652.9" y2="2168.6" stroke="#3c3c3c" stroke-width="1.15" stroke-linecap="round"/>
<line x1="652.9" y1="2168.6" x2="652.9" y2="2136.6" stroke="#3c3c3c" stroke-width="1.15" stroke-linecap="round"/>
<line x1="652.9" y1="2136.6" x2="680.6" y2="2120.7" stroke="#3c3c3c" stroke-width="1.15" stroke-linecap="round"/>
<line x1="682.3" y1="2125.9" x2="702.3" y2="2137.6" stroke="#3c3c3c" stroke-width="1.15" stroke-linecap="round"/>
<line x1="702.3" y1="2167.5" x2="682.3" y2="2179.0" stroke="#3c3c3c" stroke-width="1.15" stroke-linecap="round"/>
<line x1="656.5" y1="2164.4" x2="656.5" y2="2140.7" stroke="#3c3c3c" stroke-width="1.15" stroke-linecap="round"/>
<line x1="680.6" y1="2120.7" x2="680.6" y2="2095.5" stroke="#3c3c3c" stroke-width="1.15" stroke-linecap="round"/>
<text transform="translate(675.46,2092.96) scale(1.0291,1)" font-family='"Liberation Sans", sans-serif' font-weight="normal" font-size="10.88" fill="#2a2a2a" >OH</text>
<line x1="707.6" y1="2168.6" x2="735.3" y2="2184.2" stroke="#3c3c3c" stroke-width="1.15" stroke-linecap="round"/>
<line x1="735.3" y1="2184.2" x2="763.0" y2="2168.6" stroke="#3c3c3c" stroke-width="1.15" stroke-linecap="round"/>
<line x1="763.0" y1="2168.6" x2="790.7" y2="2184.2" stroke="#3c3c3c" stroke-width="1.15" stroke-linecap="round"/>
<line x1="790.7" y1="2184.2" x2="818.4" y2="2168.6" stroke="#3c3c3c" stroke-width="1.15" stroke-linecap="round"/>
<line x1="818.4" y1="2168.6" x2="846.1" y2="2184.2" stroke="#3c3c3c" stroke-width="1.15" stroke-linecap="round"/>
<line x1="652.9" y1="2136.6" x2="625.7" y2="2120.7" stroke="#3c3c3c" stroke-width="1.15" stroke-linecap="round"/>
<line x1="625.7" y1="2120.7" x2="594.3" y2="2106.9" stroke="#3c3c3c" stroke-width="1.15" stroke-linecap="round"/>
<line x1="594.3" y1="2106.9" x2="565.3" y2="2127.0" stroke="#3c3c3c" stroke-width="1.15" stroke-linecap="round"/>
<line x1="565.3" y1="2127.0" x2="597.5" y2="2136.3" stroke="#3c3c3c" stroke-width="1.15" stroke-linecap="round"/>
<line x1="597.5" y1="2136.3" x2="625.7" y2="2120.7" stroke="#3c3c3c" stroke-width="1.15" stroke-linecap="round"/>
<line x1="594.3" y1="2106.9" x2="578.4" y2="2079.9" stroke="#3c3c3c" stroke-width="1.15" stroke-linecap="round"/>
<line x1="594.3" y1="2106.9" x2="610.6" y2="2079.9" stroke="#3c3c3c" stroke-width="1.15" stroke-linecap="round"/>
<line x1="597.5" y1="2136.3" x2="597.5" y2="2169.1" stroke="#3c3c3c" stroke-width="1.15" stroke-linecap="round"/>
<line x1="597.5" y1="2169.1" x2="617.7" y2="2180.6" stroke="#3c3c3c" stroke-width="1.15" stroke-linecap="round"/>
<text transform="translate(620.38,2188.16) scale(1.0291,1)" font-family='"Liberation Sans", sans-serif' font-weight="normal" font-size="10.88" fill="#2a2a2a" >O</text>
<line x1="630.8" y1="2181.1" x2="652.9" y2="2168.6" stroke="#3c3c3c" stroke-width="1.15" stroke-linecap="round"/>
<line x1="597.5" y1="2169.1" x2="567.8" y2="2177.9" stroke="#3c3c3c" stroke-width="1.15" stroke-linecap="round"/>
<line x1="567.8" y1="2177.9" x2="548.4" y2="2152.7" stroke="#3c3c3c" stroke-width="1.15" stroke-linecap="round"/>
<line x1="548.4" y1="2152.7" x2="565.3" y2="2127.0" stroke="#3c3c3c" stroke-width="1.15" stroke-linecap="round"/>
<polygon points="625.7,2120.7 632.5,2114.5 628.0,2111.8" fill="#000"/>
<text transform="translate(628.75,2111.46) scale(1.0000,1)" font-family='"Liberation Sans", sans-serif' font-weight="normal" font-size="11.20" fill="#2a2a2a" >H</text>
<polygon points="565.3,2127.0 560.0,2118.3 556.4,2122.1" fill="#000"/>
<text transform="translate(548.15,2119.01) scale(1.0000,1)" font-family='"Liberation Sans", sans-serif' font-weight="normal" font-size="11.20" fill="#2a2a2a" >H</text>
<polygon points="597.5,2136.3 595.9,2126.6 591.2,2128.9" fill="#000"/>
<text transform="translate(585.93,2124.55) scale(1.0000,1)" font-family='"Liberation Sans", sans-serif' font-weight="normal" font-size="11.20" fill="#2a2a2a" >H</text>
<polygon points="597.5,2169.1 581.3,2193.5 587.0,2196.5" fill="#000"/>
<path d="M741.6 2059.0L613.7 2059.0L613.7 2188.7" stroke="#c9060c" stroke-width="1.6" stroke-dasharray="6.6 4.2" fill="none"/>
<path d="M742.9 2064.8L670.6 2064.8L616.9 2184.9" stroke="#c9060c" stroke-width="1.6" stroke-dasharray="6.6 4.2" fill="none"/>
<path d="M608.1 2091.0L574.9 2091.0L574.9 2210.1" stroke="#c9060c" stroke-width="1.6" stroke-dasharray="6.6 4.2" fill="none"/>
<text transform="translate(619.09,2072.58) scale(1.1326,1)" font-family='"DejaVu Sans", sans-serif' font-weight="bold" font-size="9.68" fill="#c9060c"  stroke="#c9060c" stroke-width="0.25" stroke-linejoin="round">191</text>
<text transform="translate(674.22,2080.89) scale(1.1569,1)" font-family='"DejaVu Sans", sans-serif' font-weight="bold" font-size="9.68" fill="#c9060c"  stroke="#c9060c" stroke-width="0.25" stroke-linejoin="round">179</text>
<text transform="translate(580.89,2213.60) scale(1.0547,1)" font-family='"DejaVu Sans", sans-serif' font-weight="bold" font-size="10.64" fill="#c9060c"  stroke="#c9060c" stroke-width="0.25" stroke-linejoin="round">243</text>
<rect x="869.3" y="2036.3" width="315.6" height="202.3" fill="#eef5ea"/>
<line x1="1002.8" y1="2132.8" x2="1028.7" y2="2147.9" stroke="#3c3c3c" stroke-width="1.15" stroke-linecap="round"/>
<line x1="1028.7" y1="2147.9" x2="1028.7" y2="2178.1" stroke="#3c3c3c" stroke-width="1.15" stroke-linecap="round"/>
<line x1="1028.7" y1="2178.1" x2="1002.8" y2="2193.2" stroke="#3c3c3c" stroke-width="1.15" stroke-linecap="round"/>
<line x1="1002.8" y1="2193.2" x2="976.4" y2="2178.1" stroke="#3c3c3c" stroke-width="1.15" stroke-linecap="round"/>
<line x1="976.4" y1="2178.1" x2="976.4" y2="2147.9" stroke="#3c3c3c" stroke-width="1.15" stroke-linecap="round"/>
<line x1="976.4" y1="2147.9" x2="1002.8" y2="2132.8" stroke="#3c3c3c" stroke-width="1.15" stroke-linecap="round"/>
<line x1="1004.4" y1="2137.9" x2="1023.6" y2="2149.0" stroke="#3c3c3c" stroke-width="1.15" stroke-linecap="round"/>
<line x1="1023.6" y1="2177.0" x2="1004.4" y2="2188.2" stroke="#3c3c3c" stroke-width="1.15" stroke-linecap="round"/>
<line x1="980.0" y1="2174.2" x2="980.0" y2="2151.8" stroke="#3c3c3c" stroke-width="1.15" stroke-linecap="round"/>
<line x1="1002.8" y1="2132.8" x2="1002.8" y2="2108.9" stroke="#3c3c3c" stroke-width="1.15" stroke-linecap="round"/>
<text transform="translate(997.62,2105.56) scale(1.0291,1)" font-family='"Liberation Sans", sans-serif' font-weight="normal" font-size="10.88" fill="#2a2a2a" >OH</text>
<line x1="1028.7" y1="2178.1" x2="1054.4" y2="2193.2" stroke="#3c3c3c" stroke-width="1.15" stroke-linecap="round"/>
<line x1="1054.4" y1="2193.2" x2="1080.9" y2="2178.1" stroke="#3c3c3c" stroke-width="1.15" stroke-linecap="round"/>
<line x1="1080.9" y1="2178.1" x2="1107.3" y2="2193.2" stroke="#3c3c3c" stroke-width="1.15" stroke-linecap="round"/>
<line x1="1107.3" y1="2193.2" x2="1133.8" y2="2178.1" stroke="#3c3c3c" stroke-width="1.15" stroke-linecap="round"/>
<line x1="1133.8" y1="2178.1" x2="1159.7" y2="2193.2" stroke="#3c3c3c" stroke-width="1.15" stroke-linecap="round"/>
<line x1="950.2" y1="2132.8" x2="950.2" y2="2104.3" stroke="#3c3c3c" stroke-width="1.15" stroke-linecap="round"/>
<line x1="950.2" y1="2104.3" x2="924.2" y2="2089.2" stroke="#3c3c3c" stroke-width="1.15" stroke-linecap="round"/>
<line x1="924.2" y1="2089.2" x2="898.5" y2="2104.3" stroke="#3c3c3c" stroke-width="1.15" stroke-linecap="round"/>
<line x1="898.5" y1="2104.3" x2="898.5" y2="2134.6" stroke="#3c3c3c" stroke-width="1.15" stroke-linecap="round"/>
<line x1="898.5" y1="2134.6" x2="924.2" y2="2148.9" stroke="#3c3c3c" stroke-width="1.15" stroke-linecap="round"/>
<line x1="924.2" y1="2148.9" x2="950.2" y2="2132.8" stroke="#3c3c3c" stroke-width="1.15" stroke-linecap="round"/>
<line x1="945.0" y1="2105.5" x2="925.8" y2="2094.3" stroke="#3c3c3c" stroke-width="1.15" stroke-linecap="round"/>
<line x1="902.1" y1="2108.3" x2="902.1" y2="2130.6" stroke="#3c3c3c" stroke-width="1.15" stroke-linecap="round"/>
<line x1="925.7" y1="2143.8" x2="944.9" y2="2131.8" stroke="#3c3c3c" stroke-width="1.15" stroke-linecap="round"/>
<line x1="976.4" y1="2147.9" x2="950.2" y2="2132.8" stroke="#3c3c3c" stroke-width="1.15" stroke-linecap="round"/>
<line x1="924.2" y1="2089.2" x2="924.2" y2="2058.2" stroke="#3c3c3c" stroke-width="1.15" stroke-linecap="round"/>
<line x1="924.2" y1="2148.9" x2="924.2" y2="2178.1" stroke="#3c3c3c" stroke-width="1.15" stroke-linecap="round"/>
<line x1="924.2" y1="2178.1" x2="943.1" y2="2189.2" stroke="#3c3c3c" stroke-width="1.15" stroke-linecap="round"/>
<text transform="translate(945.30,2196.47) scale(1.0291,1)" font-family='"Liberation Sans", sans-serif' font-weight="normal" font-size="10.88" fill="#2a2a2a" >O</text>
<line x1="955.7" y1="2190.0" x2="976.4" y2="2178.1" stroke="#3c3c3c" stroke-width="1.15" stroke-linecap="round"/>
<line x1="924.2" y1="2178.1" x2="891.5" y2="2178.1" stroke="#3c3c3c" stroke-width="1.15" stroke-linecap="round"/>
<line x1="924.2" y1="2178.1" x2="901.1" y2="2202.6" stroke="#3c3c3c" stroke-width="1.15" stroke-linecap="round"/>
<path d="M907.3 2050.9L989.7 2050.9L989.7 2211.4" stroke="#c9060c" stroke-width="1.6" stroke-dasharray="6.6 4.2" fill="none"/>
<path d="M896.5 2153.4L924.2 2221.4L1048.9 2221.4" stroke="#c9060c" stroke-width="1.6" stroke-dasharray="6.6 4.2" fill="none"/>
<text transform="translate(964.68,2068.45) scale(0.9805,1)" font-family='"DejaVu Sans", sans-serif' font-weight="bold" font-size="11.04" fill="#c9060c"  stroke="#c9060c" stroke-width="0.25" stroke-linejoin="round">171</text>
<text transform="translate(930.27,2218.14) scale(1.0344,1)" font-family='"DejaVu Sans", sans-serif' font-weight="bold" font-size="10.64" fill="#c9060c"  stroke="#c9060c" stroke-width="0.25" stroke-linejoin="round">279</text>
<text transform="translate(65.27,56.95) scale(0.9428,1)" font-family='"Liberation Sans", sans-serif' font-weight="bold" font-size="28.65" fill="#000"  stroke="#000" stroke-width="0.7" stroke-linejoin="round">A</text>
<text transform="translate(2.25,1785.06) scale(0.9626,1)" font-family='"Liberation Sans", sans-serif' font-weight="bold" font-size="28.55" fill="#000"  stroke="#000" stroke-width="0.7" stroke-linejoin="round">O</text>
<text transform="translate(370.57,1785.15) scale(0.8665,1)" font-family='"Liberation Sans", sans-serif' font-weight="bold" font-size="28.80" fill="#000"  stroke="#000" stroke-width="0.7" stroke-linejoin="round">P</text>
<text transform="translate(675.86,1783.08) scale(1.1790,1)" font-family='"Liberation Sans", sans-serif' font-weight="bold" font-size="25.14" fill="#000"  stroke="#000" stroke-width="0.7" stroke-linejoin="round">Q</text>
<text transform="translate(979.18,1787.05) scale(0.8111,1)" font-family='"Liberation Sans", sans-serif' font-weight="bold" font-size="28.65" fill="#000"  stroke="#000" stroke-width="0.7" stroke-linejoin="round">R</text>
<text transform="translate(217.89,2027.86) scale(0.7530,1)" font-family='"Liberation Sans", sans-serif' font-weight="bold" font-size="29.12" fill="#000"  stroke="#000" stroke-width="0.7" stroke-linejoin="round">S</text>
<text transform="translate(538.30,2027.75) scale(0.8872,1)" font-family='"Liberation Sans", sans-serif' font-weight="bold" font-size="28.65" fill="#000"  stroke="#000" stroke-width="0.7" stroke-linejoin="round">T</text>
<text transform="translate(871.68,2027.86) scale(0.9534,1)" font-family='"Liberation Sans", sans-serif' font-weight="bold" font-size="29.25" fill="#000"  stroke="#000" stroke-width="0.7" stroke-linejoin="round">U</text>
</svg>
</body></html>
